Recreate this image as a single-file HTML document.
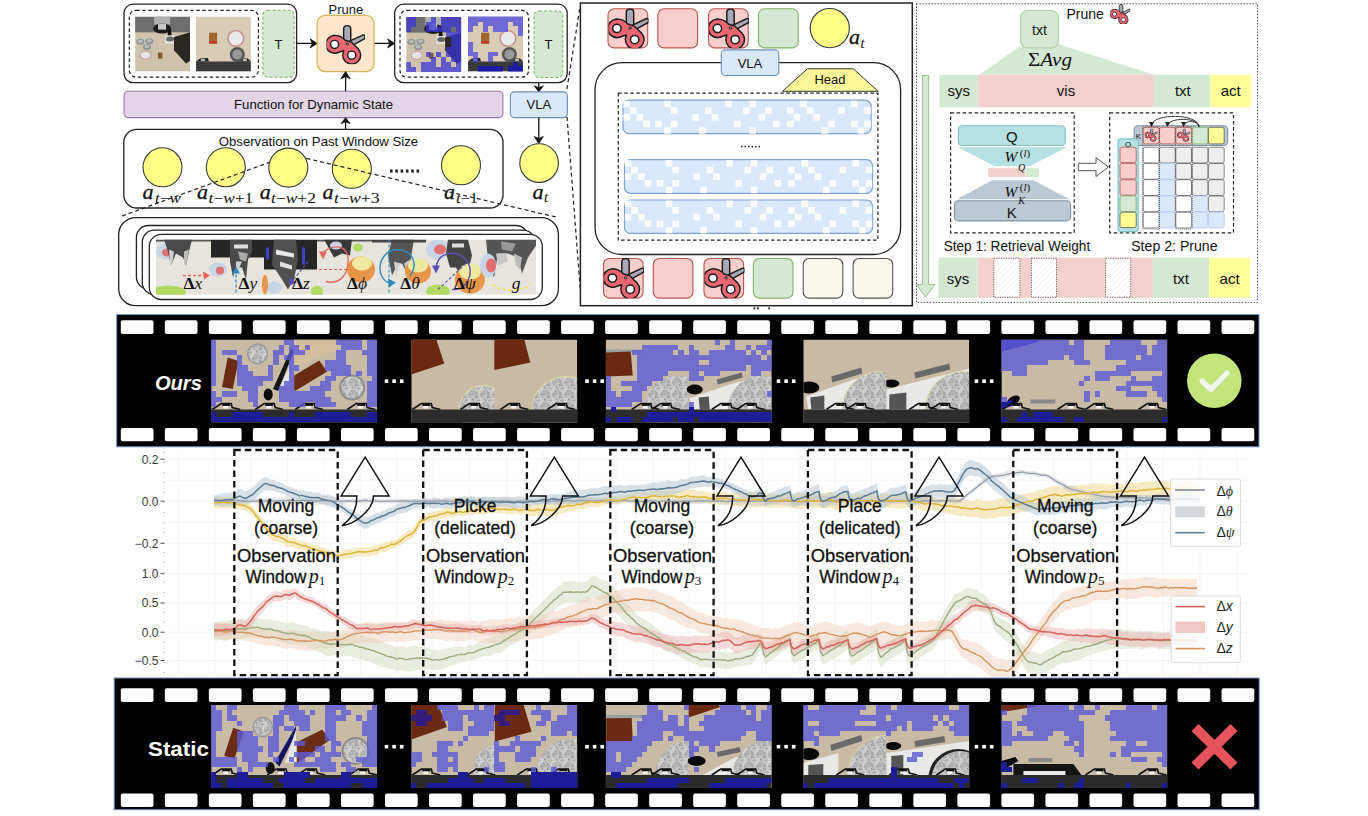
<!DOCTYPE html>
<html><head><meta charset="utf-8"><title>figure</title>
<style>html,body{margin:0;padding:0;background:#fff;} body{width:1368px;height:816px;overflow:hidden;} svg{display:block;}</style>
</head><body>
<svg width="1368" height="816" viewBox="0 0 1368 816">
<defs>
<symbol id="sc" viewBox="0 0 40 40">
  <path d="M17.8,19 L17.8,4 Q17.8,0.6 21.5,0.6 Q25.2,0.6 25.2,4 L25.2,19 Z" fill="#a9a8b4" stroke="#1d1d1d" stroke-width="1.5" stroke-linejoin="round"/>
  <path d="M24,16.8 L37.6,10.4 Q40.2,9.6 40,12.4 L39.6,14.2 L25.8,21.8 Z" fill="#a9a8b4" stroke="#1d1d1d" stroke-width="1.5" stroke-linejoin="round"/>
  <g fill="#1d1d1d" stroke="#1d1d1d" stroke-width="3">
   <circle cx="8.4" cy="20.1" r="8.4"/><circle cx="26.2" cy="31.3" r="8.6"/>
   <path d="M8.4,11.7 C13,11.7 16,13 19,16.5 L25.5,18.5 L32,25 L26.2,31.3 L18.6,31.3 L18.6,26 C14,26.5 11,28.5 8.4,28.5 Z"/>
  </g>
  <g fill="#ea6670">
   <circle cx="8.4" cy="20.1" r="8.4"/><circle cx="26.2" cy="31.3" r="8.6"/>
   <path d="M8.4,11.7 C13,11.7 16,13 19,16.5 L25.5,18.5 L32,25 L26.2,31.3 L18.6,31.3 L18.6,26 C14,26.5 11,28.5 8.4,28.5 Z"/>
  </g>
  <circle cx="8.4" cy="20.1" r="4.2" fill="#fff" stroke="#1d1d1d" stroke-width="1.5"/>
  <circle cx="26.2" cy="31.3" r="4.2" fill="#fff" stroke="#1d1d1d" stroke-width="1.5"/>
  <circle cx="21.6" cy="19.8" r="1.2" fill="#8aa" stroke="#1d1d1d" stroke-width="0.9"/>
</symbol>
<pattern id="tex" width="12" height="12" patternUnits="userSpaceOnUse"><rect width="12" height="12" fill="#c2c2c2"/><rect x="7.5" y="8.9" width="1.2" height="1.2" fill="#8c8c8c"/><rect x="0.3" y="5.6" width="1.2" height="1.2" fill="#e0e0e0"/><rect x="7.8" y="10.8" width="1.2" height="1.2" fill="#9a9a9a"/><rect x="4.5" y="10.4" width="1.2" height="1.2" fill="#d8d8d8"/><rect x="6.5" y="6.9" width="1.2" height="1.2" fill="#9a9a9a"/><rect x="8.8" y="4.9" width="1.2" height="1.2" fill="#e0e0e0"/><rect x="11.0" y="9.2" width="1.2" height="1.2" fill="#e0e0e0"/><rect x="9.1" y="0.9" width="1.2" height="1.2" fill="#8c8c8c"/><rect x="7.4" y="1.5" width="1.2" height="1.2" fill="#9a9a9a"/><rect x="11.7" y="0.1" width="1.2" height="1.2" fill="#e0e0e0"/><rect x="11.5" y="2.0" width="1.2" height="1.2" fill="#e0e0e0"/><rect x="3.5" y="11.5" width="1.2" height="1.2" fill="#8c8c8c"/><rect x="10.5" y="7.5" width="1.2" height="1.2" fill="#e0e0e0"/><rect x="11.3" y="8.3" width="1.2" height="1.2" fill="#d8d8d8"/><rect x="3.6" y="4.3" width="1.2" height="1.2" fill="#e0e0e0"/><rect x="11.2" y="3.2" width="1.2" height="1.2" fill="#a8a8a8"/><rect x="3.6" y="7.2" width="1.2" height="1.2" fill="#9a9a9a"/><rect x="7.2" y="8.5" width="1.2" height="1.2" fill="#9a9a9a"/><rect x="3.7" y="9.8" width="1.2" height="1.2" fill="#d8d8d8"/><rect x="8.4" y="2.2" width="1.2" height="1.2" fill="#d8d8d8"/><rect x="8.5" y="0.7" width="1.2" height="1.2" fill="#9a9a9a"/><rect x="11.4" y="4.3" width="1.2" height="1.2" fill="#d8d8d8"/><rect x="0.2" y="9.5" width="1.2" height="1.2" fill="#a8a8a8"/><rect x="4.5" y="10.1" width="1.2" height="1.2" fill="#d8d8d8"/><rect x="0.6" y="2.2" width="1.2" height="1.2" fill="#e0e0e0"/><rect x="1.4" y="3.0" width="1.2" height="1.2" fill="#d8d8d8"/><rect x="4.1" y="4.3" width="1.2" height="1.2" fill="#8c8c8c"/><rect x="3.0" y="5.6" width="1.2" height="1.2" fill="#8c8c8c"/><rect x="9.0" y="9.6" width="1.2" height="1.2" fill="#a8a8a8"/><rect x="0.4" y="11.3" width="1.2" height="1.2" fill="#9a9a9a"/><rect x="2.5" y="6.2" width="1.2" height="1.2" fill="#a8a8a8"/><rect x="11.0" y="4.1" width="1.2" height="1.2" fill="#8c8c8c"/><rect x="1.1" y="8.2" width="1.2" height="1.2" fill="#a8a8a8"/><rect x="2.1" y="0.9" width="1.2" height="1.2" fill="#e0e0e0"/><rect x="8.7" y="3.7" width="1.2" height="1.2" fill="#d8d8d8"/><rect x="1.9" y="0.6" width="1.2" height="1.2" fill="#8c8c8c"/><rect x="6.4" y="4.9" width="1.2" height="1.2" fill="#e0e0e0"/><rect x="8.9" y="4.1" width="1.2" height="1.2" fill="#a8a8a8"/><rect x="5.5" y="5.1" width="1.2" height="1.2" fill="#9a9a9a"/><rect x="11.7" y="7.7" width="1.2" height="1.2" fill="#d8d8d8"/><rect x="4.0" y="2.5" width="1.2" height="1.2" fill="#8c8c8c"/><rect x="11.4" y="7.6" width="1.2" height="1.2" fill="#d8d8d8"/><rect x="1.3" y="5.2" width="1.2" height="1.2" fill="#e0e0e0"/><rect x="0.7" y="5.0" width="1.2" height="1.2" fill="#e0e0e0"/><rect x="5.4" y="12.0" width="1.2" height="1.2" fill="#e0e0e0"/><rect x="11.7" y="5.4" width="1.2" height="1.2" fill="#d8d8d8"/><rect x="8.3" y="3.8" width="1.2" height="1.2" fill="#a8a8a8"/><rect x="3.5" y="4.8" width="1.2" height="1.2" fill="#e0e0e0"/><rect x="1.4" y="9.9" width="1.2" height="1.2" fill="#8c8c8c"/><rect x="11.5" y="7.5" width="1.2" height="1.2" fill="#d8d8d8"/><rect x="10.4" y="2.2" width="1.2" height="1.2" fill="#d8d8d8"/><rect x="3.3" y="9.4" width="1.2" height="1.2" fill="#8c8c8c"/><rect x="4.3" y="9.4" width="1.2" height="1.2" fill="#a8a8a8"/><rect x="8.3" y="8.0" width="1.2" height="1.2" fill="#a8a8a8"/><rect x="4.4" y="8.5" width="1.2" height="1.2" fill="#a8a8a8"/><rect x="10.0" y="3.2" width="1.2" height="1.2" fill="#a8a8a8"/><rect x="11.5" y="4.1" width="1.2" height="1.2" fill="#e0e0e0"/><rect x="7.0" y="0.1" width="1.2" height="1.2" fill="#8c8c8c"/><rect x="9.3" y="3.9" width="1.2" height="1.2" fill="#a8a8a8"/><rect x="5.6" y="9.8" width="1.2" height="1.2" fill="#a8a8a8"/></pattern>
<pattern id="hatch" width="4" height="4" patternUnits="userSpaceOnUse" patternTransform="rotate(45)"><rect width="4" height="4" fill="#fff"/><line x1="0" y1="0" x2="0" y2="4" stroke="#f1f1f1" stroke-width="1.5"/></pattern>
</defs>
<rect x="0" y="0" width="1368" height="816" fill="#fff"/>
<rect x="124.00" y="4.20" width="172.60" height="78.40" rx="9" fill="#fff" stroke="#222" stroke-width="1.3" />
<rect x="129.30" y="10.30" width="129.10" height="66.90" rx="7" fill="none" stroke="#222" stroke-width="1.2" stroke-dasharray="3.5,2.5"/>
<rect x="262.80" y="10.30" width="31.30" height="66.90" rx="5" fill="#d5e8d4" stroke="#82b366" stroke-width="1.1" stroke-dasharray="3,2"/>
<text x="278.50" y="48.50" font-family='"Liberation Sans", sans-serif' font-size="13" fill="#111" text-anchor="middle" font-weight="normal" font-style="normal" >T</text>
<rect x="394.70" y="4.20" width="172.50" height="78.40" rx="9" fill="#fff" stroke="#222" stroke-width="1.3" />
<rect x="400.00" y="10.30" width="128.70" height="66.90" rx="7" fill="none" stroke="#222" stroke-width="1.2" stroke-dasharray="3.5,2.5"/>
<rect x="534.10" y="11.00" width="28.70" height="66.50" rx="5" fill="#d5e8d4" stroke="#82b366" stroke-width="1.1" stroke-dasharray="3,2"/>
<text x="548.50" y="48.50" font-family='"Liberation Sans", sans-serif' font-size="13" fill="#111" text-anchor="middle" font-weight="normal" font-style="normal" >T</text>
<clipPath id="c1"><rect x="135.10" y="16.60" width="55.00" height="55.00"/></clipPath><g clip-path="url(#c1)">
<rect x="135.10" y="16.60" width="55.00" height="55.00" rx="0" fill="#cec2ad" stroke="none" stroke-width="1" />
<rect x="135.10" y="16.60" width="55.00" height="15.70" rx="0" fill="#6e6e6e" stroke="none" stroke-width="1" />
<rect x="154.10" y="16.60" width="16.00" height="8.00" rx="0" fill="#b0b0b0" stroke="none" stroke-width="1" />
<ellipse cx="162.10" cy="28.60" rx="9" ry="5" fill="#1c1c1c" />
<rect x="158.10" y="23.60" width="8.00" height="6.00" rx="0" fill="#c8c8c8" stroke="none" stroke-width="1" />
<path d="M168.10,29.60 L171.10,29.60 L171.60,35.60 L167.60,35.60 Z" fill="#111" />
<path d="M165.10,35.60 L175.10,35.60 L175.10,43.60 L165.10,43.60 Z" fill="#e0e0e0" />
<ellipse cx="170.10" cy="39.10" rx="4" ry="2.5" fill="#666" />
<path d="M174.00,37.00 L190.10,32.30 L190.10,60.80 L186.00,63.60 L174.00,50.30 Z" fill="#2a2723" />
<ellipse cx="140.30" cy="41.80" rx="4" ry="3" fill="#8d9392" />
<ellipse cx="140.30" cy="41.30" rx="2.5" ry="1.8" fill="#b8bcbc" />
<ellipse cx="149.40" cy="41.30" rx="4" ry="3" fill="#8d9392" />
<ellipse cx="149.40" cy="40.80" rx="2.5" ry="1.8" fill="#b8bcbc" />
<ellipse cx="147.00" cy="47.00" rx="4" ry="3" fill="#8d9392" />
<ellipse cx="147.00" cy="46.50" rx="2.5" ry="1.8" fill="#b8bcbc" />
<ellipse cx="145.60" cy="55.10" rx="5.5" ry="4" fill="#e4e4e4" stroke="#c98f8f" stroke-width="1"/>
<rect x="157.90" y="52.60" width="4.50" height="6.00" rx="0" fill="#8a5a28" stroke="none" stroke-width="1" />
</g>
<clipPath id="c2"><rect x="195.90" y="16.50" width="55.00" height="55.00"/></clipPath><g clip-path="url(#c2)">
<rect x="195.90" y="16.50" width="55.00" height="55.00" rx="0" fill="#d8ccb7" stroke="none" stroke-width="1" />
<rect x="195.90" y="61.50" width="55.00" height="10.00" rx="0" fill="#3a3a3a" stroke="none" stroke-width="1" />
<path d="M195.90,61.50 L199.90,58.50 L207.90,58.00 L208.90,61.50 Z" fill="#222" />
<path d="M237.90,61.50 L240.90,58.50 L247.90,58.50 L250.90,61.50 Z" fill="#222" />
<rect x="200.90" y="59.00" width="4.00" height="2.00" rx="0" fill="#bbb" stroke="none" stroke-width="1" />
<rect x="242.90" y="59.00" width="4.00" height="2.00" rx="0" fill="#bbb" stroke="none" stroke-width="1" />
<rect x="209.00" y="32.70" width="8.10" height="10.90" rx="0" fill="#9c6a2a" stroke="none" stroke-width="1" />
<rect x="209.00" y="41.00" width="8.10" height="2.60" rx="0" fill="#c0402a" stroke="none" stroke-width="1" />
<ellipse cx="235.80" cy="38.40" rx="7.8" ry="7.8" fill="#eaeaea" stroke="#c98f8f" stroke-width="1.5"/>
<ellipse cx="237.30" cy="54.50" rx="7.5" ry="7.5" fill="#555" />
<ellipse cx="237.30" cy="54.50" rx="5" ry="5" fill="#9a9a9a" />
</g>
<clipPath id="c3"><rect x="406.20" y="16.90" width="55.00" height="55.00"/></clipPath><g clip-path="url(#c3)">
<rect x="406.20" y="16.90" width="55.00" height="55.00" rx="0" fill="#cec2ad" stroke="none" stroke-width="1" />
<rect x="406.20" y="16.90" width="55.00" height="15.70" rx="0" fill="#6e6e6e" stroke="none" stroke-width="1" />
<rect x="425.20" y="16.90" width="16.00" height="8.00" rx="0" fill="#b0b0b0" stroke="none" stroke-width="1" />
<ellipse cx="433.20" cy="28.90" rx="9" ry="5" fill="#1c1c1c" />
<rect x="429.20" y="23.90" width="8.00" height="6.00" rx="0" fill="#c8c8c8" stroke="none" stroke-width="1" />
<path d="M439.20,29.90 L442.20,29.90 L442.70,35.90 L438.70,35.90 Z" fill="#111" />
<path d="M436.20,35.90 L446.20,35.90 L446.20,43.90 L436.20,43.90 Z" fill="#e0e0e0" />
<ellipse cx="441.20" cy="39.40" rx="4" ry="2.5" fill="#666" />
<path d="M445.10,37.30 L461.20,32.60 L461.20,61.10 L457.10,63.90 L445.10,50.60 Z" fill="#2a2723" />
<ellipse cx="411.40" cy="42.10" rx="4" ry="3" fill="#8d9392" />
<ellipse cx="411.40" cy="41.60" rx="2.5" ry="1.8" fill="#b8bcbc" />
<ellipse cx="420.50" cy="41.60" rx="4" ry="3" fill="#8d9392" />
<ellipse cx="420.50" cy="41.10" rx="2.5" ry="1.8" fill="#b8bcbc" />
<ellipse cx="418.10" cy="47.30" rx="4" ry="3" fill="#8d9392" />
<ellipse cx="418.10" cy="46.80" rx="2.5" ry="1.8" fill="#b8bcbc" />
<ellipse cx="416.70" cy="55.40" rx="5.5" ry="4" fill="#e4e4e4" stroke="#c98f8f" stroke-width="1"/>
<rect x="429.00" y="52.90" width="4.50" height="6.00" rx="0" fill="#8a5a28" stroke="none" stroke-width="1" />
<path d="M406,17H416V22H406ZM431,17H436V22H431ZM441,17H462.2V22H441ZM406,22H416V27H406ZM426,22H436V27H426ZM441,22H462.2V27H441ZM406,27H411V32H406ZM426,27H451V32H426ZM456,27H462.2V32H456ZM446,32H462.2V37H446ZM451,37H462.2V42H451ZM451,42H462.2V47H451ZM446,47H462.2V52H446ZM426,52H431V57H426ZM436,52H441V57H436ZM446,52H462.2V57H446ZM431,57H436V62H431ZM441,57H446V62H441ZM451,57H462.2V62H451ZM406,62H411V67H406ZM421,62H436V67H421ZM441,62H451V67H441ZM456,62H462.2V67H456ZM406,67H416V72.9H406ZM421,67H462.2V72.9H421Z" fill="#3c36d6" fill-opacity="0.75" shape-rendering="crispEdges"/>
</g>
<clipPath id="c4"><rect x="468.00" y="16.50" width="55.00" height="55.00"/></clipPath><g clip-path="url(#c4)">
<rect x="468.00" y="16.50" width="55.00" height="55.00" rx="0" fill="#d8ccb7" stroke="none" stroke-width="1" />
<rect x="468.00" y="61.50" width="55.00" height="10.00" rx="0" fill="#3a3a3a" stroke="none" stroke-width="1" />
<path d="M468.00,61.50 L472.00,58.50 L480.00,58.00 L481.00,61.50 Z" fill="#222" />
<path d="M510.00,61.50 L513.00,58.50 L520.00,58.50 L523.00,61.50 Z" fill="#222" />
<rect x="473.00" y="59.00" width="4.00" height="2.00" rx="0" fill="#bbb" stroke="none" stroke-width="1" />
<rect x="515.00" y="59.00" width="4.00" height="2.00" rx="0" fill="#bbb" stroke="none" stroke-width="1" />
<rect x="481.10" y="32.70" width="8.10" height="10.90" rx="0" fill="#9c6a2a" stroke="none" stroke-width="1" />
<rect x="481.10" y="41.00" width="8.10" height="2.60" rx="0" fill="#c0402a" stroke="none" stroke-width="1" />
<ellipse cx="507.90" cy="38.40" rx="7.8" ry="7.8" fill="#eaeaea" stroke="#c98f8f" stroke-width="1.5"/>
<ellipse cx="509.40" cy="54.50" rx="7.5" ry="7.5" fill="#555" />
<ellipse cx="509.40" cy="54.50" rx="5" ry="5" fill="#9a9a9a" />
<path d="M468,16H524V22H468ZM468,22H478V26H468ZM483,22H508V26H483ZM513,22H524V26H513ZM468,26H473V32H468ZM483,26H488V32H483ZM493,26H508V32H493ZM518,26H524V32H518ZM518,32H524V36H518ZM468,42H473V46H468ZM468,46H473V52H468ZM468,52H478V56H468ZM488,52H498V56H488ZM473,56H478V62H473ZM488,56H493V62H488Z" fill="#4f48dc" fill-opacity="0.75" shape-rendering="crispEdges"/>
<path d="M513,62H518V66H513ZM478,66H503V72.5H478ZM508,66H524V72.5H508Z" fill="#1a18b0" fill-opacity="0.9" shape-rendering="crispEdges"/>
</g>
<line x1="296.60" y1="43.40" x2="312.20" y2="43.40" stroke="#111" stroke-width="1.3" />
<path d="M317.20,43.40 L310.20,47.90 L312.30,43.40 L310.20,38.90 Z" fill="#111" stroke="#111" stroke-width="0.8"/>
<line x1="374.10" y1="43.40" x2="389.70" y2="43.40" stroke="#111" stroke-width="1.3" />
<path d="M394.70,43.40 L387.70,47.90 L389.80,43.40 L387.70,38.90 Z" fill="#111" stroke="#111" stroke-width="0.8"/>
<rect x="317.20" y="15.40" width="56.90" height="56.20" rx="8" fill="#ffe6cc" stroke="#d6b656" stroke-width="1.3" />
<text x="345.90" y="14.00" font-family='"Liberation Sans", sans-serif' font-size="13" fill="#111" text-anchor="middle" font-weight="normal" font-style="normal" textLength="34.6" lengthAdjust="spacingAndGlyphs" >Prune</text>
<use href="#sc" x="326.50" y="24.30" width="38.50" height="40.00"/>
<rect x="124.10" y="91.20" width="378.80" height="26.40" rx="4" fill="#e1d5e7" stroke="#9673a6" stroke-width="1.1" />
<text x="313.50" y="108.80" font-family='"Liberation Sans", sans-serif' font-size="13" fill="#111" text-anchor="middle" font-weight="normal" font-style="normal" textLength="159" lengthAdjust="spacingAndGlyphs" >Function for Dynamic State</text>
<line x1="345.60" y1="91.20" x2="345.60" y2="76.60" stroke="#111" stroke-width="1.3" />
<path d="M345.60,71.60 L350.10,78.60 L345.60,76.50 L341.10,78.60 Z" fill="#111" stroke="#111" stroke-width="0.8"/>
<line x1="345.60" y1="129.30" x2="345.60" y2="121.60" stroke="#111" stroke-width="1.3" />
<path d="M345.60,117.60 L350.10,123.60 L345.60,121.80 L341.10,123.60 Z" fill="#111" stroke="#111" stroke-width="0.8"/>
<line x1="538.80" y1="82.60" x2="538.80" y2="87.90" stroke="#111" stroke-width="1.3" />
<path d="M538.80,91.90 L534.30,85.90 L538.80,87.70 L543.30,85.90 Z" fill="#111" stroke="#111" stroke-width="0.8"/>
<rect x="510.30" y="91.90" width="57.10" height="25.70" rx="4" fill="#dae8fc" stroke="#6c8ebf" stroke-width="1.1" />
<text x="538.80" y="109.00" font-family='"Liberation Sans", sans-serif' font-size="13" fill="#111" text-anchor="middle" font-weight="normal" font-style="normal" >VLA</text>
<line x1="538.80" y1="117.60" x2="538.80" y2="138.50" stroke="#111" stroke-width="1.3" />
<path d="M538.80,143.50 L534.30,136.50 L538.80,138.60 L543.30,136.50 Z" fill="#111" stroke="#111" stroke-width="0.8"/>
<circle cx="539.1" cy="163.1" r="19.3" fill="#ffff88" stroke="#36393d" stroke-width="1.1"/>
<text x="532.50" y="198.80" font-family='"Liberation Serif", serif' font-size="22" fill="#111" text-anchor="start" font-weight="normal" font-style="italic" stroke="#111" stroke-width="0.3">a</text>
<text x="544.00" y="202.00" font-family='"Liberation Serif", serif' font-size="14.5" fill="#111" text-anchor="start" font-weight="normal" font-style="italic" >t</text>
<rect x="123.80" y="129.40" width="379.20" height="78.60" rx="13" fill="#fff" stroke="#222" stroke-width="1.3" />
<text x="218.70" y="146.40" font-family='"Liberation Sans", sans-serif' font-size="13" fill="#111" text-anchor="start" font-weight="normal" font-style="normal" textLength="199.5" lengthAdjust="spacingAndGlyphs" >Observation on Past Window Size</text>
<circle cx="162.5" cy="167.3" r="19.5" fill="#ffff88" stroke="#36393d" stroke-width="1.1"/>
<circle cx="225.8" cy="167.2" r="19.5" fill="#ffff88" stroke="#36393d" stroke-width="1.1"/>
<circle cx="288.3" cy="167.6" r="19.5" fill="#ffff88" stroke="#36393d" stroke-width="1.1"/>
<circle cx="351.8" cy="168.8" r="19.5" fill="#ffff88" stroke="#36393d" stroke-width="1.1"/>
<circle cx="461" cy="165.3" r="19.5" fill="#ffff88" stroke="#36393d" stroke-width="1.1"/>
<rect x="390.00" y="169.50" width="2.60" height="3.10" rx="0" fill="#222" stroke="none" stroke-width="1" />
<rect x="395.30" y="169.50" width="2.60" height="3.10" rx="0" fill="#222" stroke="none" stroke-width="1" />
<rect x="400.60" y="169.50" width="2.60" height="3.10" rx="0" fill="#222" stroke="none" stroke-width="1" />
<rect x="405.90" y="169.50" width="2.60" height="3.10" rx="0" fill="#222" stroke="none" stroke-width="1" />
<rect x="411.20" y="169.50" width="2.60" height="3.10" rx="0" fill="#222" stroke="none" stroke-width="1" />
<rect x="416.50" y="169.50" width="2.60" height="3.10" rx="0" fill="#222" stroke="none" stroke-width="1" />
<text x="142.50" y="199.40" font-family='"Liberation Serif", serif' font-size="22" fill="#111" text-anchor="start" font-weight="normal" font-style="italic" stroke="#111" stroke-width="0.3">a</text>
<text x="155.00" y="202.50" font-family='"Liberation Serif", serif' font-size="14.5" fill="#111" text-anchor="start" font-weight="normal" font-style="normal" textLength="26" lengthAdjust="spacingAndGlyphs" ><tspan font-style="italic">t</tspan>−<tspan font-style="italic">w</tspan></text>
<text x="197.00" y="199.40" font-family='"Liberation Serif", serif' font-size="22" fill="#111" text-anchor="start" font-weight="normal" font-style="italic" stroke="#111" stroke-width="0.3">a</text>
<text x="208.50" y="202.50" font-family='"Liberation Serif", serif' font-size="14.5" fill="#111" text-anchor="start" font-weight="normal" font-style="normal" textLength="44.8" lengthAdjust="spacingAndGlyphs" ><tspan font-style="italic">t</tspan>−<tspan font-style="italic">w</tspan>+1</text>
<text x="259.70" y="199.40" font-family='"Liberation Serif", serif' font-size="22" fill="#111" text-anchor="start" font-weight="normal" font-style="italic" stroke="#111" stroke-width="0.3">a</text>
<text x="271.00" y="202.50" font-family='"Liberation Serif", serif' font-size="14.5" fill="#111" text-anchor="start" font-weight="normal" font-style="normal" textLength="45" lengthAdjust="spacingAndGlyphs" ><tspan font-style="italic">t</tspan>−<tspan font-style="italic">w</tspan>+2</text>
<text x="322.60" y="199.40" font-family='"Liberation Serif", serif' font-size="22" fill="#111" text-anchor="start" font-weight="normal" font-style="italic" stroke="#111" stroke-width="0.3">a</text>
<text x="334.00" y="202.50" font-family='"Liberation Serif", serif' font-size="14.5" fill="#111" text-anchor="start" font-weight="normal" font-style="normal" textLength="45.6" lengthAdjust="spacingAndGlyphs" ><tspan font-style="italic">t</tspan>−<tspan font-style="italic">w</tspan>+3</text>
<text x="444.00" y="199.40" font-family='"Liberation Serif", serif' font-size="22" fill="#111" text-anchor="start" font-weight="normal" font-style="italic" stroke="#111" stroke-width="0.3">a</text>
<text x="456.00" y="202.50" font-family='"Liberation Serif", serif' font-size="14.5" fill="#111" text-anchor="start" font-weight="normal" font-style="normal" textLength="22" lengthAdjust="spacingAndGlyphs" ><tspan font-style="italic">t</tspan>−1</text>
<g stroke="#222" stroke-width="1.2" stroke-dasharray="4,3" fill="none">
<path d="M122,216 L269.4,162.4"/>
<path d="M306.4,158.4 L558,217.5"/>
<path d="M579.7,9 L566.8,90"/>
<path d="M567,117 L580.5,292"/>
</g>
<rect x="118.70" y="217.60" width="439.70" height="88.10" rx="17" fill="#fff" stroke="#222" stroke-width="1.3" />
<rect x="136.40" y="225.50" width="391.60" height="63.50" rx="12" fill="#fff" stroke="#222" stroke-width="1.3" />
<rect x="142.30" y="230.20" width="392.70" height="64.30" rx="12" fill="#fff" stroke="#222" stroke-width="1.3" />
<rect x="149.30" y="234.40" width="393.00" height="65.10" rx="12" fill="#fff" stroke="#222" stroke-width="1.3" />
<clipPath id="c5"><rect x="156.00" y="239.50" width="380.10" height="55.30"/></clipPath><g clip-path="url(#c5)">
<rect x="156.00" y="239.50" width="380.10" height="55.30" rx="0" fill="#e7e4dd" stroke="none" stroke-width="1" />
<rect x="156.00" y="239.50" width="55.00" height="2.00" rx="0" fill="#555" stroke="none" stroke-width="1" />
<ellipse cx="166.00" cy="251.50" rx="10" ry="8" fill="#c8d5e4" />
<ellipse cx="167.00" cy="252.50" rx="5" ry="4" fill="#e07070" />
<path d="M164.00,239.50 L192.00,239.50 L189.00,251.50 L186.00,265.50 L183.00,257.50 L176.00,253.50 L171.00,265.50 L168.00,251.50 Z" fill="#4a4a4a" />
<path d="M169.00,249.50 L174.00,251.50 L172.00,265.50 L170.00,263.50 Z" fill="#cfcfcf" />
<path d="M184.00,251.50 L189.00,249.50 L186.00,265.50 L184.00,263.50 Z" fill="#bdbdbd" />
<ellipse cx="168.00" cy="292.50" rx="18" ry="7" fill="#b3db63" />
<rect x="211.00" y="239.50" width="53.00" height="18.00" rx="0" fill="#262626" stroke="none" stroke-width="1" />
<ellipse cx="218.00" cy="269.50" rx="9" ry="7" fill="#c8d5e4" />
<ellipse cx="220.00" cy="270.50" rx="4" ry="4" fill="#e07070" />
<path d="M230.00,239.50 L252.00,239.50 L252.00,251.50 L248.00,259.50 L246.00,279.50 L242.00,267.50 L236.00,267.50 L233.00,277.50 L230.00,261.50 Z" fill="#4a4a4a" />
<path d="M238.00,251.50 L248.00,253.50 L246.00,261.50 L240.00,259.50 Z" fill="#aaa" />
<path d="M234.00,244.50 L248.00,244.50 L248.00,248.50 L234.00,248.50 Z" fill="#ddd" />
<path d="M236.00,261.50 L242.00,261.50 L236.00,275.50 Z" fill="#cfcfcf" />
<rect x="264.00" y="239.50" width="53.00" height="30.00" rx="0" fill="#262626" stroke="none" stroke-width="1" />
<path d="M274.00,239.50 L296.00,239.50 L298.00,259.50 L294.00,279.50 L288.00,289.50 L282.00,279.50 L272.00,264.50 Z" fill="#505050" />
<path d="M276.00,249.50 L294.00,253.50 L294.00,257.50 L276.00,254.50 Z" fill="#e8e8e8" />
<path d="M280.00,261.50 L292.00,265.50 L292.00,269.50 L280.00,266.50 Z" fill="#e0e0e0" />
<ellipse cx="274.00" cy="287.50" rx="8" ry="6" fill="#c8d5e4" />
<ellipse cx="265.00" cy="284.50" rx="3" ry="10" fill="#e8954a" />
<rect x="302.00" y="247.50" width="3.00" height="17.00" rx="0" fill="#4040c8" stroke="none" stroke-width="1" />
<rect x="266.00" y="247.50" width="3.00" height="12.00" rx="0" fill="#4040c8" stroke="none" stroke-width="1" />
<ellipse cx="317.00" cy="291.50" rx="6" ry="6" fill="#b3db63" />
<rect x="317.00" y="239.50" width="55.00" height="2.00" rx="0" fill="#555" stroke="none" stroke-width="1" />
<path d="M324.00,239.50 L352.00,239.50 L350.00,255.50 L342.00,253.50 L334.00,257.50 Z" fill="#3a3a3a" />
<ellipse cx="361.00" cy="269.50" rx="14" ry="13" fill="#e8954a" />
<ellipse cx="362.00" cy="263.50" rx="10" ry="7" fill="#efe9a0" />
<ellipse cx="336.00" cy="245.50" rx="6" ry="4" fill="#c8d5e4" />
<ellipse cx="358.00" cy="247.50" rx="5" ry="4" fill="#b3db63" />
<path d="M392.00,239.50 L414.00,239.50 L412.00,251.50 L408.00,275.50 L402.00,263.50 L398.00,263.50 L392.00,275.50 L388.00,255.50 Z" fill="#555" />
<path d="M394.00,261.50 L400.00,263.50 L396.00,277.50 Z" fill="#d0d0d0" />
<path d="M404.00,263.50 L410.00,259.50 L408.00,277.50 Z" fill="#c8c8c8" />
<ellipse cx="418.00" cy="271.50" rx="13" ry="12" fill="#e8954a" />
<ellipse cx="418.00" cy="265.50" rx="10" ry="7" fill="#efe9a0" />
<rect x="372.00" y="239.50" width="54.00" height="3.00" rx="0" fill="#444" stroke="none" stroke-width="1" />
<ellipse cx="438.00" cy="249.50" rx="12" ry="10" fill="#c8d5e4" />
<ellipse cx="440.00" cy="249.50" rx="6" ry="5" fill="#e07070" />
<path d="M448.00,239.50 L468.00,239.50 L472.00,255.50 L468.00,271.50 L462.00,277.50 L456.00,267.50 L450.00,267.50 L446.00,253.50 Z" fill="#444" />
<path d="M452.00,243.50 L464.00,243.50 L464.00,247.50 L452.00,247.50 Z" fill="#ddd" />
<ellipse cx="470.00" cy="279.50" rx="15" ry="14" fill="#e8954a" />
<ellipse cx="470.00" cy="271.50" rx="11" ry="8" fill="#efe9a0" />
<ellipse cx="438.00" cy="291.50" rx="12" ry="7" fill="#b3db63" />
<path d="M486.00,239.50 L536.00,239.50 L536.00,245.50 L528.00,257.50 L522.00,273.50 L518.00,257.50 L508.00,253.50 L498.00,253.50 L494.00,277.50 L488.00,259.50 Z" fill="#555" />
<path d="M501.00,241.50 L516.00,243.50 L512.00,251.50 L502.00,249.50 Z" fill="#999" />
<path d="M496.00,253.50 L506.00,253.50 L508.00,261.50 L498.00,265.50 Z" fill="#c8c8c8" />
<path d="M514.00,253.50 L522.00,257.50 L520.00,269.50 L516.00,265.50 Z" fill="#bcbcbc" />
<ellipse cx="488.00" cy="265.50" rx="8" ry="12" fill="#c8d5e4" />
<ellipse cx="491.00" cy="265.50" rx="5" ry="7" fill="#e07070" />
</g>
<path d="M183,275.5 L205,275.5" fill="none" stroke="#e0685e" stroke-width="1.3" stroke-dasharray="3,2"/>
<path d="M210,275.5 L203,271.5 L204,279.5 Z" fill="#e0685e"/>
<path d="M236,292.5 L236,272.5" fill="none" stroke="#2f8cc0" stroke-width="1.3" stroke-dasharray="3,2"/>
<path d="M236,266.5 L232,273.5 L240,273.5 Z" fill="#2f8cc0"/>
<path d="M308,261.5 L292,281.5" fill="none" stroke="#5a4fb0" stroke-width="1.2" stroke-dasharray="3,2"/>
<path d="M289,285.5 L290,277.5 L297,282.5 Z" fill="#5a4fb0"/>
<path d="M319,269.5 L350,269.5" fill="none" stroke="#e0685e" stroke-width="1.1" stroke-dasharray="3,2"/>
<path d="M324,251.5 C332,245.5 346,243.5 348,257.5 C349,271.5 342,285.5 326,281.5" fill="none" stroke="#e0685e" stroke-width="1.3" />
<path d="M323,259.5 L319,251.5 L327,251.5 Z" fill="#e0685e"/>
<path d="M389,239.5 L389,294.5" fill="none" stroke="#2f8cc0" stroke-width="1.1" stroke-dasharray="3,2"/>
<path d="M410,275.5 C418,265.5 414,249.5 396,249.5 C378,251.5 374,277.5 390,283.5" fill="none" stroke="#2f8cc0" stroke-width="1.4" />
<path d="M396,282.5 L388,278.5 L389,287.5 Z" fill="#2f8cc0"/>
<path d="M438,289.5 L466,263.5" fill="none" stroke="#5a4fb0" stroke-width="1.1" stroke-dasharray="3,2"/>
<path d="M436,267.5 C438,251.5 456,249.5 466,259.5 C476,273.5 466,291.5 452,289.5" fill="none" stroke="#5a4fb0" stroke-width="1.4" />
<path d="M436,273.5 L432,265.5 L440,265.5 Z" fill="#5a4fb0"/>
<path d="M493,284.5 C498,291.5 526,292.5 530,283.5" fill="none" stroke="#f2e24a" stroke-width="1.6" stroke-dasharray="3,2.5"/>
<text x="193.00" y="289.00" font-family='"Liberation Serif", serif' font-size="17.5" fill="#111" text-anchor="middle" font-weight="normal" font-style="normal" ><tspan font-weight="bold">Δ</tspan><tspan font-style="italic">x</tspan></text>
<text x="248.00" y="289.00" font-family='"Liberation Serif", serif' font-size="17.5" fill="#111" text-anchor="middle" font-weight="normal" font-style="normal" ><tspan font-weight="bold">Δ</tspan><tspan font-style="italic">y</tspan></text>
<text x="301.00" y="289.00" font-family='"Liberation Serif", serif' font-size="17.5" fill="#111" text-anchor="middle" font-weight="normal" font-style="normal" ><tspan font-weight="bold">Δ</tspan><tspan font-style="italic">z</tspan></text>
<text x="357.00" y="289.00" font-family='"Liberation Serif", serif' font-size="17.5" fill="#111" text-anchor="middle" font-weight="normal" font-style="normal" ><tspan font-weight="bold">Δ</tspan><tspan font-style="italic">ϕ</tspan></text>
<text x="410.00" y="289.00" font-family='"Liberation Serif", serif' font-size="17.5" fill="#111" text-anchor="middle" font-weight="normal" font-style="normal" ><tspan font-weight="bold">Δ</tspan><tspan font-style="italic">θ</tspan></text>
<text x="465.00" y="289.00" font-family='"Liberation Serif", serif' font-size="17.5" fill="#111" text-anchor="middle" font-weight="normal" font-style="normal" ><tspan font-weight="bold">Δ</tspan><tspan font-style="italic">ψ</tspan></text>
<text x="516.00" y="289.00" font-family='"Liberation Serif", serif' font-size="17.5" fill="#111" text-anchor="middle" font-weight="normal" font-style="normal" ><tspan font-style="italic">g</tspan></text>
<rect x="580.40" y="3.00" width="331.90" height="302.70" rx="0" fill="#fff" stroke="#222" stroke-width="1.5" />
<rect x="608.00" y="8.80" width="39.70" height="39.10" rx="6" fill="#f8cecc" stroke="#b85450" stroke-width="1.1" />
<use href="#sc" x="608.50" y="8.30" width="40.00" height="40.00"/>
<rect x="657.90" y="8.80" width="39.70" height="39.10" rx="6" fill="#f8cecc" stroke="#b85450" stroke-width="1.1" />
<rect x="708.50" y="8.80" width="39.70" height="39.10" rx="6" fill="#f8cecc" stroke="#b85450" stroke-width="1.1" />
<use href="#sc" x="709.00" y="8.30" width="40.00" height="40.00"/>
<rect x="758.50" y="8.80" width="39.70" height="39.10" rx="6" fill="#d5e8d4" stroke="#82b366" stroke-width="1.1" />
<circle cx="829.8" cy="28.1" r="19.6" fill="#ffff88" stroke="#36393d" stroke-width="1.1"/>
<text x="849.00" y="44.30" font-family='"Liberation Serif", serif' font-size="22" fill="#111" text-anchor="start" font-weight="normal" font-style="italic" stroke="#111" stroke-width="0.3">a</text>
<text x="860.50" y="47.50" font-family='"Liberation Serif", serif' font-size="14.5" fill="#111" text-anchor="start" font-weight="normal" font-style="italic" >t</text>
<rect x="595.00" y="62.70" width="305.60" height="191.80" rx="27" fill="#fff" stroke="#222" stroke-width="1.3" />
<rect x="721.30" y="49.90" width="57.50" height="25.60" rx="4" fill="#dae8fc" stroke="#6c8ebf" stroke-width="1.1" />
<text x="750.00" y="67.50" font-family='"Liberation Sans", sans-serif' font-size="13" fill="#111" text-anchor="middle" font-weight="normal" font-style="normal" >VLA</text>
<path d="M782.5,91.3 L807.4,68.8 L853.3,68.8 L878.2,91.3 Z" fill="#fff599" stroke="#333" stroke-width="1"/>
<text x="830.00" y="84.30" font-family='"Liberation Sans", sans-serif' font-size="13" fill="#111" text-anchor="middle" font-weight="normal" font-style="normal" >Head</text>
<rect x="618.30" y="93.20" width="259.60" height="147.00" rx="0" fill="none" stroke="#222" stroke-width="1.2" stroke-dasharray="3.5,2.5"/>
<rect x="623.10" y="100.20" width="248.00" height="33.50" rx="6" fill="#dae8fc" stroke="#7e9fd3" stroke-width="1.2" />
<clipPath id="c6"><rect x="623.10" y="100.20" width="248.00" height="33.50"/></clipPath><g clip-path="url(#c6)">
<rect x="623.30" y="100.70" width="6.65" height="6.65" rx="0" fill="#fbfdff" stroke="none" stroke-width="1" />
<rect x="630.00" y="107.35" width="6.65" height="6.65" rx="0" fill="#fbfdff" stroke="none" stroke-width="1" />
<rect x="623.30" y="114.00" width="6.65" height="6.65" rx="0" fill="#fbfdff" stroke="none" stroke-width="1" />
<rect x="636.60" y="114.00" width="6.65" height="6.65" rx="0" fill="#fbfdff" stroke="none" stroke-width="1" />
<rect x="643.30" y="120.65" width="6.65" height="6.65" rx="0" fill="#fbfdff" stroke="none" stroke-width="1" />
<rect x="655.20" y="120.65" width="6.65" height="6.65" rx="0" fill="#fbfdff" stroke="none" stroke-width="1" />
<rect x="664.20" y="100.70" width="6.65" height="6.65" rx="0" fill="#fbfdff" stroke="none" stroke-width="1" />
<rect x="670.90" y="107.35" width="6.65" height="6.65" rx="0" fill="#fbfdff" stroke="none" stroke-width="1" />
<rect x="670.90" y="120.65" width="6.65" height="6.65" rx="0" fill="#fbfdff" stroke="none" stroke-width="1" />
<rect x="664.20" y="127.30" width="6.65" height="6.65" rx="0" fill="#fbfdff" stroke="none" stroke-width="1" />
<rect x="692.20" y="114.00" width="6.65" height="6.65" rx="0" fill="#fbfdff" stroke="none" stroke-width="1" />
<rect x="698.90" y="127.30" width="6.65" height="6.65" rx="0" fill="#fbfdff" stroke="none" stroke-width="1" />
<rect x="705.10" y="107.35" width="6.65" height="6.65" rx="0" fill="#fbfdff" stroke="none" stroke-width="1" />
<rect x="711.70" y="114.00" width="6.65" height="6.65" rx="0" fill="#fbfdff" stroke="none" stroke-width="1" />
<rect x="725.00" y="100.70" width="6.65" height="6.65" rx="0" fill="#fbfdff" stroke="none" stroke-width="1" />
<rect x="734.10" y="120.65" width="6.65" height="6.65" rx="0" fill="#fbfdff" stroke="none" stroke-width="1" />
<rect x="743.10" y="107.35" width="6.65" height="6.65" rx="0" fill="#fbfdff" stroke="none" stroke-width="1" />
<rect x="749.30" y="100.70" width="6.65" height="6.65" rx="0" fill="#fbfdff" stroke="none" stroke-width="1" />
<rect x="765.00" y="107.35" width="6.65" height="6.65" rx="0" fill="#fbfdff" stroke="none" stroke-width="1" />
<rect x="758.30" y="114.00" width="6.65" height="6.65" rx="0" fill="#fbfdff" stroke="none" stroke-width="1" />
<rect x="773.00" y="120.65" width="6.65" height="6.65" rx="0" fill="#fbfdff" stroke="none" stroke-width="1" />
<rect x="749.30" y="127.30" width="6.65" height="6.65" rx="0" fill="#fbfdff" stroke="none" stroke-width="1" />
<rect x="786.80" y="107.35" width="6.65" height="6.65" rx="0" fill="#fbfdff" stroke="none" stroke-width="1" />
<rect x="793.50" y="114.00" width="6.65" height="6.65" rx="0" fill="#fbfdff" stroke="none" stroke-width="1" />
<rect x="786.80" y="120.65" width="6.65" height="6.65" rx="0" fill="#fbfdff" stroke="none" stroke-width="1" />
<rect x="800.10" y="100.70" width="6.65" height="6.65" rx="0" fill="#fbfdff" stroke="none" stroke-width="1" />
<rect x="806.80" y="107.35" width="6.65" height="6.65" rx="0" fill="#fbfdff" stroke="none" stroke-width="1" />
<rect x="813.40" y="114.00" width="6.65" height="6.65" rx="0" fill="#fbfdff" stroke="none" stroke-width="1" />
<rect x="828.20" y="120.65" width="6.65" height="6.65" rx="0" fill="#fbfdff" stroke="none" stroke-width="1" />
<rect x="821.50" y="127.30" width="6.65" height="6.65" rx="0" fill="#fbfdff" stroke="none" stroke-width="1" />
<rect x="838.20" y="107.35" width="6.65" height="6.65" rx="0" fill="#fbfdff" stroke="none" stroke-width="1" />
<rect x="851.00" y="100.70" width="6.65" height="6.65" rx="0" fill="#fbfdff" stroke="none" stroke-width="1" />
<rect x="851.00" y="120.65" width="6.65" height="6.65" rx="0" fill="#fbfdff" stroke="none" stroke-width="1" />
<rect x="857.60" y="127.30" width="6.65" height="6.65" rx="0" fill="#fbfdff" stroke="none" stroke-width="1" />
<rect x="864.30" y="107.35" width="6.65" height="6.65" rx="0" fill="#fbfdff" stroke="none" stroke-width="1" />
<rect x="864.30" y="120.65" width="6.65" height="6.65" rx="0" fill="#fbfdff" stroke="none" stroke-width="1" />
</g>
<rect x="624.50" y="159.60" width="248.00" height="33.70" rx="6" fill="#dae8fc" stroke="#7e9fd3" stroke-width="1.2" />
<clipPath id="c7"><rect x="624.50" y="159.60" width="248.00" height="33.70"/></clipPath><g clip-path="url(#c7)">
<rect x="624.70" y="160.10" width="6.65" height="6.65" rx="0" fill="#fbfdff" stroke="none" stroke-width="1" />
<rect x="631.40" y="166.75" width="6.65" height="6.65" rx="0" fill="#fbfdff" stroke="none" stroke-width="1" />
<rect x="624.70" y="173.40" width="6.65" height="6.65" rx="0" fill="#fbfdff" stroke="none" stroke-width="1" />
<rect x="638.00" y="173.40" width="6.65" height="6.65" rx="0" fill="#fbfdff" stroke="none" stroke-width="1" />
<rect x="644.70" y="180.05" width="6.65" height="6.65" rx="0" fill="#fbfdff" stroke="none" stroke-width="1" />
<rect x="656.60" y="180.05" width="6.65" height="6.65" rx="0" fill="#fbfdff" stroke="none" stroke-width="1" />
<rect x="665.60" y="160.10" width="6.65" height="6.65" rx="0" fill="#fbfdff" stroke="none" stroke-width="1" />
<rect x="672.30" y="166.75" width="6.65" height="6.65" rx="0" fill="#fbfdff" stroke="none" stroke-width="1" />
<rect x="672.30" y="180.05" width="6.65" height="6.65" rx="0" fill="#fbfdff" stroke="none" stroke-width="1" />
<rect x="665.60" y="186.70" width="6.65" height="6.65" rx="0" fill="#fbfdff" stroke="none" stroke-width="1" />
<rect x="693.60" y="173.40" width="6.65" height="6.65" rx="0" fill="#fbfdff" stroke="none" stroke-width="1" />
<rect x="700.30" y="186.70" width="6.65" height="6.65" rx="0" fill="#fbfdff" stroke="none" stroke-width="1" />
<rect x="706.50" y="166.75" width="6.65" height="6.65" rx="0" fill="#fbfdff" stroke="none" stroke-width="1" />
<rect x="713.10" y="173.40" width="6.65" height="6.65" rx="0" fill="#fbfdff" stroke="none" stroke-width="1" />
<rect x="726.40" y="160.10" width="6.65" height="6.65" rx="0" fill="#fbfdff" stroke="none" stroke-width="1" />
<rect x="735.50" y="180.05" width="6.65" height="6.65" rx="0" fill="#fbfdff" stroke="none" stroke-width="1" />
<rect x="744.50" y="166.75" width="6.65" height="6.65" rx="0" fill="#fbfdff" stroke="none" stroke-width="1" />
<rect x="750.70" y="160.10" width="6.65" height="6.65" rx="0" fill="#fbfdff" stroke="none" stroke-width="1" />
<rect x="766.40" y="166.75" width="6.65" height="6.65" rx="0" fill="#fbfdff" stroke="none" stroke-width="1" />
<rect x="759.70" y="173.40" width="6.65" height="6.65" rx="0" fill="#fbfdff" stroke="none" stroke-width="1" />
<rect x="774.40" y="180.05" width="6.65" height="6.65" rx="0" fill="#fbfdff" stroke="none" stroke-width="1" />
<rect x="750.70" y="186.70" width="6.65" height="6.65" rx="0" fill="#fbfdff" stroke="none" stroke-width="1" />
<rect x="788.20" y="166.75" width="6.65" height="6.65" rx="0" fill="#fbfdff" stroke="none" stroke-width="1" />
<rect x="794.90" y="173.40" width="6.65" height="6.65" rx="0" fill="#fbfdff" stroke="none" stroke-width="1" />
<rect x="788.20" y="180.05" width="6.65" height="6.65" rx="0" fill="#fbfdff" stroke="none" stroke-width="1" />
<rect x="801.50" y="160.10" width="6.65" height="6.65" rx="0" fill="#fbfdff" stroke="none" stroke-width="1" />
<rect x="808.20" y="166.75" width="6.65" height="6.65" rx="0" fill="#fbfdff" stroke="none" stroke-width="1" />
<rect x="814.80" y="173.40" width="6.65" height="6.65" rx="0" fill="#fbfdff" stroke="none" stroke-width="1" />
<rect x="829.60" y="180.05" width="6.65" height="6.65" rx="0" fill="#fbfdff" stroke="none" stroke-width="1" />
<rect x="822.90" y="186.70" width="6.65" height="6.65" rx="0" fill="#fbfdff" stroke="none" stroke-width="1" />
<rect x="839.60" y="166.75" width="6.65" height="6.65" rx="0" fill="#fbfdff" stroke="none" stroke-width="1" />
<rect x="852.40" y="160.10" width="6.65" height="6.65" rx="0" fill="#fbfdff" stroke="none" stroke-width="1" />
<rect x="852.40" y="180.05" width="6.65" height="6.65" rx="0" fill="#fbfdff" stroke="none" stroke-width="1" />
<rect x="859.00" y="186.70" width="6.65" height="6.65" rx="0" fill="#fbfdff" stroke="none" stroke-width="1" />
<rect x="865.70" y="166.75" width="6.65" height="6.65" rx="0" fill="#fbfdff" stroke="none" stroke-width="1" />
<rect x="865.70" y="180.05" width="6.65" height="6.65" rx="0" fill="#fbfdff" stroke="none" stroke-width="1" />
</g>
<rect x="624.50" y="200.00" width="248.00" height="33.40" rx="6" fill="#dae8fc" stroke="#7e9fd3" stroke-width="1.2" />
<clipPath id="c8"><rect x="624.50" y="200.00" width="248.00" height="33.40"/></clipPath><g clip-path="url(#c8)">
<rect x="624.70" y="200.50" width="6.65" height="6.65" rx="0" fill="#fbfdff" stroke="none" stroke-width="1" />
<rect x="631.40" y="207.15" width="6.65" height="6.65" rx="0" fill="#fbfdff" stroke="none" stroke-width="1" />
<rect x="624.70" y="213.80" width="6.65" height="6.65" rx="0" fill="#fbfdff" stroke="none" stroke-width="1" />
<rect x="638.00" y="213.80" width="6.65" height="6.65" rx="0" fill="#fbfdff" stroke="none" stroke-width="1" />
<rect x="644.70" y="220.45" width="6.65" height="6.65" rx="0" fill="#fbfdff" stroke="none" stroke-width="1" />
<rect x="656.60" y="220.45" width="6.65" height="6.65" rx="0" fill="#fbfdff" stroke="none" stroke-width="1" />
<rect x="665.60" y="200.50" width="6.65" height="6.65" rx="0" fill="#fbfdff" stroke="none" stroke-width="1" />
<rect x="672.30" y="207.15" width="6.65" height="6.65" rx="0" fill="#fbfdff" stroke="none" stroke-width="1" />
<rect x="672.30" y="220.45" width="6.65" height="6.65" rx="0" fill="#fbfdff" stroke="none" stroke-width="1" />
<rect x="665.60" y="227.10" width="6.65" height="6.65" rx="0" fill="#fbfdff" stroke="none" stroke-width="1" />
<rect x="693.60" y="213.80" width="6.65" height="6.65" rx="0" fill="#fbfdff" stroke="none" stroke-width="1" />
<rect x="700.30" y="227.10" width="6.65" height="6.65" rx="0" fill="#fbfdff" stroke="none" stroke-width="1" />
<rect x="706.50" y="207.15" width="6.65" height="6.65" rx="0" fill="#fbfdff" stroke="none" stroke-width="1" />
<rect x="713.10" y="213.80" width="6.65" height="6.65" rx="0" fill="#fbfdff" stroke="none" stroke-width="1" />
<rect x="726.40" y="200.50" width="6.65" height="6.65" rx="0" fill="#fbfdff" stroke="none" stroke-width="1" />
<rect x="735.50" y="220.45" width="6.65" height="6.65" rx="0" fill="#fbfdff" stroke="none" stroke-width="1" />
<rect x="744.50" y="207.15" width="6.65" height="6.65" rx="0" fill="#fbfdff" stroke="none" stroke-width="1" />
<rect x="750.70" y="200.50" width="6.65" height="6.65" rx="0" fill="#fbfdff" stroke="none" stroke-width="1" />
<rect x="766.40" y="207.15" width="6.65" height="6.65" rx="0" fill="#fbfdff" stroke="none" stroke-width="1" />
<rect x="759.70" y="213.80" width="6.65" height="6.65" rx="0" fill="#fbfdff" stroke="none" stroke-width="1" />
<rect x="774.40" y="220.45" width="6.65" height="6.65" rx="0" fill="#fbfdff" stroke="none" stroke-width="1" />
<rect x="750.70" y="227.10" width="6.65" height="6.65" rx="0" fill="#fbfdff" stroke="none" stroke-width="1" />
<rect x="788.20" y="207.15" width="6.65" height="6.65" rx="0" fill="#fbfdff" stroke="none" stroke-width="1" />
<rect x="794.90" y="213.80" width="6.65" height="6.65" rx="0" fill="#fbfdff" stroke="none" stroke-width="1" />
<rect x="788.20" y="220.45" width="6.65" height="6.65" rx="0" fill="#fbfdff" stroke="none" stroke-width="1" />
<rect x="801.50" y="200.50" width="6.65" height="6.65" rx="0" fill="#fbfdff" stroke="none" stroke-width="1" />
<rect x="808.20" y="207.15" width="6.65" height="6.65" rx="0" fill="#fbfdff" stroke="none" stroke-width="1" />
<rect x="814.80" y="213.80" width="6.65" height="6.65" rx="0" fill="#fbfdff" stroke="none" stroke-width="1" />
<rect x="829.60" y="220.45" width="6.65" height="6.65" rx="0" fill="#fbfdff" stroke="none" stroke-width="1" />
<rect x="822.90" y="227.10" width="6.65" height="6.65" rx="0" fill="#fbfdff" stroke="none" stroke-width="1" />
<rect x="839.60" y="207.15" width="6.65" height="6.65" rx="0" fill="#fbfdff" stroke="none" stroke-width="1" />
<rect x="852.40" y="200.50" width="6.65" height="6.65" rx="0" fill="#fbfdff" stroke="none" stroke-width="1" />
<rect x="852.40" y="220.45" width="6.65" height="6.65" rx="0" fill="#fbfdff" stroke="none" stroke-width="1" />
<rect x="859.00" y="227.10" width="6.65" height="6.65" rx="0" fill="#fbfdff" stroke="none" stroke-width="1" />
<rect x="865.70" y="207.15" width="6.65" height="6.65" rx="0" fill="#fbfdff" stroke="none" stroke-width="1" />
<rect x="865.70" y="220.45" width="6.65" height="6.65" rx="0" fill="#fbfdff" stroke="none" stroke-width="1" />
</g>
<rect x="741.00" y="145.80" width="1.50" height="1.60" rx="0" fill="#333" stroke="none" stroke-width="1" />
<rect x="744.50" y="145.80" width="1.50" height="1.60" rx="0" fill="#333" stroke="none" stroke-width="1" />
<rect x="748.00" y="145.80" width="1.50" height="1.60" rx="0" fill="#333" stroke="none" stroke-width="1" />
<rect x="751.50" y="145.80" width="1.50" height="1.60" rx="0" fill="#333" stroke="none" stroke-width="1" />
<rect x="755.00" y="145.80" width="1.50" height="1.60" rx="0" fill="#333" stroke="none" stroke-width="1" />
<rect x="758.50" y="145.80" width="1.50" height="1.60" rx="0" fill="#333" stroke="none" stroke-width="1" />
<rect x="603.50" y="258.50" width="39.60" height="39.60" rx="6" fill="#f8cecc" stroke="#b85450" stroke-width="1.1" />
<use href="#sc" x="604.00" y="258.00" width="40.00" height="40.00"/>
<rect x="653.30" y="258.50" width="39.60" height="39.60" rx="6" fill="#f8cecc" stroke="#b85450" stroke-width="1.1" />
<rect x="704.00" y="258.50" width="39.60" height="39.60" rx="6" fill="#f8cecc" stroke="#b85450" stroke-width="1.1" />
<use href="#sc" x="704.50" y="258.00" width="40.00" height="40.00"/>
<rect x="753.40" y="258.50" width="39.60" height="39.60" rx="6" fill="#d5e8d4" stroke="#82b366" stroke-width="1.1" />
<rect x="803.20" y="258.50" width="39.60" height="39.60" rx="6" fill="#f9f7ed" stroke="#555" stroke-width="1.1" />
<rect x="853.10" y="258.50" width="39.60" height="39.60" rx="6" fill="#f9f7ed" stroke="#555" stroke-width="1.1" />
<rect x="753.50" y="307.30" width="1.80" height="2.00" rx="0" fill="#222" stroke="none" stroke-width="1" />
<rect x="757.00" y="307.30" width="1.80" height="2.00" rx="0" fill="#222" stroke="none" stroke-width="1" />
<rect x="768.30" y="307.30" width="1.60" height="2.00" rx="0" fill="#222" stroke="none" stroke-width="1" />
<rect x="916.50" y="3.80" width="341.00" height="298.60" rx="0" fill="none" stroke="#444" stroke-width="0.9" stroke-dasharray="1.5,1.5"/>
<text x="1066.40" y="19.30" font-family='"Liberation Sans", sans-serif' font-size="14" fill="#111" text-anchor="start" font-weight="normal" font-style="normal" >Prune</text>
<use href="#sc" x="1110.30" y="4.00" width="20.00" height="20.00"/>
<path d="M1022,45 L978.8,74.8 L1153.9,74.8 L1058,44 Z" fill="#d5e8d4"/>
<rect x="1020.60" y="10.50" width="37.70" height="37.40" rx="7" fill="#d5e8d4" stroke="#b3d0a9" stroke-width="1.1" />
<text x="1039.50" y="34.80" font-family='"Liberation Sans", sans-serif' font-size="14" fill="#111" text-anchor="middle" font-weight="normal" font-style="normal" >txt</text>
<text x="1028.00" y="66.00" font-family='"Liberation Serif", serif' font-size="19" fill="#111" text-anchor="start" font-weight="normal" font-style="normal" textLength="44" lengthAdjust="spacingAndGlyphs" >Σ<tspan font-style="italic">Avg</tspan></text>
<rect x="939.40" y="74.80" width="38.70" height="32.40" rx="0" fill="#d5e8d4" stroke="none" stroke-width="1" />
<rect x="978.10" y="74.80" width="175.80" height="32.40" rx="0" fill="#f2d0ce" stroke="none" stroke-width="1" />
<rect x="1153.90" y="74.80" width="56.20" height="32.40" rx="0" fill="#d5e8d4" stroke="none" stroke-width="1" />
<rect x="1210.10" y="74.80" width="41.10" height="32.40" rx="0" fill="#ffff99" stroke="none" stroke-width="1" />
<text x="958.70" y="96.00" font-family='"Liberation Sans", sans-serif' font-size="15" fill="#111" text-anchor="middle" font-weight="normal" font-style="normal" >sys</text>
<text x="1066.00" y="96.00" font-family='"Liberation Sans", sans-serif' font-size="15" fill="#111" text-anchor="middle" font-weight="normal" font-style="normal" >vis</text>
<text x="1182.80" y="96.00" font-family='"Liberation Sans", sans-serif' font-size="15" fill="#111" text-anchor="middle" font-weight="normal" font-style="normal" >txt</text>
<text x="1230.80" y="96.00" font-family='"Liberation Sans", sans-serif' font-size="15" fill="#111" text-anchor="middle" font-weight="normal" font-style="normal" >act</text>
<path d="M922.4,75.5 L928.6,75.5 L928.6,284.5 L935,284.5 L925.5,297 L916.3,284.5 L922.4,284.5 Z" fill="#d5e8d4" stroke="#9fbf92" stroke-width="1"/>
<rect x="950.60" y="112.90" width="123.60" height="119.90" rx="0" fill="none" stroke="#222" stroke-width="1.2" stroke-dasharray="3.5,2.5"/>
<rect x="958.40" y="125.70" width="106.90" height="19.80" rx="4" fill="#b6e1e4" stroke="#85bfc4" stroke-width="1.1" />
<text x="1011.80" y="142.00" font-family='"Liberation Sans", sans-serif' font-size="15" fill="#111" text-anchor="middle" font-weight="normal" font-style="normal" >Q</text>
<path d="M958,147.2 L1067,147.2 L1030,165.9 L994.4,165.9 Z" fill="#b6e1e4"/>
<rect x="988.20" y="168.20" width="37.40" height="8.80" rx="0" fill="#f2d0ce" stroke="none" stroke-width="1" />
<rect x="1025.60" y="168.20" width="13.50" height="8.80" rx="0" fill="#d5e8d4" stroke="none" stroke-width="1" />
<path d="M992,180.3 L1033.3,180.3 L1069.7,199.3 L957.2,199.3 Z" fill="#bcc8d3"/>
<rect x="954.40" y="200.70" width="116.20" height="20.20" rx="4" fill="#bcc8d3" stroke="#7f93a6" stroke-width="1.1" />
<text x="1011.80" y="217.50" font-family='"Liberation Sans", sans-serif' font-size="15" fill="#111" text-anchor="middle" font-weight="normal" font-style="normal" >K</text>
<text x="1011.00" y="162.30" font-family='"Liberation Serif", serif' font-size="15.5" fill="#111" text-anchor="middle" font-weight="normal" font-style="italic" >W</text>
<text x="1025.00" y="156.50" font-family='"Liberation Serif", serif' font-size="11" fill="#111" text-anchor="middle" font-weight="normal" font-style="normal" >(<tspan font-style="italic">l</tspan>)</text>
<text x="1021.50" y="170.50" font-family='"Liberation Serif", serif' font-size="10" fill="#111" text-anchor="middle" font-weight="normal" font-style="italic" >Q</text>
<text x="1011.00" y="197.00" font-family='"Liberation Serif", serif' font-size="15.5" fill="#111" text-anchor="middle" font-weight="normal" font-style="italic" >W</text>
<text x="1025.00" y="191.00" font-family='"Liberation Serif", serif' font-size="11" fill="#111" text-anchor="middle" font-weight="normal" font-style="normal" >(<tspan font-style="italic">l</tspan>)</text>
<text x="1021.50" y="204.00" font-family='"Liberation Serif", serif' font-size="10" fill="#111" text-anchor="middle" font-weight="normal" font-style="italic" >K</text>
<path d="M1078.3,163.3 L1096,163.3 L1096,157.6 L1108.4,167 L1096,176.5 L1096,170.7 L1078.3,170.7 Z" fill="#fff" stroke="#555" stroke-width="1"/>
<rect x="1109.70" y="112.90" width="123.80" height="119.90" rx="0" fill="none" stroke="#222" stroke-width="1.2" stroke-dasharray="3.5,2.5"/>
<rect x="1134.20" y="125.70" width="93.40" height="19.80" rx="4" fill="#bcc8d3" stroke="#7f93a6" stroke-width="1.1" />
<text x="1138.50" y="139.00" font-family='"Liberation Sans", sans-serif' font-size="8" fill="#111" text-anchor="middle" font-weight="normal" font-style="normal" >K</text>
<rect x="1118.00" y="138.90" width="20.20" height="92.70" rx="3" fill="#b6e1e4" stroke="#7fc2c8" stroke-width="1.1" />
<text x="1128.10" y="146.50" font-family='"Liberation Sans", sans-serif' font-size="8" fill="#111" text-anchor="middle" font-weight="normal" font-style="normal" >Q</text>
<rect x="1120.00" y="147.20" width="16.20" height="15.50" rx="2" fill="#f8cecc" stroke="#b85450" stroke-width="0.8" />
<rect x="1120.00" y="163.45" width="16.20" height="15.50" rx="2" fill="#f8cecc" stroke="#b85450" stroke-width="0.8" />
<rect x="1120.00" y="179.70" width="16.20" height="15.50" rx="2" fill="#f8cecc" stroke="#b85450" stroke-width="0.8" />
<rect x="1120.00" y="195.95" width="16.20" height="15.50" rx="2" fill="#d5e8d4" stroke="#82b366" stroke-width="0.8" />
<rect x="1120.00" y="212.20" width="16.20" height="15.50" rx="2" fill="#ffff99" stroke="#555" stroke-width="0.8" />
<rect x="1143.20" y="147.20" width="15.80" height="15.80" rx="2" fill="#ffffff" stroke="#555" stroke-width="0.7" />
<rect x="1159.50" y="147.20" width="15.80" height="15.80" rx="2" fill="#eeeeee" stroke="#555" stroke-width="0.7" />
<rect x="1175.80" y="147.20" width="15.80" height="15.80" rx="2" fill="#eeeeee" stroke="#555" stroke-width="0.7" />
<rect x="1192.10" y="147.20" width="15.80" height="15.80" rx="2" fill="#eeeeee" stroke="#555" stroke-width="0.7" />
<rect x="1208.40" y="147.20" width="15.80" height="15.80" rx="2" fill="#eeeeee" stroke="#555" stroke-width="0.7" />
<rect x="1143.20" y="163.45" width="15.80" height="15.80" rx="2" fill="#ffffff" stroke="#555" stroke-width="0.7" />
<rect x="1159.50" y="163.45" width="15.80" height="15.80" rx="2" fill="#dae8fc" stroke="#a9c4eb" stroke-width="0.7" />
<rect x="1175.80" y="163.45" width="15.80" height="15.80" rx="2" fill="#eeeeee" stroke="#555" stroke-width="0.7" />
<rect x="1192.10" y="163.45" width="15.80" height="15.80" rx="2" fill="#eeeeee" stroke="#555" stroke-width="0.7" />
<rect x="1208.40" y="163.45" width="15.80" height="15.80" rx="2" fill="#eeeeee" stroke="#555" stroke-width="0.7" />
<rect x="1143.20" y="179.70" width="15.80" height="15.80" rx="2" fill="#ffffff" stroke="#555" stroke-width="0.7" />
<rect x="1159.50" y="179.70" width="15.80" height="15.80" rx="2" fill="#dae8fc" stroke="#a9c4eb" stroke-width="0.7" />
<rect x="1175.80" y="179.70" width="15.80" height="15.80" rx="2" fill="#ffffff" stroke="#555" stroke-width="0.7" />
<rect x="1192.10" y="179.70" width="15.80" height="15.80" rx="2" fill="#eeeeee" stroke="#555" stroke-width="0.7" />
<rect x="1208.40" y="179.70" width="15.80" height="15.80" rx="2" fill="#eeeeee" stroke="#555" stroke-width="0.7" />
<rect x="1143.20" y="195.95" width="15.80" height="15.80" rx="2" fill="#ffffff" stroke="#555" stroke-width="0.7" />
<rect x="1159.50" y="195.95" width="15.80" height="15.80" rx="2" fill="#dae8fc" stroke="#a9c4eb" stroke-width="0.7" />
<rect x="1175.80" y="195.95" width="15.80" height="15.80" rx="2" fill="#ffffff" stroke="#555" stroke-width="0.7" />
<rect x="1192.10" y="195.95" width="15.80" height="15.80" rx="2" fill="#dae8fc" stroke="#a9c4eb" stroke-width="0.7" />
<rect x="1208.40" y="195.95" width="15.80" height="15.80" rx="2" fill="#eeeeee" stroke="#555" stroke-width="0.7" />
<rect x="1143.20" y="212.20" width="15.80" height="15.80" rx="2" fill="#ffffff" stroke="#555" stroke-width="0.7" />
<rect x="1159.50" y="212.20" width="15.80" height="15.80" rx="2" fill="#dae8fc" stroke="#a9c4eb" stroke-width="0.7" />
<rect x="1175.80" y="212.20" width="15.80" height="15.80" rx="2" fill="#ffffff" stroke="#555" stroke-width="0.7" />
<rect x="1192.10" y="212.20" width="15.80" height="15.80" rx="2" fill="#dae8fc" stroke="#a9c4eb" stroke-width="0.7" />
<rect x="1208.40" y="212.20" width="15.80" height="15.80" rx="2" fill="#dae8fc" stroke="#a9c4eb" stroke-width="0.7" />
<rect x="1143.20" y="127.30" width="15.80" height="16.60" rx="2" fill="#f8cecc" stroke="#b85450" stroke-width="0.8" />
<use href="#sc" x="1144.70" y="128.50" width="13.00" height="13.00"/>
<rect x="1159.50" y="127.30" width="15.80" height="16.60" rx="2" fill="#f8cecc" stroke="#b85450" stroke-width="0.8" />
<rect x="1175.80" y="127.30" width="15.80" height="16.60" rx="2" fill="#f8cecc" stroke="#b85450" stroke-width="0.8" />
<use href="#sc" x="1177.30" y="128.50" width="13.00" height="13.00"/>
<rect x="1192.10" y="127.30" width="15.80" height="16.60" rx="2" fill="#d5e8d4" stroke="#82b366" stroke-width="0.8" />
<rect x="1208.40" y="127.30" width="15.80" height="16.60" rx="2" fill="#ffff99" stroke="#555" stroke-width="0.8" />
<rect x="1142.70" y="126.80" width="16.80" height="102.20" rx="0" fill="none" stroke="#333" stroke-width="0.7" stroke-dasharray="1,1"/>
<rect x="1175.30" y="126.80" width="16.80" height="102.20" rx="0" fill="none" stroke="#333" stroke-width="0.7" stroke-dasharray="1,1"/>
<g fill="none" stroke="#222" stroke-width="0.9">
<path d="M1199,127 C1199,113 1151,113 1151.5,126"/>
<path d="M1199,127 C1199,117 1168,117 1167.5,126"/>
<path d="M1199,127 C1199,120 1184,120 1183.5,126"/>
</g>
<path d="M1149.0,122 L1154.0,122 L1151.5,127 Z" fill="#222"/>
<path d="M1165.0,122 L1170.0,122 L1167.5,127 Z" fill="#222"/>
<path d="M1181.0,122 L1186.0,122 L1183.5,127 Z" fill="#222"/>
<text x="943.70" y="251.00" font-family='"Liberation Sans", sans-serif' font-size="14" fill="#111" text-anchor="start" font-weight="normal" font-style="normal" textLength="146.5" lengthAdjust="spacingAndGlyphs" >Step 1: Retrieval Weight</text>
<text x="1131.20" y="251.00" font-family='"Liberation Sans", sans-serif' font-size="14" fill="#111" text-anchor="start" font-weight="normal" font-style="normal" textLength="86.4" lengthAdjust="spacingAndGlyphs" >Step 2: Prune</text>
<rect x="938.50" y="257.60" width="39.20" height="40.20" rx="0" fill="#d5e8d4" stroke="none" stroke-width="1" />
<rect x="977.70" y="257.60" width="175.20" height="40.20" rx="0" fill="#f2d0ce" stroke="none" stroke-width="1" />
<rect x="1152.90" y="257.60" width="56.30" height="40.20" rx="0" fill="#d5e8d4" stroke="none" stroke-width="1" />
<rect x="1209.20" y="257.60" width="40.90" height="40.20" rx="0" fill="#ffff99" stroke="none" stroke-width="1" />
<rect x="993.80" y="258.20" width="26.10" height="39.00" rx="0" fill="url(#hatch)" stroke="#444" stroke-width="0.8" stroke-dasharray="1.2,1.2"/>
<rect x="1031.40" y="258.20" width="25.10" height="39.00" rx="0" fill="url(#hatch)" stroke="#444" stroke-width="0.8" stroke-dasharray="1.2,1.2"/>
<rect x="1105.60" y="258.20" width="25.10" height="39.00" rx="0" fill="url(#hatch)" stroke="#444" stroke-width="0.8" stroke-dasharray="1.2,1.2"/>
<text x="958.00" y="283.50" font-family='"Liberation Sans", sans-serif' font-size="15" fill="#111" text-anchor="middle" font-weight="normal" font-style="normal" >sys</text>
<text x="1181.00" y="283.50" font-family='"Liberation Sans", sans-serif' font-size="15" fill="#111" text-anchor="middle" font-weight="normal" font-style="normal" >txt</text>
<text x="1229.60" y="283.50" font-family='"Liberation Sans", sans-serif' font-size="15" fill="#111" text-anchor="middle" font-weight="normal" font-style="normal" >act</text>
<rect x="116.70" y="314.60" width="1142.30" height="132.20" rx="0" fill="#000" stroke="#6f8fcf" stroke-width="1" />
<rect x="120.80" y="320.20" width="32.70" height="13.80" rx="2" fill="#fff" stroke="none" stroke-width="1" />
<rect x="120.80" y="428.10" width="32.70" height="13.20" rx="2" fill="#fff" stroke="none" stroke-width="1" />
<rect x="164.83" y="320.20" width="32.70" height="13.80" rx="2" fill="#fff" stroke="none" stroke-width="1" />
<rect x="164.83" y="428.10" width="32.70" height="13.20" rx="2" fill="#fff" stroke="none" stroke-width="1" />
<rect x="208.86" y="320.20" width="32.70" height="13.80" rx="2" fill="#fff" stroke="none" stroke-width="1" />
<rect x="208.86" y="428.10" width="32.70" height="13.20" rx="2" fill="#fff" stroke="none" stroke-width="1" />
<rect x="252.89" y="320.20" width="32.70" height="13.80" rx="2" fill="#fff" stroke="none" stroke-width="1" />
<rect x="252.89" y="428.10" width="32.70" height="13.20" rx="2" fill="#fff" stroke="none" stroke-width="1" />
<rect x="296.92" y="320.20" width="32.70" height="13.80" rx="2" fill="#fff" stroke="none" stroke-width="1" />
<rect x="296.92" y="428.10" width="32.70" height="13.20" rx="2" fill="#fff" stroke="none" stroke-width="1" />
<rect x="340.95" y="320.20" width="32.70" height="13.80" rx="2" fill="#fff" stroke="none" stroke-width="1" />
<rect x="340.95" y="428.10" width="32.70" height="13.20" rx="2" fill="#fff" stroke="none" stroke-width="1" />
<rect x="384.98" y="320.20" width="32.70" height="13.80" rx="2" fill="#fff" stroke="none" stroke-width="1" />
<rect x="384.98" y="428.10" width="32.70" height="13.20" rx="2" fill="#fff" stroke="none" stroke-width="1" />
<rect x="429.01" y="320.20" width="32.70" height="13.80" rx="2" fill="#fff" stroke="none" stroke-width="1" />
<rect x="429.01" y="428.10" width="32.70" height="13.20" rx="2" fill="#fff" stroke="none" stroke-width="1" />
<rect x="473.04" y="320.20" width="32.70" height="13.80" rx="2" fill="#fff" stroke="none" stroke-width="1" />
<rect x="473.04" y="428.10" width="32.70" height="13.20" rx="2" fill="#fff" stroke="none" stroke-width="1" />
<rect x="517.07" y="320.20" width="32.70" height="13.80" rx="2" fill="#fff" stroke="none" stroke-width="1" />
<rect x="517.07" y="428.10" width="32.70" height="13.20" rx="2" fill="#fff" stroke="none" stroke-width="1" />
<rect x="561.10" y="320.20" width="32.70" height="13.80" rx="2" fill="#fff" stroke="none" stroke-width="1" />
<rect x="561.10" y="428.10" width="32.70" height="13.20" rx="2" fill="#fff" stroke="none" stroke-width="1" />
<rect x="605.13" y="320.20" width="32.70" height="13.80" rx="2" fill="#fff" stroke="none" stroke-width="1" />
<rect x="605.13" y="428.10" width="32.70" height="13.20" rx="2" fill="#fff" stroke="none" stroke-width="1" />
<rect x="649.16" y="320.20" width="32.70" height="13.80" rx="2" fill="#fff" stroke="none" stroke-width="1" />
<rect x="649.16" y="428.10" width="32.70" height="13.20" rx="2" fill="#fff" stroke="none" stroke-width="1" />
<rect x="693.19" y="320.20" width="32.70" height="13.80" rx="2" fill="#fff" stroke="none" stroke-width="1" />
<rect x="693.19" y="428.10" width="32.70" height="13.20" rx="2" fill="#fff" stroke="none" stroke-width="1" />
<rect x="737.22" y="320.20" width="32.70" height="13.80" rx="2" fill="#fff" stroke="none" stroke-width="1" />
<rect x="737.22" y="428.10" width="32.70" height="13.20" rx="2" fill="#fff" stroke="none" stroke-width="1" />
<rect x="781.25" y="320.20" width="32.70" height="13.80" rx="2" fill="#fff" stroke="none" stroke-width="1" />
<rect x="781.25" y="428.10" width="32.70" height="13.20" rx="2" fill="#fff" stroke="none" stroke-width="1" />
<rect x="825.28" y="320.20" width="32.70" height="13.80" rx="2" fill="#fff" stroke="none" stroke-width="1" />
<rect x="825.28" y="428.10" width="32.70" height="13.20" rx="2" fill="#fff" stroke="none" stroke-width="1" />
<rect x="869.31" y="320.20" width="32.70" height="13.80" rx="2" fill="#fff" stroke="none" stroke-width="1" />
<rect x="869.31" y="428.10" width="32.70" height="13.20" rx="2" fill="#fff" stroke="none" stroke-width="1" />
<rect x="913.34" y="320.20" width="32.70" height="13.80" rx="2" fill="#fff" stroke="none" stroke-width="1" />
<rect x="913.34" y="428.10" width="32.70" height="13.20" rx="2" fill="#fff" stroke="none" stroke-width="1" />
<rect x="957.37" y="320.20" width="32.70" height="13.80" rx="2" fill="#fff" stroke="none" stroke-width="1" />
<rect x="957.37" y="428.10" width="32.70" height="13.20" rx="2" fill="#fff" stroke="none" stroke-width="1" />
<rect x="1001.40" y="320.20" width="32.70" height="13.80" rx="2" fill="#fff" stroke="none" stroke-width="1" />
<rect x="1001.40" y="428.10" width="32.70" height="13.20" rx="2" fill="#fff" stroke="none" stroke-width="1" />
<rect x="1045.43" y="320.20" width="32.70" height="13.80" rx="2" fill="#fff" stroke="none" stroke-width="1" />
<rect x="1045.43" y="428.10" width="32.70" height="13.20" rx="2" fill="#fff" stroke="none" stroke-width="1" />
<rect x="1089.46" y="320.20" width="32.70" height="13.80" rx="2" fill="#fff" stroke="none" stroke-width="1" />
<rect x="1089.46" y="428.10" width="32.70" height="13.20" rx="2" fill="#fff" stroke="none" stroke-width="1" />
<rect x="1133.49" y="320.20" width="32.70" height="13.80" rx="2" fill="#fff" stroke="none" stroke-width="1" />
<rect x="1133.49" y="428.10" width="32.70" height="13.20" rx="2" fill="#fff" stroke="none" stroke-width="1" />
<rect x="1177.52" y="320.20" width="32.70" height="13.80" rx="2" fill="#fff" stroke="none" stroke-width="1" />
<rect x="1177.52" y="428.10" width="32.70" height="13.20" rx="2" fill="#fff" stroke="none" stroke-width="1" />
<rect x="1221.55" y="320.20" width="32.70" height="13.80" rx="2" fill="#fff" stroke="none" stroke-width="1" />
<rect x="1221.55" y="428.10" width="32.70" height="13.20" rx="2" fill="#fff" stroke="none" stroke-width="1" />
<clipPath id="c9"><rect x="211.20" y="339.50" width="166.00" height="83.00"/></clipPath><g clip-path="url(#c9)">
<rect x="211.2" y="339.5" width="166" height="83.0" fill="#c7bba5"/>
<path d="M227.70,357.50 L238.50,361.10 L232.80,388.90 L222.00,386.90 Z" fill="#6b2c14" />
<circle cx="257.50" cy="353.90" r="9.80" fill="url(#tex)" stroke="#9a9a9a" stroke-width="1.5"/>
<path d="M273.00,388.90 L291.50,347.70 L293.60,351.90 L278.10,391.00 Z" fill="#151515" />
<path d="M280.20,385.80 L289.50,366.30 L289.50,385.80 Z" fill="#e6e6e6" />
<ellipse cx="268.20" cy="394.50" rx="4.5" ry="6" fill="#0d0d0d"/>
<path d="M294.20,375.50 L319.20,360.50 L327.20,371.50 L294.20,391.50 Z" fill="#6b2c14" />
<path d="M294.20,339.50 L337.20,339.50 L337.20,349.50 L294.20,367.30 Z" fill="#d3bf9e" />
<circle cx="352.20" cy="387.50" r="12.00" fill="url(#tex)" stroke="#8d8d8d" stroke-width="2"/>
<path d="M212.20,409.50 Q218.20,405.50 221.20,403.50 L231.20,403.50 L232.20,407.50 Q236.20,408.50 240.20,409.50" fill="none" stroke="#111" stroke-width="1.6"/>
<rect x="222.20" y="403.50" width="8" height="2.4" fill="#111"/>
<rect x="223.20" y="406.00" width="5" height="2.5" fill="#f4f4f4"/>
<path d="M255.20,409.50 Q261.20,405.50 264.20,403.50 L274.20,403.50 L275.20,407.50 Q279.20,408.50 283.20,409.50" fill="none" stroke="#111" stroke-width="1.6"/>
<rect x="265.20" y="403.50" width="8" height="2.4" fill="#111"/>
<rect x="266.20" y="406.00" width="5" height="2.5" fill="#f4f4f4"/>
<path d="M295.20,409.50 Q301.20,405.50 304.20,403.50 L314.20,403.50 L315.20,407.50 Q319.20,408.50 323.20,409.50" fill="none" stroke="#111" stroke-width="1.6"/>
<rect x="305.20" y="403.50" width="8" height="2.4" fill="#111"/>
<rect x="306.20" y="406.00" width="5" height="2.5" fill="#f4f4f4"/>
<path d="M347.20,409.50 Q353.20,405.50 356.20,403.50 L366.20,403.50 L367.20,407.50 Q371.20,408.50 375.20,409.50" fill="none" stroke="#111" stroke-width="1.6"/>
<rect x="357.20" y="403.50" width="8" height="2.4" fill="#111"/>
<rect x="358.20" y="406.00" width="5" height="2.5" fill="#f4f4f4"/>
<rect x="211.2" y="409.5" width="166" height="13" fill="#2c2c2c"/>
<path d="M211,340H216V345H211ZM284,340H294V345H284ZM336,340H362V345H336ZM367,340H377V345H367ZM211,345H216V350H211ZM279,345H284V350H279ZM289,345H299V350H289ZM305,345H310V350H305ZM341,345H362V350H341ZM367,345H377V350H367ZM211,350H216V355H211ZM222,350H237V355H222ZM273,350H284V355H273ZM289,350H305V355H289ZM336,350H346V355H336ZM362,350H377V355H362ZM211,355H216V360H211ZM237,355H242V360H237ZM273,355H279V360H273ZM284,355H294V360H284ZM336,355H346V360H336ZM367,355H377V360H367ZM211,360H216V365H211ZM237,360H242V365H237ZM273,360H279V365H273ZM289,360H294V365H289ZM325,360H346V365H325ZM367,360H377V365H367ZM211,365H216V371H211ZM237,365H248V371H237ZM268,365H273V371H268ZM289,365H299V371H289ZM325,365H351V371H325ZM367,365H377V371H367ZM211,371H216V376H211ZM237,371H253V376H237ZM268,371H273V376H268ZM289,371H294V376H289ZM331,371H351V376H331ZM356,371H362V376H356ZM367,371H377V376H367ZM211,376H216V381H211ZM237,376H273V381H237ZM289,376H294V381H289ZM325,376H336V381H325ZM372,376H377V381H372ZM211,381H216V386H211ZM237,381H263V386H237ZM284,381H294V386H284ZM320,381H331V386H320ZM367,381H377V386H367ZM242,386H258V391H242ZM279,386H294V391H279ZM310,386H331V391H310ZM367,386H377V391H367ZM211,391H216V397H211ZM222,391H237V397H222ZM248,391H258V397H248ZM279,391H325V397H279ZM367,391H377V397H367ZM211,397H222V402H211ZM248,397H258V402H248ZM279,397H331V402H279ZM367,397H377V402H367ZM211,402H216V407H211ZM253,402H258V407H253ZM289,402H305V407H289ZM315,402H336V407H315ZM367,402H377V407H367Z" fill="#5e5ad6" fill-opacity="0.8" shape-rendering="crispEdges"/>
<path d="M211,412H216V417H211ZM232,412H263V417H232ZM289,412H294V417H289ZM315,412H351V417H315ZM367,412H377V417H367ZM211,417H377V422H211Z" fill="#1e1d97" fill-opacity="1.0" shape-rendering="crispEdges"/>
</g>
<clipPath id="c10"><rect x="411.30" y="339.50" width="166.00" height="83.00"/></clipPath><g clip-path="url(#c10)">
<rect x="411.3" y="339.5" width="166" height="83.0" fill="#c7bba5"/>
<path d="M411.30,339.50 L436.30,339.50 L444.30,363.50 L411.30,374.50 Z" fill="#6b2912" />
<path d="M494.30,339.50 L524.30,339.50 L530.30,362.50 L494.30,370.00 Z" fill="#6b2912" />
<clipPath id="c11"><rect x="411.30" y="339.50" width="83" height="83"/></clipPath><g clip-path="url(#c11)">
<circle cx="483.30" cy="409.50" r="24.00" fill="url(#tex)" stroke="#e6e39a" stroke-width="0.8"/>
</g>
<clipPath id="c12"><rect x="494.30" y="339.50" width="83" height="83"/></clipPath><g clip-path="url(#c12)">
<circle cx="566.30" cy="411.50" r="35.00" fill="url(#tex)" stroke="#e6e39a" stroke-width="0.8"/>
</g>
<path d="M412.30,409.50 Q418.30,405.50 421.30,403.50 L431.30,403.50 L432.30,407.50 Q436.30,408.50 440.30,409.50" fill="none" stroke="#111" stroke-width="1.6"/>
<rect x="422.30" y="403.50" width="8" height="2.4" fill="#111"/>
<rect x="423.30" y="406.00" width="5" height="2.5" fill="#f4f4f4"/>
<path d="M460.30,409.50 Q466.30,405.50 469.30,403.50 L479.30,403.50 L480.30,407.50 Q484.30,408.50 488.30,409.50" fill="none" stroke="#111" stroke-width="1.6"/>
<rect x="470.30" y="403.50" width="8" height="2.4" fill="#111"/>
<rect x="471.30" y="406.00" width="5" height="2.5" fill="#f4f4f4"/>
<path d="M500.30,409.50 Q506.30,405.50 509.30,403.50 L519.30,403.50 L520.30,407.50 Q524.30,408.50 528.30,409.50" fill="none" stroke="#111" stroke-width="1.6"/>
<rect x="510.30" y="403.50" width="8" height="2.4" fill="#111"/>
<rect x="511.30" y="406.00" width="5" height="2.5" fill="#f4f4f4"/>
<path d="M547.30,409.50 Q553.30,405.50 556.30,403.50 L566.30,403.50 L567.30,407.50 Q571.30,408.50 575.30,409.50" fill="none" stroke="#111" stroke-width="1.6"/>
<rect x="557.30" y="403.50" width="8" height="2.4" fill="#111"/>
<rect x="558.30" y="406.00" width="5" height="2.5" fill="#f4f4f4"/>
<rect x="411.3" y="409.5" width="166" height="13" fill="#2c2c2c"/>
</g>
<clipPath id="c13"><rect x="605.70" y="339.50" width="166.00" height="83.00"/></clipPath><g clip-path="url(#c13)">
<rect x="605.7" y="339.5" width="166" height="83.0" fill="#c7bba5"/>
<rect x="605.70" y="349.50" width="37" height="3" fill="#9aa0a0"/>
<path d="M605.70,352.50 L630.70,351.50 L632.70,375.50 L605.70,376.50 Z" fill="#6b2912" />
<clipPath id="c14"><rect x="605.70" y="339.50" width="83" height="83"/></clipPath><g clip-path="url(#c14)">
<circle cx="677.70" cy="409.50" r="34.00" fill="url(#tex)" />
</g>
<path d="M688.70,398.50 L738.70,381.50 L745.70,381.50 L745.70,409.50 L693.70,409.50 Z" fill="#e8e8e6" />
<path d="M698.70,397.50 L708.70,396.50 L709.70,409.50 L699.70,409.50 Z" fill="#555" />
<path d="M716.70,379.50 L741.70,372.50 L742.70,377.50 L717.70,384.50 Z" fill="#6a6a6a" />
<ellipse cx="694.70" cy="389.50" rx="8" ry="5" fill="#080808"/>
<clipPath id="c15"><rect x="688.70" y="339.50" width="83" height="83"/></clipPath><g clip-path="url(#c15)">
<circle cx="761.70" cy="409.50" r="34.00" fill="url(#tex)" />
</g>
<path d="M631.70,409.50 Q637.70,405.50 640.70,403.50 L650.70,403.50 L651.70,407.50 Q655.70,408.50 659.70,409.50" fill="none" stroke="#111" stroke-width="1.6"/>
<rect x="641.70" y="403.50" width="8" height="2.4" fill="#111"/>
<rect x="642.70" y="406.00" width="5" height="2.5" fill="#f4f4f4"/>
<path d="M651.70,409.50 Q657.70,405.50 660.70,403.50 L670.70,403.50 L671.70,407.50 Q675.70,408.50 679.70,409.50" fill="none" stroke="#111" stroke-width="1.6"/>
<rect x="661.70" y="403.50" width="8" height="2.4" fill="#111"/>
<rect x="662.70" y="406.00" width="5" height="2.5" fill="#f4f4f4"/>
<path d="M711.70,409.50 Q717.70,405.50 720.70,403.50 L730.70,403.50 L731.70,407.50 Q735.70,408.50 739.70,409.50" fill="none" stroke="#111" stroke-width="1.6"/>
<rect x="721.70" y="403.50" width="8" height="2.4" fill="#111"/>
<rect x="722.70" y="406.00" width="5" height="2.5" fill="#f4f4f4"/>
<path d="M736.70,409.50 Q742.70,405.50 745.70,403.50 L755.70,403.50 L756.70,407.50 Q760.70,408.50 764.70,409.50" fill="none" stroke="#111" stroke-width="1.6"/>
<rect x="746.70" y="403.50" width="8" height="2.4" fill="#111"/>
<rect x="747.70" y="406.00" width="5" height="2.5" fill="#f4f4f4"/>
<rect x="605.7" y="409.5" width="166" height="13" fill="#2c2c2c"/>
<path d="M715,340H720V345H715ZM730,340H735V345H730ZM767,340H772V345H767ZM642,345H678V350H642ZM689,345H694V350H689ZM725,345H735V350H725ZM746,345H751V350H746ZM756,345H772V350H756ZM632,350H673V355H632ZM678,350H684V355H678ZM689,350H699V355H689ZM709,350H746V355H709ZM751,350H756V355H751ZM761,350H767V355H761ZM637,355H761V360H637ZM767,355H772V360H767ZM637,360H699V365H637ZM709,360H772V365H709ZM637,365H746V371H637ZM751,365H772V371H751ZM637,371H668V376H637ZM689,371H699V376H689ZM704,371H720V376H704ZM751,371H761V376H751ZM606,376H611V381H606ZM637,376H663V381H637ZM689,376H704V381H689ZM606,381H611V386H606ZM621,381H652V386H621ZM606,386H611V391H606ZM632,386H647V391H632ZM606,391H616V397H606ZM621,391H642V397H621ZM767,391H772V397H767ZM606,397H642V402H606ZM606,402H632V407H606ZM689,402H694V407H689Z" fill="#5e5ad6" fill-opacity="0.8" shape-rendering="crispEdges"/>
<path d="M611,407H616V412H611ZM689,407H694V412H689ZM647,412H772V417H647ZM606,417H611V422H606ZM616,417H632V422H616ZM642,417H673V422H642ZM678,417H694V422H678ZM699,417H772V422H699Z" fill="#1e1d97" fill-opacity="1.0" shape-rendering="crispEdges"/>
</g>
<clipPath id="c16"><rect x="803.30" y="339.50" width="166.00" height="83.00"/></clipPath><g clip-path="url(#c16)">
<rect x="803.3" y="339.5" width="166" height="83.0" fill="#c7bba5"/>
<clipPath id="c17"><rect x="803.30" y="339.50" width="83" height="83"/></clipPath><g clip-path="url(#c17)">
<path d="M806.30,396.50 L853.30,379.50 L865.30,377.50 L865.30,409.50 L808.30,409.50 Z" fill="#e8e8e6" />
<path d="M810.30,397.50 L824.30,395.50 L824.30,409.50 L811.30,409.50 Z" fill="#555" />
<path d="M831.30,376.50 L861.30,367.50 L862.30,373.50 L832.30,382.50 Z" fill="#6a6a6a" />
<ellipse cx="809.30" cy="387.50" rx="10" ry="6" fill="#080808"/>
<circle cx="880.30" cy="409.50" r="38.00" fill="url(#tex)" stroke="#dedc9a" stroke-width="0.8"/>
</g>
<clipPath id="c18"><rect x="886.30" y="339.50" width="83" height="83"/></clipPath><g clip-path="url(#c18)">
<path d="M886.30,389.50 L969.30,368.50 L969.30,409.50 L886.30,409.50 Z" fill="#e8e8e6" />
<path d="M889.30,394.50 L906.30,392.50 L906.30,409.50 L889.30,409.50 Z" fill="#555" />
<path d="M914.30,372.50 L949.30,363.50 L950.30,369.50 L915.30,378.50 Z" fill="#6a6a6a" />
<ellipse cx="891.30" cy="383.50" rx="8" ry="4" fill="#080808"/>
<circle cx="963.30" cy="409.50" r="38.00" fill="url(#tex)" stroke="#dedc9a" stroke-width="0.8"/>
</g>
<path d="M826.30,409.50 Q832.30,405.50 835.30,403.50 L845.30,403.50 L846.30,407.50 Q850.30,408.50 854.30,409.50" fill="none" stroke="#111" stroke-width="1.6"/>
<rect x="836.30" y="403.50" width="8" height="2.4" fill="#111"/>
<rect x="837.30" y="406.00" width="5" height="2.5" fill="#f4f4f4"/>
<path d="M846.30,409.50 Q852.30,405.50 855.30,403.50 L865.30,403.50 L866.30,407.50 Q870.30,408.50 874.30,409.50" fill="none" stroke="#111" stroke-width="1.6"/>
<rect x="856.30" y="403.50" width="8" height="2.4" fill="#111"/>
<rect x="857.30" y="406.00" width="5" height="2.5" fill="#f4f4f4"/>
<path d="M909.30,409.50 Q915.30,405.50 918.30,403.50 L928.30,403.50 L929.30,407.50 Q933.30,408.50 937.30,409.50" fill="none" stroke="#111" stroke-width="1.6"/>
<rect x="919.30" y="403.50" width="8" height="2.4" fill="#111"/>
<rect x="920.30" y="406.00" width="5" height="2.5" fill="#f4f4f4"/>
<path d="M930.30,409.50 Q936.30,405.50 939.30,403.50 L949.30,403.50 L950.30,407.50 Q954.30,408.50 958.30,409.50" fill="none" stroke="#111" stroke-width="1.6"/>
<rect x="940.30" y="403.50" width="8" height="2.4" fill="#111"/>
<rect x="941.30" y="406.00" width="5" height="2.5" fill="#f4f4f4"/>
<rect x="803.3" y="409.5" width="166" height="13" fill="#2c2c2c"/>
</g>
<clipPath id="c19"><rect x="1001.40" y="339.50" width="166.00" height="83.00"/></clipPath><g clip-path="url(#c19)">
<rect x="1001.4" y="339.5" width="166" height="83.0" fill="#c7bba5"/>
<path d="M1001.40,339.50 L1039.40,339.50 L1039.40,341.50 L1001.40,351.50 Z" fill="#2a1f9a" />
<ellipse cx="1013.40" cy="400.50" rx="7" ry="4" fill="#0a0a0a" transform="rotate(-30 1013.40 400.50)"/>
<path d="M1001.40,405.50 L1011.40,399.50 L1013.40,405.50 L1001.40,409.50 Z" fill="#1f1fa8" />
<rect x="1030.40" y="399.50" width="25" height="4" fill="#8a8a8a"/>
<path d="M1002.40,409.50 Q1008.40,405.50 1011.40,403.50 L1021.40,403.50 L1022.40,407.50 Q1026.40,408.50 1030.40,409.50" fill="none" stroke="#111" stroke-width="1.6"/>
<rect x="1012.40" y="403.50" width="8" height="2.4" fill="#111"/>
<rect x="1013.40" y="406.00" width="5" height="2.5" fill="#f4f4f4"/>
<path d="M1057.40,409.50 Q1063.40,405.50 1066.40,403.50 L1076.40,403.50 L1077.40,407.50 Q1081.40,408.50 1085.40,409.50" fill="none" stroke="#111" stroke-width="1.6"/>
<rect x="1067.40" y="403.50" width="8" height="2.4" fill="#111"/>
<rect x="1068.40" y="406.00" width="5" height="2.5" fill="#f4f4f4"/>
<path d="M1085.40,409.50 Q1091.40,405.50 1094.40,403.50 L1104.40,403.50 L1105.40,407.50 Q1109.40,408.50 1113.40,409.50" fill="none" stroke="#111" stroke-width="1.6"/>
<rect x="1095.40" y="403.50" width="8" height="2.4" fill="#111"/>
<rect x="1096.40" y="406.00" width="5" height="2.5" fill="#f4f4f4"/>
<path d="M1138.40,409.50 Q1144.40,405.50 1147.40,403.50 L1157.40,403.50 L1158.40,407.50 Q1162.40,408.50 1166.40,409.50" fill="none" stroke="#111" stroke-width="1.6"/>
<rect x="1148.40" y="403.50" width="8" height="2.4" fill="#111"/>
<rect x="1149.40" y="406.00" width="5" height="2.5" fill="#f4f4f4"/>
<rect x="1001.4" y="409.5" width="166" height="13" fill="#2c2c2c"/>
<path d="M1001,340H1069V345H1001ZM1074,340H1084V345H1074ZM1110,340H1141V345H1110ZM1157,340H1167V345H1157ZM1001,345H1084V350H1001ZM1105,345H1147V350H1105ZM1152,345H1167V350H1152ZM1001,350H1084V355H1001ZM1105,350H1147V355H1105ZM1152,350H1167V355H1152ZM1001,355H1064V360H1001ZM1069,355H1084V360H1069ZM1105,355H1136V360H1105ZM1141,355H1167V360H1141ZM1001,360H1048V365H1001ZM1074,360H1090V365H1074ZM1126,360H1167V365H1126ZM1001,365H1027V371H1001ZM1116,365H1167V371H1116ZM1012,371H1027V376H1012ZM1095,371H1131V376H1095ZM1162,371H1167V376H1162ZM1084,376H1090V381H1084ZM1095,376H1110V381H1095ZM1131,376H1136V381H1131ZM1152,376H1167V381H1152ZM1079,381H1084V386H1079ZM1126,381H1167V386H1126ZM1116,386H1131V391H1116ZM1152,386H1167V391H1152ZM1084,391H1090V397H1084ZM1095,391H1100V397H1095ZM1126,391H1147V397H1126ZM1157,391H1167V397H1157ZM1001,397H1007V402H1001ZM1084,397H1090V402H1084ZM1162,397H1167V402H1162Z" fill="#5e5ad6" fill-opacity="0.8" shape-rendering="crispEdges"/>
<path d="M1001,402H1007V407H1001ZM1022,412H1027V417H1022ZM1033,412H1053V417H1033ZM1001,417H1007V422H1001ZM1017,417H1064V422H1017ZM1074,417H1084V422H1074ZM1162,417H1167V422H1162Z" fill="#1e1d97" fill-opacity="1.0" shape-rendering="crispEdges"/>
</g>
<rect x="384.70" y="379.40" width="3.60" height="3.60" rx="0" fill="#fff" stroke="none" stroke-width="1" />
<rect x="392.30" y="379.40" width="3.60" height="3.60" rx="0" fill="#fff" stroke="none" stroke-width="1" />
<rect x="399.90" y="379.40" width="3.60" height="3.60" rx="0" fill="#fff" stroke="none" stroke-width="1" />
<rect x="585.20" y="379.40" width="3.60" height="3.60" rx="0" fill="#fff" stroke="none" stroke-width="1" />
<rect x="592.80" y="379.40" width="3.60" height="3.60" rx="0" fill="#fff" stroke="none" stroke-width="1" />
<rect x="600.40" y="379.40" width="3.60" height="3.60" rx="0" fill="#fff" stroke="none" stroke-width="1" />
<rect x="776.70" y="379.40" width="3.60" height="3.60" rx="0" fill="#fff" stroke="none" stroke-width="1" />
<rect x="784.30" y="379.40" width="3.60" height="3.60" rx="0" fill="#fff" stroke="none" stroke-width="1" />
<rect x="791.90" y="379.40" width="3.60" height="3.60" rx="0" fill="#fff" stroke="none" stroke-width="1" />
<rect x="974.70" y="379.40" width="3.60" height="3.60" rx="0" fill="#fff" stroke="none" stroke-width="1" />
<rect x="982.30" y="379.40" width="3.60" height="3.60" rx="0" fill="#fff" stroke="none" stroke-width="1" />
<rect x="989.90" y="379.40" width="3.60" height="3.60" rx="0" fill="#fff" stroke="none" stroke-width="1" />
<text x="154.90" y="390.20" font-family='"Liberation Sans", sans-serif' font-size="21" fill="#fff" text-anchor="start" font-weight="bold" font-style="italic" textLength="47" lengthAdjust="spacingAndGlyphs" >Ours</text>
<rect x="114.20" y="678.00" width="1145.00" height="131.70" rx="0" fill="#000" stroke="#6f8fcf" stroke-width="1" />
<rect x="120.80" y="688.30" width="32.70" height="13.70" rx="2" fill="#fff" stroke="none" stroke-width="1" />
<rect x="120.80" y="793.40" width="32.70" height="13.70" rx="2" fill="#fff" stroke="none" stroke-width="1" />
<rect x="164.83" y="688.30" width="32.70" height="13.70" rx="2" fill="#fff" stroke="none" stroke-width="1" />
<rect x="164.83" y="793.40" width="32.70" height="13.70" rx="2" fill="#fff" stroke="none" stroke-width="1" />
<rect x="208.86" y="688.30" width="32.70" height="13.70" rx="2" fill="#fff" stroke="none" stroke-width="1" />
<rect x="208.86" y="793.40" width="32.70" height="13.70" rx="2" fill="#fff" stroke="none" stroke-width="1" />
<rect x="252.89" y="688.30" width="32.70" height="13.70" rx="2" fill="#fff" stroke="none" stroke-width="1" />
<rect x="252.89" y="793.40" width="32.70" height="13.70" rx="2" fill="#fff" stroke="none" stroke-width="1" />
<rect x="296.92" y="688.30" width="32.70" height="13.70" rx="2" fill="#fff" stroke="none" stroke-width="1" />
<rect x="296.92" y="793.40" width="32.70" height="13.70" rx="2" fill="#fff" stroke="none" stroke-width="1" />
<rect x="340.95" y="688.30" width="32.70" height="13.70" rx="2" fill="#fff" stroke="none" stroke-width="1" />
<rect x="340.95" y="793.40" width="32.70" height="13.70" rx="2" fill="#fff" stroke="none" stroke-width="1" />
<rect x="384.98" y="688.30" width="32.70" height="13.70" rx="2" fill="#fff" stroke="none" stroke-width="1" />
<rect x="384.98" y="793.40" width="32.70" height="13.70" rx="2" fill="#fff" stroke="none" stroke-width="1" />
<rect x="429.01" y="688.30" width="32.70" height="13.70" rx="2" fill="#fff" stroke="none" stroke-width="1" />
<rect x="429.01" y="793.40" width="32.70" height="13.70" rx="2" fill="#fff" stroke="none" stroke-width="1" />
<rect x="473.04" y="688.30" width="32.70" height="13.70" rx="2" fill="#fff" stroke="none" stroke-width="1" />
<rect x="473.04" y="793.40" width="32.70" height="13.70" rx="2" fill="#fff" stroke="none" stroke-width="1" />
<rect x="517.07" y="688.30" width="32.70" height="13.70" rx="2" fill="#fff" stroke="none" stroke-width="1" />
<rect x="517.07" y="793.40" width="32.70" height="13.70" rx="2" fill="#fff" stroke="none" stroke-width="1" />
<rect x="561.10" y="688.30" width="32.70" height="13.70" rx="2" fill="#fff" stroke="none" stroke-width="1" />
<rect x="561.10" y="793.40" width="32.70" height="13.70" rx="2" fill="#fff" stroke="none" stroke-width="1" />
<rect x="605.13" y="688.30" width="32.70" height="13.70" rx="2" fill="#fff" stroke="none" stroke-width="1" />
<rect x="605.13" y="793.40" width="32.70" height="13.70" rx="2" fill="#fff" stroke="none" stroke-width="1" />
<rect x="649.16" y="688.30" width="32.70" height="13.70" rx="2" fill="#fff" stroke="none" stroke-width="1" />
<rect x="649.16" y="793.40" width="32.70" height="13.70" rx="2" fill="#fff" stroke="none" stroke-width="1" />
<rect x="693.19" y="688.30" width="32.70" height="13.70" rx="2" fill="#fff" stroke="none" stroke-width="1" />
<rect x="693.19" y="793.40" width="32.70" height="13.70" rx="2" fill="#fff" stroke="none" stroke-width="1" />
<rect x="737.22" y="688.30" width="32.70" height="13.70" rx="2" fill="#fff" stroke="none" stroke-width="1" />
<rect x="737.22" y="793.40" width="32.70" height="13.70" rx="2" fill="#fff" stroke="none" stroke-width="1" />
<rect x="781.25" y="688.30" width="32.70" height="13.70" rx="2" fill="#fff" stroke="none" stroke-width="1" />
<rect x="781.25" y="793.40" width="32.70" height="13.70" rx="2" fill="#fff" stroke="none" stroke-width="1" />
<rect x="825.28" y="688.30" width="32.70" height="13.70" rx="2" fill="#fff" stroke="none" stroke-width="1" />
<rect x="825.28" y="793.40" width="32.70" height="13.70" rx="2" fill="#fff" stroke="none" stroke-width="1" />
<rect x="869.31" y="688.30" width="32.70" height="13.70" rx="2" fill="#fff" stroke="none" stroke-width="1" />
<rect x="869.31" y="793.40" width="32.70" height="13.70" rx="2" fill="#fff" stroke="none" stroke-width="1" />
<rect x="913.34" y="688.30" width="32.70" height="13.70" rx="2" fill="#fff" stroke="none" stroke-width="1" />
<rect x="913.34" y="793.40" width="32.70" height="13.70" rx="2" fill="#fff" stroke="none" stroke-width="1" />
<rect x="957.37" y="688.30" width="32.70" height="13.70" rx="2" fill="#fff" stroke="none" stroke-width="1" />
<rect x="957.37" y="793.40" width="32.70" height="13.70" rx="2" fill="#fff" stroke="none" stroke-width="1" />
<rect x="1001.40" y="688.30" width="32.70" height="13.70" rx="2" fill="#fff" stroke="none" stroke-width="1" />
<rect x="1001.40" y="793.40" width="32.70" height="13.70" rx="2" fill="#fff" stroke="none" stroke-width="1" />
<rect x="1045.43" y="688.30" width="32.70" height="13.70" rx="2" fill="#fff" stroke="none" stroke-width="1" />
<rect x="1045.43" y="793.40" width="32.70" height="13.70" rx="2" fill="#fff" stroke="none" stroke-width="1" />
<rect x="1089.46" y="688.30" width="32.70" height="13.70" rx="2" fill="#fff" stroke="none" stroke-width="1" />
<rect x="1089.46" y="793.40" width="32.70" height="13.70" rx="2" fill="#fff" stroke="none" stroke-width="1" />
<rect x="1133.49" y="688.30" width="32.70" height="13.70" rx="2" fill="#fff" stroke="none" stroke-width="1" />
<rect x="1133.49" y="793.40" width="32.70" height="13.70" rx="2" fill="#fff" stroke="none" stroke-width="1" />
<rect x="1177.52" y="688.30" width="32.70" height="13.70" rx="2" fill="#fff" stroke="none" stroke-width="1" />
<rect x="1177.52" y="793.40" width="32.70" height="13.70" rx="2" fill="#fff" stroke="none" stroke-width="1" />
<rect x="1221.55" y="688.30" width="32.70" height="13.70" rx="2" fill="#fff" stroke="none" stroke-width="1" />
<rect x="1221.55" y="793.40" width="32.70" height="13.70" rx="2" fill="#fff" stroke="none" stroke-width="1" />
<clipPath id="c20"><rect x="211.20" y="705.00" width="166.00" height="83.00"/></clipPath><g clip-path="url(#c20)">
<rect x="211.2" y="705" width="166" height="83" fill="#c7bba5"/>
<path d="M233.20,727.70 L243.70,731.40 L234.50,758.40 L224.10,756.00 Z" fill="#6b2c14" />
<circle cx="262.80" cy="727.00" r="9.50" fill="url(#tex)" stroke="#9a9a9a" stroke-width="1.5"/>
<path d="M275.10,762.00 L296.00,725.90 L296.00,733.20 L279.40,766.40 Z" fill="#151560" />
<path d="M284.90,762.70 L296.00,729.60 L296.00,762.70 Z" fill="#e6e6e6" />
<ellipse cx="270.20" cy="768.00" rx="4.5" ry="6" fill="#0d0d0d"/>
<path d="M297.20,741.90 L322.40,729.60 L329.70,740.00 L297.20,763.40 Z" fill="#6b2c14" />
<circle cx="355.50" cy="751.00" r="13.00" fill="url(#tex)" stroke="#8d8d8d" stroke-width="2"/>
<path d="M212.20,775.00 Q218.20,771.00 221.20,769.00 L231.20,769.00 L232.20,773.00 Q236.20,774.00 240.20,775.00" fill="none" stroke="#111" stroke-width="1.6"/>
<rect x="222.20" y="769.00" width="8" height="2.4" fill="#111"/>
<rect x="223.20" y="771.50" width="5" height="2.5" fill="#f4f4f4"/>
<path d="M267.20,775.00 Q273.20,771.00 276.20,769.00 L286.20,769.00 L287.20,773.00 Q291.20,774.00 295.20,775.00" fill="none" stroke="#111" stroke-width="1.6"/>
<rect x="277.20" y="769.00" width="8" height="2.4" fill="#111"/>
<rect x="278.20" y="771.50" width="5" height="2.5" fill="#f4f4f4"/>
<path d="M297.20,775.00 Q303.20,771.00 306.20,769.00 L316.20,769.00 L317.20,773.00 Q321.20,774.00 325.20,775.00" fill="none" stroke="#111" stroke-width="1.6"/>
<rect x="307.20" y="769.00" width="8" height="2.4" fill="#111"/>
<rect x="308.20" y="771.50" width="5" height="2.5" fill="#f4f4f4"/>
<path d="M349.20,775.00 Q355.20,771.00 358.20,769.00 L368.20,769.00 L369.20,773.00 Q373.20,774.00 377.20,775.00" fill="none" stroke="#111" stroke-width="1.6"/>
<rect x="359.20" y="769.00" width="8" height="2.4" fill="#111"/>
<rect x="360.20" y="771.50" width="5" height="2.5" fill="#f4f4f4"/>
<rect x="211.2" y="775" width="166" height="13" fill="#2c2c2c"/>
<path d="M211,705H216V710H211ZM227,705H237V710H227ZM284,705H299V710H284ZM325,705H346V710H325ZM372,705H377V710H372ZM211,710H222V715H211ZM227,710H232V715H227ZM279,710H305V715H279ZM310,710H315V715H310ZM325,710H336V715H325ZM341,710H351V715H341ZM367,710H377V715H367ZM211,715H222V721H211ZM227,715H237V721H227ZM273,715H284V721H273ZM289,715H310V721H289ZM325,715H346V721H325ZM356,715H362V721H356ZM367,715H377V721H367ZM211,721H222V726H211ZM237,721H242V726H237ZM273,721H284V726H273ZM294,721H310V726H294ZM325,721H336V726H325ZM362,721H377V726H362ZM211,726H222V731H211ZM273,726H279V731H273ZM284,726H294V731H284ZM299,726H310V731H299ZM325,726H336V731H325ZM362,726H377V731H362ZM211,731H216V736H211ZM237,731H253V736H237ZM273,731H279V736H273ZM325,731H336V736H325ZM362,731H377V736H362ZM211,736H216V741H211ZM237,736H258V741H237ZM268,736H279V741H268ZM325,736H336V741H325ZM367,736H377V741H367ZM211,741H216V746H211ZM237,741H258V746H237ZM268,741H279V746H268ZM294,741H305V746H294ZM331,741H341V746H331ZM367,741H377V746H367ZM211,746H216V752H211ZM237,746H263V752H237ZM268,746H279V752H268ZM315,746H325V752H315ZM331,746H336V752H331ZM367,746H377V752H367ZM211,752H216V757H211ZM242,752H258V757H242ZM268,752H273V757H268ZM294,752H315V757H294ZM320,752H341V757H320ZM367,752H377V757H367ZM211,757H237V762H211ZM242,757H258V762H242ZM273,757H279V762H273ZM289,757H294V762H289ZM299,757H305V762H299ZM315,757H331V762H315ZM356,757H377V762H356ZM211,762H237V767H211ZM248,762H268V767H248ZM294,762H336V767H294ZM341,762H351V767H341ZM362,762H377V767H362ZM237,767H242V772H237ZM248,767H253V772H248ZM320,767H336V772H320ZM346,767H356V772H346Z" fill="#5e5ad6" fill-opacity="0.8" shape-rendering="crispEdges"/>
<path d="M211,772H216V778H211ZM237,772H248V778H237ZM284,772H310V778H284ZM341,772H351V778H341ZM211,778H216V783H211ZM227,778H263V783H227ZM279,778H305V783H279ZM315,778H377V783H315ZM211,783H222V788H211ZM227,783H273V788H227ZM284,783H351V788H284ZM362,783H377V788H362Z" fill="#1e1d97" fill-opacity="1.0" shape-rendering="crispEdges"/>
</g>
<clipPath id="c21"><rect x="411.30" y="705.00" width="166.00" height="83.00"/></clipPath><g clip-path="url(#c21)">
<rect x="411.3" y="705" width="166" height="83" fill="#c7bba5"/>
<path d="M411.30,705.00 L438.30,705.00 L446.90,727.00 L411.30,739.60 Z" fill="#6b2912" />
<path d="M494.80,705.00 L523.60,705.00 L531.60,731.70 L494.80,741.50 Z" fill="#6b2912" />
<clipPath id="c22"><rect x="411.30" y="705.00" width="83" height="83"/></clipPath><g clip-path="url(#c22)">
<circle cx="497.30" cy="769.00" r="24.00" fill="url(#tex)" />
</g>
<clipPath id="c23"><rect x="494.30" y="705.00" width="83" height="83"/></clipPath><g clip-path="url(#c23)">
<circle cx="571.00" cy="773.80" r="35.00" fill="url(#tex)" />
</g>
<path d="M412.30,775.00 Q418.30,771.00 421.30,769.00 L431.30,769.00 L432.30,773.00 Q436.30,774.00 440.30,775.00" fill="none" stroke="#111" stroke-width="1.6"/>
<rect x="422.30" y="769.00" width="8" height="2.4" fill="#111"/>
<rect x="423.30" y="771.50" width="5" height="2.5" fill="#f4f4f4"/>
<path d="M467.30,775.00 Q473.30,771.00 476.30,769.00 L486.30,769.00 L487.30,773.00 Q491.30,774.00 495.30,775.00" fill="none" stroke="#111" stroke-width="1.6"/>
<rect x="477.30" y="769.00" width="8" height="2.4" fill="#111"/>
<rect x="478.30" y="771.50" width="5" height="2.5" fill="#f4f4f4"/>
<path d="M517.30,775.00 Q523.30,771.00 526.30,769.00 L536.30,769.00 L537.30,773.00 Q541.30,774.00 545.30,775.00" fill="none" stroke="#111" stroke-width="1.6"/>
<rect x="527.30" y="769.00" width="8" height="2.4" fill="#111"/>
<rect x="528.30" y="771.50" width="5" height="2.5" fill="#f4f4f4"/>
<path d="M549.30,775.00 Q555.30,771.00 558.30,769.00 L568.30,769.00 L569.30,773.00 Q573.30,774.00 577.30,775.00" fill="none" stroke="#111" stroke-width="1.6"/>
<rect x="559.30" y="769.00" width="8" height="2.4" fill="#111"/>
<rect x="560.30" y="771.50" width="5" height="2.5" fill="#f4f4f4"/>
<rect x="411.3" y="775" width="166" height="13" fill="#2c2c2c"/>
<path d="M437,705H458V710H437ZM474,705H479V710H474ZM484,705H494V710H484ZM536,705H541V710H536ZM567,705H577V710H567ZM442,710H494V715H442ZM531,710H551V715H531ZM567,710H577V715H567ZM442,715H463V721H442ZM468,715H494V721H468ZM541,715H551V721H541ZM557,715H577V721H557ZM448,721H463V726H448ZM474,721H494V726H474ZM536,721H546V726H536ZM551,721H577V726H551ZM448,726H463V731H448ZM468,726H494V731H468ZM551,726H577V731H551ZM468,731H489V736H468ZM551,731H567V736H551ZM572,731H577V736H572ZM463,736H468V741H463ZM515,736H520V741H515ZM541,736H546V741H541ZM437,741H453V746H437ZM458,741H463V746H458ZM494,741H499V746H494ZM510,741H541V746H510ZM437,746H448V752H437ZM494,746H515V752H494ZM520,746H536V752H520ZM411,752H422V757H411ZM432,752H458V757H432ZM494,752H499V757H494ZM515,752H536V757H515ZM411,757H422V762H411ZM437,757H448V762H437ZM453,757H458V762H453ZM494,757H499V762H494ZM515,757H531V762H515ZM411,762H416V767H411ZM437,762H458V767H437ZM494,762H505V767H494ZM437,767H448V772H437ZM453,767H458V772H453ZM484,767H489V772H484ZM494,767H505V772H494ZM531,767H536V772H531ZM551,767H557V772H551Z" fill="#5e5ad6" fill-opacity="0.8" shape-rendering="crispEdges"/>
<path d="M416,710H427V715H416ZM499,710H520V715H499ZM411,715H432V721H411ZM494,715H505V721H494ZM416,721H427V726H416ZM499,721H510V726H499Z" fill="#2a1a90" fill-opacity="0.85" shape-rendering="crispEdges"/>
<path d="M458,772H468V778H458ZM531,772H577V778H531ZM448,778H474V783H448ZM484,778H505V783H484ZM531,778H577V783H531ZM411,783H416V788H411ZM427,783H525V788H427ZM531,783H577V788H531Z" fill="#1e1d97" fill-opacity="1.0" shape-rendering="crispEdges"/>
</g>
<clipPath id="c24"><rect x="605.70" y="705.00" width="166.00" height="83.00"/></clipPath><g clip-path="url(#c24)">
<rect x="605.7" y="705" width="166" height="83" fill="#c7bba5"/>
<rect x="605.70" y="715.00" width="37" height="3" fill="#9aa0a0"/>
<path d="M606.20,718.20 L631.70,718.00 L632.70,741.00 L606.20,741.00 Z" fill="#6b2912" />
<clipPath id="c25"><rect x="605.70" y="705.00" width="83" height="83"/></clipPath><g clip-path="url(#c25)">
<circle cx="689.20" cy="775.00" r="34.00" fill="url(#tex)" />
</g>
<path d="M688.70,705.00 L718.70,705.00 L720.30,707.00 L688.70,717.50 Z" fill="#6b2912" />
<path d="M702.70,775.00 L735.70,757.00 L745.70,755.00 L745.70,775.00 Z" fill="#e8e8e6" />
<ellipse cx="696.70" cy="761.00" rx="9" ry="5" fill="#080808"/>
<path d="M716.70,752.00 L739.70,747.00 L740.70,752.00 L717.70,757.00 Z" fill="#6a6a6a" />
<clipPath id="c26"><rect x="688.70" y="705.00" width="83" height="83"/></clipPath><g clip-path="url(#c26)">
<circle cx="766.70" cy="775.00" r="34.00" fill="url(#tex)" />
</g>
<path d="M631.70,775.00 Q637.70,771.00 640.70,769.00 L650.70,769.00 L651.70,773.00 Q655.70,774.00 659.70,775.00" fill="none" stroke="#111" stroke-width="1.6"/>
<rect x="641.70" y="769.00" width="8" height="2.4" fill="#111"/>
<rect x="642.70" y="771.50" width="5" height="2.5" fill="#f4f4f4"/>
<path d="M651.70,775.00 Q657.70,771.00 660.70,769.00 L670.70,769.00 L671.70,773.00 Q675.70,774.00 679.70,775.00" fill="none" stroke="#111" stroke-width="1.6"/>
<rect x="661.70" y="769.00" width="8" height="2.4" fill="#111"/>
<rect x="662.70" y="771.50" width="5" height="2.5" fill="#f4f4f4"/>
<path d="M711.70,775.00 Q717.70,771.00 720.70,769.00 L730.70,769.00 L731.70,773.00 Q735.70,774.00 739.70,775.00" fill="none" stroke="#111" stroke-width="1.6"/>
<rect x="721.70" y="769.00" width="8" height="2.4" fill="#111"/>
<rect x="722.70" y="771.50" width="5" height="2.5" fill="#f4f4f4"/>
<path d="M736.70,775.00 Q742.70,771.00 745.70,769.00 L755.70,769.00 L756.70,773.00 Q760.70,774.00 764.70,775.00" fill="none" stroke="#111" stroke-width="1.6"/>
<rect x="746.70" y="769.00" width="8" height="2.4" fill="#111"/>
<rect x="747.70" y="771.50" width="5" height="2.5" fill="#f4f4f4"/>
<rect x="605.7" y="775" width="166" height="13" fill="#2c2c2c"/>
<path d="M647,705H658V710H647ZM684,705H689V710H684ZM720,705H741V710H720ZM746,705H756V710H746ZM767,705H772V710H767ZM647,710H663V715H647ZM715,710H746V715H715ZM751,710H756V715H751ZM761,710H772V715H761ZM642,715H663V721H642ZM668,715H678V721H668ZM684,715H689V721H684ZM704,715H756V721H704ZM761,715H772V721H761ZM637,721H678V726H637ZM684,721H689V726H684ZM699,721H772V726H699ZM637,726H689V731H637ZM704,726H772V731H704ZM637,731H663V736H637ZM673,731H746V736H673ZM756,731H772V736H756ZM632,736H663V741H632ZM668,736H673V741H668ZM684,736H741V741H684ZM756,736H772V741H756ZM606,741H652V746H606ZM689,741H694V746H689ZM699,741H720V746H699ZM606,746H647V752H606ZM689,746H699V752H689ZM709,746H715V752H709ZM606,752H616V757H606ZM621,752H642V757H621ZM689,752H694V757H689ZM606,757H616V762H606ZM621,757H637V762H621ZM606,762H632V767H606ZM606,767H626V772H606ZM694,767H699V772H694Z" fill="#5e5ad6" fill-opacity="0.8" shape-rendering="crispEdges"/>
<path d="M611,772H621V778H611ZM647,778H689V783H647ZM725,778H772V783H725ZM616,783H678V788H616ZM709,783H767V788H709Z" fill="#1e1d97" fill-opacity="1.0" shape-rendering="crispEdges"/>
</g>
<clipPath id="c27"><rect x="803.30" y="705.00" width="166.00" height="83.00"/></clipPath><g clip-path="url(#c27)">
<rect x="803.3" y="705" width="166" height="83" fill="#c7bba5"/>
<clipPath id="c28"><rect x="803.30" y="705.00" width="83" height="83"/></clipPath><g clip-path="url(#c28)">
<path d="M803.30,763.00 L838.30,753.00 L838.30,775.00 L803.30,775.00 Z" fill="#e8e8e6" />
<path d="M808.30,765.00 L823.30,764.00 L823.30,775.00 L808.30,775.00 Z" fill="#555" />
<path d="M830.30,745.00 L861.30,735.00 L862.30,741.00 L831.30,751.00 Z" fill="#6a6a6a" />
<ellipse cx="809.30" cy="754.00" rx="10" ry="6" fill="#080808"/>
<circle cx="888.30" cy="775.00" r="40.00" fill="url(#tex)" stroke="#dedc9a" stroke-width="0.8"/>
</g>
<clipPath id="c29"><rect x="886.30" y="705.00" width="83" height="83"/></clipPath><g clip-path="url(#c29)">
<path d="M886.30,753.00 L969.30,741.00 L969.30,775.00 L886.30,775.00 Z" fill="#e8e8e6" />
<path d="M891.30,756.00 L903.30,755.00 L903.30,775.00 L891.30,775.00 Z" fill="#555" />
<path d="M914.30,741.00 L944.30,736.00 L945.30,742.00 L915.30,747.00 Z" fill="#6a6a6a" />
<ellipse cx="893.30" cy="746.00" rx="8" ry="4" fill="#080808"/>
<circle cx="958.30" cy="779.00" r="30.00" fill="#222" />
<circle cx="960.30" cy="780.00" r="29.00" fill="url(#tex)" />
</g>
<path d="M836.30,775.00 Q842.30,771.00 845.30,769.00 L855.30,769.00 L856.30,773.00 Q860.30,774.00 864.30,775.00" fill="none" stroke="#111" stroke-width="1.6"/>
<rect x="846.30" y="769.00" width="8" height="2.4" fill="#111"/>
<rect x="847.30" y="771.50" width="5" height="2.5" fill="#f4f4f4"/>
<path d="M889.30,775.00 Q895.30,771.00 898.30,769.00 L908.30,769.00 L909.30,773.00 Q913.30,774.00 917.30,775.00" fill="none" stroke="#111" stroke-width="1.6"/>
<rect x="899.30" y="769.00" width="8" height="2.4" fill="#111"/>
<rect x="900.30" y="771.50" width="5" height="2.5" fill="#f4f4f4"/>
<path d="M936.30,775.00 Q942.30,771.00 945.30,769.00 L955.30,769.00 L956.30,773.00 Q960.30,774.00 964.30,775.00" fill="none" stroke="#111" stroke-width="1.6"/>
<rect x="946.30" y="769.00" width="8" height="2.4" fill="#111"/>
<rect x="947.30" y="771.50" width="5" height="2.5" fill="#f4f4f4"/>
<rect x="803.3" y="775" width="166" height="13" fill="#2c2c2c"/>
<path d="M803,705H808V710H803ZM819,705H866V710H819ZM876,705H891V710H876ZM897,705H949V710H897ZM959,705H969V710H959ZM803,710H860V715H803ZM876,710H969V715H876ZM803,715H886V721H803ZM891,715H933V721H891ZM938,715H943V721H938ZM949,715H969V721H949ZM803,721H808V726H803ZM819,721H855V726H819ZM876,721H907V726H876ZM912,721H938V726H912ZM943,721H949V726H943ZM954,721H969V726H954ZM803,726H897V731H803ZM902,726H907V731H902ZM912,726H933V731H912ZM949,726H969V731H949ZM803,731H814V736H803ZM819,731H840V736H819ZM886,731H891V736H886ZM954,731H969V736H954ZM803,736H819V741H803ZM814,741H819V746H814ZM912,752H923V757H912ZM907,757H917V762H907Z" fill="#5e5ad6" fill-opacity="0.8" shape-rendering="crispEdges"/>
<path d="M891,767H897V772H891ZM891,772H897V778H891ZM829,778H938V783H829ZM954,778H969V783H954ZM803,783H808V788H803ZM814,783H954V788H814ZM959,783H964V788H959Z" fill="#1e1d97" fill-opacity="1.0" shape-rendering="crispEdges"/>
</g>
<clipPath id="c30"><rect x="1001.40" y="705.00" width="166.00" height="83.00"/></clipPath><g clip-path="url(#c30)">
<rect x="1001.4" y="705" width="166" height="83" fill="#c7bba5"/>
<path d="M1001.40,705.00 L1028.40,705.00 L1039.40,706.00 L1001.40,712.00 Z" fill="#6b2912" />
<path d="M1001.40,761.00 L1015.40,757.00 L1018.40,761.00 L1001.40,771.00 Z" fill="#0a0a0a" />
<path d="M1013.40,764.00 L1073.40,764.00 L1081.40,775.00 L1013.40,775.00 Z" fill="#151515" />
<rect x="1023.40" y="771.00" width="42" height="4" fill="#eaeaea"/>
<rect x="1028.40" y="758.00" width="24" height="4" fill="#8a8a8a"/>
<path d="M1085.40,775.00 Q1091.40,771.00 1094.40,769.00 L1104.40,769.00 L1105.40,773.00 Q1109.40,774.00 1113.40,775.00" fill="none" stroke="#111" stroke-width="1.6"/>
<rect x="1095.40" y="769.00" width="8" height="2.4" fill="#111"/>
<rect x="1096.40" y="771.50" width="5" height="2.5" fill="#f4f4f4"/>
<path d="M1138.40,775.00 Q1144.40,771.00 1147.40,769.00 L1157.40,769.00 L1158.40,773.00 Q1162.40,774.00 1166.40,775.00" fill="none" stroke="#111" stroke-width="1.6"/>
<rect x="1148.40" y="769.00" width="8" height="2.4" fill="#111"/>
<rect x="1149.40" y="771.50" width="5" height="2.5" fill="#f4f4f4"/>
<rect x="1001.4" y="775" width="166" height="13" fill="#2c2c2c"/>
<path d="M1027,705H1069V710H1027ZM1074,705H1084V710H1074ZM1095,705H1100V710H1095ZM1126,705H1152V710H1126ZM1157,705H1167V710H1157ZM1001,710H1007V715H1001ZM1027,710H1095V715H1027ZM1110,710H1167V715H1110ZM1022,715H1079V721H1022ZM1105,715H1167V721H1105ZM1001,721H1012V726H1001ZM1017,721H1084V726H1017ZM1110,721H1167V726H1110ZM1001,726H1012V731H1001ZM1027,726H1084V731H1027ZM1110,726H1167V731H1110ZM1001,731H1012V736H1001ZM1017,731H1022V736H1017ZM1033,731H1053V736H1033ZM1064,731H1084V736H1064ZM1116,731H1167V736H1116ZM1001,736H1048V741H1001ZM1069,736H1084V741H1069ZM1110,736H1167V741H1110ZM1001,741H1012V746H1001ZM1064,741H1074V746H1064ZM1079,741H1084V746H1079ZM1126,741H1136V746H1126ZM1147,741H1167V746H1147ZM1074,746H1084V752H1074ZM1121,746H1167V752H1121ZM1079,752H1084V757H1079ZM1110,752H1116V757H1110ZM1121,752H1131V757H1121ZM1162,752H1167V757H1162ZM1131,757H1147V762H1131ZM1157,757H1167V762H1157ZM1162,762H1167V767H1162Z" fill="#5e5ad6" fill-opacity="0.8" shape-rendering="crispEdges"/>
<path d="M1001,762H1007V767H1001ZM1001,767H1012V772H1001ZM1022,778H1038V783H1022ZM1079,778H1084V783H1079ZM1001,783H1007V788H1001ZM1058,783H1064V788H1058ZM1074,783H1084V788H1074ZM1126,783H1131V788H1126ZM1162,783H1167V788H1162Z" fill="#1e1d97" fill-opacity="1.0" shape-rendering="crispEdges"/>
</g>
<rect x="384.70" y="744.90" width="3.60" height="3.60" rx="0" fill="#fff" stroke="none" stroke-width="1" />
<rect x="392.30" y="744.90" width="3.60" height="3.60" rx="0" fill="#fff" stroke="none" stroke-width="1" />
<rect x="399.90" y="744.90" width="3.60" height="3.60" rx="0" fill="#fff" stroke="none" stroke-width="1" />
<rect x="585.20" y="744.90" width="3.60" height="3.60" rx="0" fill="#fff" stroke="none" stroke-width="1" />
<rect x="592.80" y="744.90" width="3.60" height="3.60" rx="0" fill="#fff" stroke="none" stroke-width="1" />
<rect x="600.40" y="744.90" width="3.60" height="3.60" rx="0" fill="#fff" stroke="none" stroke-width="1" />
<rect x="776.70" y="744.90" width="3.60" height="3.60" rx="0" fill="#fff" stroke="none" stroke-width="1" />
<rect x="784.30" y="744.90" width="3.60" height="3.60" rx="0" fill="#fff" stroke="none" stroke-width="1" />
<rect x="791.90" y="744.90" width="3.60" height="3.60" rx="0" fill="#fff" stroke="none" stroke-width="1" />
<rect x="974.70" y="744.90" width="3.60" height="3.60" rx="0" fill="#fff" stroke="none" stroke-width="1" />
<rect x="982.30" y="744.90" width="3.60" height="3.60" rx="0" fill="#fff" stroke="none" stroke-width="1" />
<rect x="989.90" y="744.90" width="3.60" height="3.60" rx="0" fill="#fff" stroke="none" stroke-width="1" />
<text x="148.00" y="755.50" font-family='"Liberation Sans", sans-serif' font-size="21" fill="#fff" text-anchor="start" font-weight="bold" font-style="normal" textLength="60.8" lengthAdjust="spacingAndGlyphs" >Static</text>
<circle cx="1214.3" cy="380.8" r="27.3" fill="#c2e47a"/>
<path d="M1214.3,353.5 A27.3,27.3 0 0 1 1214.3,408.1 A27.3,27.3 0 0 0 1214.3,353.5 Z" fill="#b3dc5c"/>
<path d="M1202,381 L1211,389.5 L1227,373" fill="none" stroke="#f3f6f0" stroke-width="5.2" stroke-linecap="round" stroke-linejoin="round"/>
<path d="M1195,727.5 L1234,766 M1234,727.5 L1195,766" stroke="#e5545c" stroke-width="10" stroke-linecap="butt"/>
<g stroke="#f3f3f3" stroke-width="0.8">
<line x1="178" y1="452" x2="178" y2="675"/>
<line x1="214.5" y1="452" x2="214.5" y2="675"/>
<line x1="251" y1="452" x2="251" y2="675"/>
<line x1="287.5" y1="452" x2="287.5" y2="675"/>
<line x1="324" y1="452" x2="324" y2="675"/>
<line x1="360.5" y1="452" x2="360.5" y2="675"/>
<line x1="397" y1="452" x2="397" y2="675"/>
<line x1="433.5" y1="452" x2="433.5" y2="675"/>
<line x1="470" y1="452" x2="470" y2="675"/>
<line x1="506.5" y1="452" x2="506.5" y2="675"/>
<line x1="543" y1="452" x2="543" y2="675"/>
<line x1="579.5" y1="452" x2="579.5" y2="675"/>
<line x1="616" y1="452" x2="616" y2="675"/>
<line x1="652.5" y1="452" x2="652.5" y2="675"/>
<line x1="689" y1="452" x2="689" y2="675"/>
<line x1="725.5" y1="452" x2="725.5" y2="675"/>
<line x1="762" y1="452" x2="762" y2="675"/>
<line x1="798.5" y1="452" x2="798.5" y2="675"/>
<line x1="835" y1="452" x2="835" y2="675"/>
<line x1="871.5" y1="452" x2="871.5" y2="675"/>
<line x1="908" y1="452" x2="908" y2="675"/>
<line x1="944.5" y1="452" x2="944.5" y2="675"/>
<line x1="981" y1="452" x2="981" y2="675"/>
<line x1="1017.5" y1="452" x2="1017.5" y2="675"/>
<line x1="1054" y1="452" x2="1054" y2="675"/>
<line x1="1090.5" y1="452" x2="1090.5" y2="675"/>
<line x1="1127" y1="452" x2="1127" y2="675"/>
<line x1="1163.5" y1="452" x2="1163.5" y2="675"/>
<line x1="1200" y1="452" x2="1200" y2="675"/>
<line x1="1236.5" y1="452" x2="1236.5" y2="675"/>
<line x1="166" y1="459.2" x2="1248" y2="459.2"/>
<line x1="166" y1="480.2" x2="1248" y2="480.2"/>
<line x1="166" y1="501.2" x2="1248" y2="501.2"/>
<line x1="166" y1="522.2" x2="1248" y2="522.2"/>
<line x1="166" y1="543.3" x2="1248" y2="543.3"/>
<line x1="166" y1="573.7" x2="1248" y2="573.7"/>
<line x1="166" y1="603" x2="1248" y2="603"/>
<line x1="166" y1="632.2" x2="1248" y2="632.2"/>
<line x1="166" y1="660.5" x2="1248" y2="660.5"/>
</g>
<text x="158.50" y="463.50" font-family='"Liberation Sans", sans-serif' font-size="12" fill="#3a3a3a" text-anchor="end" font-weight="normal" font-style="normal" >0.2</text>
<line x1="160.50" y1="459.20" x2="164.50" y2="459.20" stroke="#555" stroke-width="1" />
<text x="158.50" y="505.50" font-family='"Liberation Sans", sans-serif' font-size="12" fill="#3a3a3a" text-anchor="end" font-weight="normal" font-style="normal" >0.0</text>
<line x1="160.50" y1="501.20" x2="164.50" y2="501.20" stroke="#555" stroke-width="1" />
<text x="158.50" y="547.60" font-family='"Liberation Sans", sans-serif' font-size="12" fill="#3a3a3a" text-anchor="end" font-weight="normal" font-style="normal" >−0.2</text>
<line x1="160.50" y1="543.30" x2="164.50" y2="543.30" stroke="#555" stroke-width="1" />
<text x="158.50" y="578.00" font-family='"Liberation Sans", sans-serif' font-size="12" fill="#3a3a3a" text-anchor="end" font-weight="normal" font-style="normal" >1.0</text>
<line x1="160.50" y1="573.70" x2="164.50" y2="573.70" stroke="#555" stroke-width="1" />
<text x="158.50" y="607.30" font-family='"Liberation Sans", sans-serif' font-size="12" fill="#3a3a3a" text-anchor="end" font-weight="normal" font-style="normal" >0.5</text>
<line x1="160.50" y1="603.00" x2="164.50" y2="603.00" stroke="#555" stroke-width="1" />
<text x="158.50" y="636.50" font-family='"Liberation Sans", sans-serif' font-size="12" fill="#3a3a3a" text-anchor="end" font-weight="normal" font-style="normal" >0.0</text>
<line x1="160.50" y1="632.20" x2="164.50" y2="632.20" stroke="#555" stroke-width="1" />
<text x="158.50" y="664.80" font-family='"Liberation Sans", sans-serif' font-size="12" fill="#3a3a3a" text-anchor="end" font-weight="normal" font-style="normal" >−0.5</text>
<line x1="160.50" y1="660.50" x2="164.50" y2="660.50" stroke="#555" stroke-width="1" />
<rect x="163.60" y="452.00" width="1.00" height="1.00" rx="0" fill="#999" stroke="none" stroke-width="1" />
<rect x="163.60" y="462.00" width="1.00" height="1.00" rx="0" fill="#999" stroke="none" stroke-width="1" />
<rect x="163.60" y="472.00" width="1.00" height="1.00" rx="0" fill="#999" stroke="none" stroke-width="1" />
<rect x="163.60" y="482.00" width="1.00" height="1.00" rx="0" fill="#999" stroke="none" stroke-width="1" />
<rect x="163.60" y="492.00" width="1.00" height="1.00" rx="0" fill="#999" stroke="none" stroke-width="1" />
<rect x="163.60" y="502.00" width="1.00" height="1.00" rx="0" fill="#999" stroke="none" stroke-width="1" />
<rect x="163.60" y="512.00" width="1.00" height="1.00" rx="0" fill="#999" stroke="none" stroke-width="1" />
<rect x="163.60" y="522.00" width="1.00" height="1.00" rx="0" fill="#999" stroke="none" stroke-width="1" />
<rect x="163.60" y="532.00" width="1.00" height="1.00" rx="0" fill="#999" stroke="none" stroke-width="1" />
<rect x="163.60" y="542.00" width="1.00" height="1.00" rx="0" fill="#999" stroke="none" stroke-width="1" />
<rect x="163.60" y="552.00" width="1.00" height="1.00" rx="0" fill="#999" stroke="none" stroke-width="1" />
<rect x="163.60" y="562.00" width="1.00" height="1.00" rx="0" fill="#999" stroke="none" stroke-width="1" />
<rect x="163.60" y="572.00" width="1.00" height="1.00" rx="0" fill="#999" stroke="none" stroke-width="1" />
<rect x="163.60" y="582.00" width="1.00" height="1.00" rx="0" fill="#999" stroke="none" stroke-width="1" />
<rect x="163.60" y="592.00" width="1.00" height="1.00" rx="0" fill="#999" stroke="none" stroke-width="1" />
<rect x="163.60" y="602.00" width="1.00" height="1.00" rx="0" fill="#999" stroke="none" stroke-width="1" />
<rect x="163.60" y="612.00" width="1.00" height="1.00" rx="0" fill="#999" stroke="none" stroke-width="1" />
<rect x="163.60" y="622.00" width="1.00" height="1.00" rx="0" fill="#999" stroke="none" stroke-width="1" />
<rect x="163.60" y="632.00" width="1.00" height="1.00" rx="0" fill="#999" stroke="none" stroke-width="1" />
<rect x="163.60" y="642.00" width="1.00" height="1.00" rx="0" fill="#999" stroke="none" stroke-width="1" />
<rect x="163.60" y="652.00" width="1.00" height="1.00" rx="0" fill="#999" stroke="none" stroke-width="1" />
<rect x="163.60" y="662.00" width="1.00" height="1.00" rx="0" fill="#999" stroke="none" stroke-width="1" />
<rect x="163.60" y="672.00" width="1.00" height="1.00" rx="0" fill="#999" stroke="none" stroke-width="1" />
<clipPath id="chartclip"><rect x="166" y="448" width="1090" height="229"/></clipPath><g clip-path="url(#chartclip)">
<path d="M214.0,495.9 L216.0,496.4 L218.0,497.0 L220.0,497.1 L222.0,496.4 L224.0,497.1 L226.0,497.3 L228.0,497.5 L230.0,497.0 L232.0,496.8 L234.0,497.5 L236.0,498.0 L238.0,499.6 L240.0,500.5 L242.0,500.4 L244.0,500.6 L246.0,502.1 L248.0,502.8 L250.0,504.4 L252.1,506.6 L254.1,508.4 L256.1,511.4 L258.2,513.3 L260.2,515.7 L262.2,518.2 L264.3,520.9 L266.3,523.8 L268.3,525.6 L270.4,527.0 L272.4,529.5 L274.4,530.1 L276.4,530.8 L278.5,531.4 L280.5,532.5 L282.5,533.3 L284.5,534.1 L286.6,536.0 L288.6,536.8 L290.6,537.6 L292.6,537.1 L294.7,538.1 L296.7,539.5 L298.7,539.7 L300.8,540.5 L302.8,541.2 L304.9,541.7 L307.0,542.6 L309.1,543.1 L311.1,544.5 L313.2,544.5 L315.3,545.1 L317.4,545.7 L319.4,546.8 L321.5,546.9 L323.6,547.9 L325.6,548.3 L327.7,549.4 L329.8,550.1 L331.9,550.6 L333.9,550.7 L336.0,551.4 L338.1,551.1 L340.1,551.5 L342.2,550.5 L344.3,550.2 L346.4,549.9 L348.4,549.3 L350.5,549.1 L352.6,548.6 L354.7,547.9 L356.7,548.1 L358.8,547.7 L360.9,547.6 L363.0,547.4 L365.0,547.5 L367.1,547.3 L369.2,546.9 L371.3,546.9 L373.3,546.0 L375.4,545.5 L377.4,545.6 L379.4,544.7 L381.4,543.6 L383.4,543.0 L385.4,541.4 L387.4,541.6 L389.4,541.5 L391.4,539.8 L393.4,540.1 L395.4,539.9 L397.4,538.3 L399.6,537.1 L401.8,535.3 L404.0,533.3 L406.2,532.2 L408.4,530.6 L410.6,529.8 L412.8,528.2 L415.0,525.5 L417.1,521.9 L419.3,517.4 L421.5,515.9 L423.7,515.9 L425.9,514.9 L428.1,513.1 L430.2,512.7 L432.4,512.5 L434.6,511.7 L436.8,511.3 L439.0,510.3 L441.2,509.6 L443.3,509.5 L445.4,508.8 L447.5,507.7 L449.5,508.2 L451.6,509.2 L453.7,509.0 L455.8,508.1 L457.9,507.8 L460.0,507.7 L462.1,508.4 L464.1,507.9 L466.2,507.5 L468.3,507.7 L470.4,507.0 L472.5,507.0 L474.6,506.2 L476.7,505.5 L478.7,505.3 L480.8,505.7 L482.9,505.2 L485.0,504.7 L487.0,503.7 L489.1,503.9 L491.1,503.9 L493.1,504.3 L495.1,504.9 L497.2,505.0 L499.2,505.3 L501.2,505.2 L503.2,505.3 L505.3,505.1 L507.3,505.0 L509.3,505.3 L511.3,505.2 L513.4,504.9 L515.4,505.1 L517.4,506.0 L519.5,506.3 L521.5,505.4 L523.5,505.3 L525.5,504.4 L527.6,504.0 L529.6,503.7 L531.6,505.3 L533.6,504.8 L535.7,504.3 L537.7,503.0 L539.7,504.1 L541.7,504.4 L543.8,503.8 L545.8,503.6 L547.9,502.6 L550.0,504.0 L552.1,503.6 L554.1,502.8 L556.2,501.9 L558.3,500.5 L560.4,500.5 L562.5,499.9 L564.6,500.3 L566.7,499.3 L568.7,499.5 L570.8,500.4 L572.9,500.5 L575.0,499.7 L577.1,499.2 L579.2,499.4 L581.3,499.0 L583.3,497.8 L585.4,497.3 L587.5,497.1 L589.6,496.7 L591.7,496.8 L593.7,497.5 L595.8,497.4 L597.8,498.2 L599.9,497.8 L601.9,497.4 L604.0,496.7 L606.0,496.8 L608.1,496.2 L610.2,495.5 L612.2,496.1 L614.3,496.4 L616.3,496.5 L618.4,496.7 L620.4,496.0 L622.5,495.3 L624.6,495.3 L626.6,494.9 L628.7,494.3 L630.7,493.6 L632.8,492.8 L634.8,492.5 L636.9,492.0 L639.0,491.9 L641.0,492.4 L643.1,491.9 L645.1,492.2 L647.2,491.8 L649.2,491.2 L651.3,490.1 L653.3,490.8 L655.4,490.3 L657.5,491.0 L659.6,490.7 L661.7,491.4 L663.8,491.5 L665.9,489.9 L667.9,490.8 L670.0,490.5 L672.1,490.2 L674.2,490.4 L676.3,491.0 L678.4,491.0 L680.5,490.9 L682.6,489.9 L684.7,489.8 L686.8,489.4 L688.8,489.8 L690.9,489.9 L693.0,489.4 L695.1,490.1 L697.2,491.0 L699.3,491.6 L701.4,491.2 L703.5,491.2 L705.6,491.3 L707.7,492.3 L709.8,492.4 L711.8,492.2 L713.9,491.9 L716.0,492.4 L718.1,492.4 L720.2,492.2 L722.3,492.6 L724.4,491.9 L726.5,492.5 L728.6,494.0 L730.7,493.4 L732.7,493.0 L734.8,492.9 L736.9,492.6 L739.0,492.5 L741.1,492.7 L743.2,492.8 L745.2,492.5 L747.3,492.3 L749.3,492.1 L751.4,492.1 L753.4,491.8 L755.5,492.7 L757.5,492.0 L759.6,492.8 L761.6,493.1 L763.6,493.1 L765.7,493.4 L767.7,494.1 L769.8,494.4 L771.8,494.3 L773.9,493.9 L775.9,493.6 L778.0,494.3 L780.0,494.2 L782.0,493.6 L784.0,492.8 L786.0,492.7 L788.0,492.5 L790.1,493.7 L792.1,494.0 L794.1,493.6 L796.1,494.0 L798.1,493.2 L800.1,494.0 L802.1,493.9 L804.1,493.3 L806.1,492.6 L808.2,493.3 L810.2,494.0 L812.2,494.9 L814.2,493.8 L816.2,494.3 L818.2,493.6 L820.2,493.6 L822.2,492.9 L824.2,493.0 L826.3,491.8 L828.3,491.9 L830.3,492.1 L832.3,492.4 L834.3,493.6 L836.3,494.4 L838.3,494.1 L840.3,493.3 L842.3,493.2 L844.4,493.1 L846.4,494.0 L848.4,494.8 L850.4,494.0 L852.4,494.5 L854.4,494.1 L856.4,493.4 L858.4,493.5 L860.4,493.7 L862.4,493.8 L864.5,493.7 L866.5,493.8 L868.5,494.2 L870.5,493.8 L872.5,493.3 L874.5,494.6 L876.5,495.0 L878.5,495.2 L880.5,493.9 L882.6,493.6 L884.6,493.8 L886.6,493.1 L888.6,494.1 L890.6,493.5 L892.6,493.8 L894.6,493.9 L896.6,493.4 L898.6,494.3 L900.7,493.5 L902.7,494.0 L904.7,493.7 L906.7,493.2 L908.7,493.9 L910.7,493.6 L912.7,494.0 L914.7,495.2 L916.7,495.1 L918.7,494.6 L920.8,494.9 L922.8,495.9 L924.8,496.2 L926.8,496.4 L928.8,496.5 L930.8,497.6 L932.8,497.2 L934.8,497.4 L936.8,498.2 L938.8,498.2 L940.8,498.9 L942.8,498.1 L944.9,497.6 L946.9,498.3 L948.9,497.9 L950.9,497.9 L952.9,498.3 L954.9,498.6 L956.9,498.4 L958.9,498.3 L960.9,499.9 L962.9,499.9 L964.9,499.9 L966.9,499.9 L968.9,500.2 L970.9,501.0 L973.0,501.0 L975.0,499.8 L977.0,499.1 L979.0,499.5 L981.0,499.9 L983.0,500.7 L985.0,500.6 L987.0,500.5 L989.0,500.8 L991.1,500.6 L993.1,500.0 L995.2,499.9 L997.2,499.4 L999.3,498.7 L1001.3,498.1 L1003.4,498.5 L1005.4,498.7 L1007.5,498.5 L1009.5,498.5 L1011.6,498.2 L1013.7,497.3 L1015.8,497.1 L1017.9,496.0 L1020.0,495.3 L1022.1,494.4 L1024.1,494.0 L1026.2,493.5 L1028.3,493.0 L1030.4,492.6 L1032.5,492.7 L1034.6,491.5 L1036.7,490.7 L1038.8,490.2 L1040.9,489.2 L1043.0,489.3 L1045.0,488.3 L1047.1,487.4 L1049.2,486.8 L1051.3,486.9 L1053.4,486.3 L1055.4,485.5 L1057.4,486.2 L1059.4,486.2 L1061.4,487.8 L1063.4,486.9 L1065.5,485.9 L1067.5,485.6 L1069.5,486.0 L1071.5,485.8 L1073.5,485.4 L1075.5,485.7 L1077.5,485.5 L1079.5,485.1 L1081.5,484.7 L1083.5,484.0 L1085.6,484.4 L1087.6,484.5 L1089.6,484.3 L1091.6,483.9 L1093.6,482.9 L1095.6,483.8 L1097.6,484.3 L1099.6,483.3 L1101.6,483.6 L1103.6,483.8 L1105.6,484.0 L1107.7,484.4 L1109.7,484.4 L1111.7,484.4 L1113.7,484.6 L1115.7,484.2 L1117.7,483.9 L1119.7,484.0 L1121.7,483.9 L1123.7,484.3 L1125.8,484.3 L1127.8,484.2 L1129.8,482.6 L1131.8,482.5 L1133.8,482.2 L1135.8,483.3 L1137.8,483.4 L1139.8,482.2 L1141.8,482.1 L1143.9,482.0 L1145.9,482.1 L1147.9,481.6 L1149.9,481.5 L1151.9,481.4 L1153.9,481.7 L1155.9,481.1 L1158.0,480.3 L1160.0,480.7 L1162.0,481.1 L1164.0,481.5 L1166.0,481.4 L1168.0,481.9 L1170.0,481.9 L1172.0,481.9 L1174.0,481.8 L1176.0,482.7 L1178.0,482.3 L1180.0,482.3 L1182.0,481.3 L1184.0,481.9 L1186.0,482.0 L1188.0,481.9 L1190.0,481.9 L1192.0,483.0 L1194.0,482.6 L1196.0,482.5 L1198.0,483.7 L1200.0,483.1 L1200.0,495.9 L1198.0,496.0 L1196.0,495.4 L1194.0,495.4 L1192.0,495.3 L1190.0,494.3 L1188.0,494.1 L1186.0,494.0 L1184.0,494.0 L1182.0,494.4 L1180.0,494.7 L1178.0,495.0 L1176.0,495.9 L1174.0,495.6 L1172.0,495.4 L1170.0,495.7 L1168.0,495.1 L1166.0,495.2 L1164.0,496.1 L1162.0,497.0 L1160.0,496.6 L1158.0,496.1 L1155.9,496.8 L1153.9,496.9 L1151.9,497.3 L1149.9,497.4 L1147.9,497.5 L1145.9,498.4 L1143.9,497.8 L1141.8,498.4 L1139.8,498.2 L1137.8,499.3 L1135.8,499.5 L1133.8,498.9 L1131.8,498.9 L1129.8,498.3 L1127.8,499.6 L1125.8,498.6 L1123.7,498.3 L1121.7,498.5 L1119.7,498.5 L1117.7,498.9 L1115.7,498.8 L1113.7,499.6 L1111.7,499.9 L1109.7,499.9 L1107.7,499.6 L1105.6,499.7 L1103.6,499.4 L1101.6,500.5 L1099.6,500.5 L1097.6,500.8 L1095.6,501.3 L1093.6,501.1 L1091.6,501.8 L1089.6,502.5 L1087.6,502.7 L1085.6,502.4 L1083.5,501.8 L1081.5,502.1 L1079.5,502.3 L1077.5,502.0 L1075.5,503.1 L1073.5,503.6 L1071.5,503.5 L1069.5,504.2 L1067.5,503.8 L1065.5,504.1 L1063.4,504.5 L1061.4,504.9 L1059.4,504.3 L1057.4,504.4 L1055.4,503.2 L1053.4,503.3 L1051.3,503.8 L1049.2,503.8 L1047.1,505.6 L1045.0,505.7 L1043.0,506.2 L1040.9,506.8 L1038.8,507.9 L1036.7,507.7 L1034.6,508.8 L1032.5,509.8 L1030.4,509.9 L1028.3,510.2 L1026.2,510.8 L1024.1,512.0 L1022.1,511.8 L1020.0,512.5 L1017.9,513.1 L1015.8,514.4 L1013.7,515.1 L1011.6,515.9 L1009.5,516.2 L1007.5,516.7 L1005.4,516.9 L1003.4,516.7 L1001.3,516.3 L999.3,516.9 L997.2,517.4 L995.2,518.1 L993.1,518.1 L991.1,517.9 L989.0,518.3 L987.0,518.7 L985.0,518.8 L983.0,518.5 L981.0,518.1 L979.0,517.6 L977.0,517.1 L975.0,516.6 L973.0,517.3 L970.9,516.8 L968.9,517.2 L966.9,517.0 L964.9,515.8 L962.9,515.8 L960.9,516.5 L958.9,515.7 L956.9,515.0 L954.9,514.8 L952.9,514.7 L950.9,514.3 L948.9,513.8 L946.9,513.8 L944.9,512.7 L942.8,512.9 L940.8,512.0 L938.8,511.0 L936.8,510.4 L934.8,510.4 L932.8,509.9 L930.8,509.7 L928.8,510.6 L926.8,511.0 L924.8,511.6 L922.8,511.0 L920.8,509.9 L918.7,509.0 L916.7,509.8 L914.7,508.3 L912.7,507.9 L910.7,507.8 L908.7,508.0 L906.7,507.8 L904.7,508.2 L902.7,509.1 L900.7,508.5 L898.6,508.4 L896.6,508.4 L894.6,507.8 L892.6,508.1 L890.6,508.1 L888.6,508.0 L886.6,507.7 L884.6,508.1 L882.6,507.4 L880.5,507.0 L878.5,507.2 L876.5,507.4 L874.5,507.7 L872.5,507.4 L870.5,507.4 L868.5,507.5 L866.5,507.6 L864.5,507.9 L862.4,507.5 L860.4,507.3 L858.4,507.4 L856.4,507.6 L854.4,508.6 L852.4,508.1 L850.4,507.8 L848.4,508.0 L846.4,508.7 L844.4,507.6 L842.3,508.0 L840.3,508.0 L838.3,509.1 L836.3,510.3 L834.3,509.4 L832.3,508.5 L830.3,507.6 L828.3,508.0 L826.3,508.2 L824.2,508.3 L822.2,508.4 L820.2,508.0 L818.2,508.3 L816.2,508.1 L814.2,507.6 L812.2,507.9 L810.2,507.6 L808.2,506.9 L806.1,507.7 L804.1,508.0 L802.1,509.1 L800.1,508.7 L798.1,508.9 L796.1,509.0 L794.1,508.1 L792.1,508.0 L790.1,507.8 L788.0,507.2 L786.0,507.5 L784.0,507.6 L782.0,507.5 L780.0,507.8 L778.0,508.1 L775.9,507.8 L773.9,507.3 L771.8,507.4 L769.8,507.4 L767.7,507.7 L765.7,507.2 L763.6,506.7 L761.6,506.5 L759.6,506.7 L757.5,506.7 L755.5,507.7 L753.4,507.1 L751.4,507.0 L749.3,507.3 L747.3,507.4 L745.2,507.8 L743.2,507.2 L741.1,506.8 L739.0,507.3 L736.9,506.7 L734.8,506.2 L732.7,506.1 L730.7,505.7 L728.6,504.7 L726.5,504.1 L724.4,504.4 L722.3,504.4 L720.2,504.9 L718.1,504.8 L716.0,504.5 L713.9,504.8 L711.8,504.4 L709.8,504.5 L707.7,503.8 L705.6,502.6 L703.5,502.8 L701.4,503.1 L699.3,503.4 L697.2,503.1 L695.1,503.5 L693.0,503.6 L690.9,503.5 L688.8,502.3 L686.8,501.8 L684.7,502.9 L682.6,502.9 L680.5,503.6 L678.4,502.9 L676.3,502.1 L674.2,501.7 L672.1,501.7 L670.0,501.8 L667.9,501.9 L665.9,501.7 L663.8,502.2 L661.7,502.1 L659.6,502.1 L657.5,501.7 L655.4,501.1 L653.3,501.3 L651.3,501.3 L649.2,502.2 L647.2,503.3 L645.1,502.6 L643.1,503.1 L641.0,503.1 L639.0,502.6 L636.9,503.0 L634.8,502.2 L632.8,501.3 L630.7,501.4 L628.7,502.1 L626.6,502.7 L624.6,503.1 L622.5,503.4 L620.4,504.2 L618.4,504.5 L616.3,504.4 L614.3,504.5 L612.2,503.9 L610.2,503.3 L608.1,504.0 L606.0,504.8 L604.0,505.2 L601.9,505.9 L599.9,506.5 L597.8,507.3 L595.8,507.1 L593.7,507.0 L591.7,506.5 L589.6,507.0 L587.5,507.8 L585.4,508.5 L583.3,509.2 L581.3,509.7 L579.2,509.3 L577.1,509.1 L575.0,510.4 L572.9,511.8 L570.8,511.2 L568.7,511.1 L566.7,511.9 L564.6,513.2 L562.5,513.1 L560.4,514.1 L558.3,514.5 L556.2,515.9 L554.1,516.5 L552.1,516.8 L550.0,516.9 L547.9,515.7 L545.8,516.2 L543.8,515.5 L541.7,516.2 L539.7,516.2 L537.7,515.3 L535.7,515.9 L533.6,516.4 L531.6,516.3 L529.6,516.0 L527.6,515.2 L525.5,514.2 L523.5,514.2 L521.5,514.8 L519.5,514.5 L517.4,513.8 L515.4,512.9 L513.4,514.0 L511.3,513.9 L509.3,514.4 L507.3,514.1 L505.3,513.5 L503.2,513.2 L501.2,513.5 L499.2,513.4 L497.2,512.8 L495.1,513.0 L493.1,512.6 L491.1,512.9 L489.1,512.9 L487.0,513.2 L485.0,514.1 L482.9,514.3 L480.8,514.3 L478.7,514.3 L476.7,514.0 L474.6,514.4 L472.5,515.5 L470.4,514.8 L468.3,515.5 L466.2,515.3 L464.1,516.0 L462.1,516.2 L460.0,515.5 L457.9,515.6 L455.8,516.2 L453.7,517.2 L451.6,517.3 L449.5,516.7 L447.5,516.3 L445.4,517.7 L443.3,517.8 L441.2,517.9 L439.0,518.4 L436.8,520.2 L434.6,520.2 L432.4,520.3 L430.2,520.8 L428.1,522.2 L425.9,523.7 L423.7,525.0 L421.5,526.0 L419.3,527.5 L417.1,531.9 L415.0,535.5 L412.8,537.8 L410.6,538.7 L408.4,539.8 L406.2,540.7 L404.0,542.4 L401.8,544.2 L399.6,545.8 L397.4,547.0 L395.4,548.2 L393.4,548.7 L391.4,548.5 L389.4,549.8 L387.4,551.0 L385.4,552.3 L383.4,552.6 L381.4,551.8 L379.4,553.1 L377.4,554.7 L375.4,555.1 L373.3,555.3 L371.3,555.5 L369.2,556.1 L367.1,556.3 L365.0,556.4 L363.0,556.9 L360.9,556.0 L358.8,555.7 L356.7,555.9 L354.7,557.4 L352.6,557.9 L350.5,558.1 L348.4,558.6 L346.4,558.8 L344.3,559.0 L342.2,559.1 L340.1,559.7 L338.1,559.7 L336.0,559.3 L333.9,558.5 L331.9,558.4 L329.8,558.1 L327.7,557.5 L325.6,556.7 L323.6,556.2 L321.5,555.3 L319.4,555.1 L317.4,554.3 L315.3,554.0 L313.2,552.9 L311.1,552.6 L309.1,551.1 L307.0,550.9 L304.9,549.9 L302.8,550.1 L300.8,549.7 L298.7,549.0 L296.7,548.1 L294.7,547.5 L292.6,547.2 L290.6,547.1 L288.6,546.4 L286.6,546.8 L284.5,544.5 L282.5,543.3 L280.5,542.9 L278.5,542.0 L276.4,542.1 L274.4,541.2 L272.4,540.7 L270.4,538.2 L268.3,536.5 L266.3,533.7 L264.3,531.0 L262.2,528.3 L260.2,525.6 L258.2,522.9 L256.1,520.1 L254.1,517.9 L252.1,514.4 L250.0,512.6 L248.0,511.4 L246.0,511.3 L244.0,510.0 L242.0,509.9 L240.0,509.7 L238.0,509.5 L236.0,509.1 L234.0,508.5 L232.0,507.8 L230.0,508.4 L228.0,509.1 L226.0,508.4 L224.0,507.8 L222.0,508.1 L220.0,508.3 L218.0,509.0 L216.0,508.6 L214.0,508.3 Z" fill="#efd88a" fill-opacity="0.5"/>
<path d="M214.0,495.0 L216.0,495.4 L218.0,494.7 L220.0,494.6 L222.0,493.5 L224.0,493.2 L226.0,492.9 L228.0,493.4 L230.0,492.6 L232.0,492.6 L234.0,492.4 L236.8,489.9 L239.5,488.7 L241.7,489.1 L243.8,490.4 L246.0,491.3 L248.2,490.2 L250.4,488.8 L252.6,487.9 L254.8,485.3 L257.0,483.3 L259.2,481.4 L261.4,479.3 L263.6,477.5 L265.8,476.8 L267.9,478.0 L269.9,479.4 L272.0,479.8 L274.0,480.1 L276.1,481.1 L278.1,482.2 L280.2,482.6 L282.2,483.5 L284.3,484.8 L286.4,485.9 L288.4,486.7 L290.5,487.2 L292.5,487.7 L294.6,488.7 L296.6,488.9 L298.7,489.9 L300.8,489.8 L302.8,490.3 L304.9,491.0 L306.9,491.0 L309.0,492.0 L311.0,491.4 L313.1,492.3 L315.1,492.7 L317.2,492.4 L319.3,492.3 L321.3,494.2 L323.4,494.8 L325.4,494.7 L327.5,494.8 L329.5,495.1 L331.6,495.8 L333.7,496.9 L335.7,498.0 L337.8,500.1 L339.8,501.8 L341.9,503.2 L343.9,504.7 L346.0,506.5 L348.1,508.0 L350.1,508.8 L352.2,509.6 L354.2,511.0 L356.3,512.8 L358.3,514.0 L360.4,515.2 L362.4,516.5 L364.5,517.1 L366.7,517.3 L368.9,516.8 L371.1,515.3 L373.3,514.6 L375.4,513.2 L377.6,512.3 L379.8,512.4 L382.0,511.2 L384.2,510.4 L386.4,509.5 L388.4,508.1 L390.5,507.7 L392.5,507.2 L394.6,505.7 L396.6,504.3 L398.7,503.9 L400.7,502.8 L402.7,501.7 L404.8,502.2 L406.8,501.0 L408.9,500.5 L410.9,499.5 L413.0,499.4 L415.0,499.0 L417.0,498.8 L419.0,499.2 L421.0,499.2 L423.0,499.3 L425.0,498.8 L427.0,499.4 L429.0,499.4 L431.0,499.1 L433.0,498.4 L435.0,498.2 L437.0,498.8 L439.0,498.6 L441.0,499.8 L443.1,499.3 L445.1,498.5 L447.2,498.3 L449.2,498.7 L451.3,499.0 L453.3,498.7 L455.4,498.1 L457.4,497.7 L459.5,497.6 L461.5,497.4 L463.6,497.0 L465.6,496.6 L467.7,496.9 L469.7,496.5 L471.8,496.7 L473.8,496.9 L475.9,498.2 L477.9,497.9 L480.0,497.2 L482.1,497.3 L484.2,496.7 L486.3,496.7 L488.4,497.3 L490.5,497.1 L492.5,496.9 L494.6,497.0 L496.7,497.2 L498.8,497.8 L500.9,497.7 L503.0,496.9 L505.1,496.6 L507.2,496.5 L509.3,496.8 L511.4,497.0 L513.4,496.9 L515.5,496.7 L517.6,496.1 L519.7,496.2 L521.8,496.8 L523.9,497.3 L526.0,496.9 L528.1,496.9 L530.2,496.9 L532.2,496.9 L534.3,497.6 L536.4,497.5 L538.5,497.2 L540.6,495.9 L542.7,494.9 L544.8,495.3 L546.8,495.5 L548.9,495.3 L551.0,494.1 L553.1,494.2 L555.2,494.1 L557.3,494.3 L559.4,494.5 L561.4,494.4 L563.5,494.2 L565.6,493.4 L567.7,492.3 L569.8,491.5 L571.9,490.6 L574.0,490.6 L576.1,490.4 L578.2,490.3 L580.2,490.6 L582.3,490.6 L584.4,490.3 L586.5,489.5 L588.6,488.7 L590.7,488.5 L592.8,488.6 L594.9,488.0 L597.0,488.5 L599.1,487.6 L601.1,487.4 L603.2,486.5 L605.3,485.9 L607.4,486.2 L609.5,485.8 L611.6,486.0 L613.8,485.5 L616.0,485.6 L618.2,485.1 L620.4,485.1 L622.5,485.4 L624.7,486.0 L626.9,485.2 L629.1,485.0 L631.3,485.3 L633.5,484.9 L635.6,484.9 L637.7,484.8 L639.8,484.8 L641.9,484.4 L644.0,484.6 L646.0,484.2 L648.1,483.3 L650.2,483.6 L652.3,482.6 L654.4,482.1 L656.5,482.7 L658.6,481.9 L660.7,481.5 L662.8,481.3 L664.9,481.6 L666.9,480.5 L669.0,480.2 L671.1,481.1 L673.2,480.9 L675.3,481.1 L677.4,480.9 L679.6,479.7 L681.8,479.1 L684.0,479.6 L686.2,479.2 L688.3,478.3 L690.5,476.9 L692.7,476.5 L694.9,476.7 L697.1,476.2 L699.3,476.0 L701.5,475.3 L703.7,475.6 L705.9,476.4 L708.1,477.2 L710.2,476.5 L712.4,477.3 L714.6,477.2 L716.8,477.8 L719.0,478.3 L721.2,479.2 L723.3,479.3 L725.3,480.7 L727.4,481.7 L729.4,482.0 L731.5,483.0 L733.5,483.8 L735.6,485.1 L737.7,485.2 L739.7,486.9 L741.8,487.4 L743.8,489.0 L745.9,489.6 L747.9,491.2 L750.0,491.3 L752.0,491.7 L754.1,491.8 L756.7,490.5 L759.4,487.5 L762.0,488.4 L763.5,493.6 L765.6,495.7 L767.6,493.4 L769.7,492.9 L771.7,492.2 L773.8,491.6 L775.8,490.5 L777.9,489.3 L779.9,489.1 L782.0,488.3 L784.0,487.0 L786.1,486.4 L788.1,486.0 L790.2,485.0 L790.3,487.5 L791.8,492.7 L793.9,494.5 L796.0,492.8 L798.1,491.6 L800.2,491.9 L802.3,490.7 L804.4,490.2 L806.5,489.4 L808.6,487.7 L810.7,487.8 L812.8,486.6 L814.9,485.5 L817.0,484.6 L819.1,484.7 L819.2,487.7 L820.7,492.8 L822.8,494.7 L824.9,493.9 L827.0,493.4 L829.1,492.3 L831.2,491.9 L833.3,491.8 L835.5,490.6 L837.6,489.3 L839.7,487.6 L841.8,486.7 L843.9,485.7 L846.0,485.2 L848.1,485.4 L848.2,487.3 L849.7,491.8 L851.8,493.6 L853.9,492.7 L856.0,491.4 L858.1,490.6 L860.2,490.9 L862.3,489.6 L864.4,488.4 L866.5,487.9 L868.6,486.9 L870.7,485.6 L872.8,485.6 L874.9,484.2 L877.0,483.2 L877.1,486.1 L878.6,491.5 L880.7,493.6 L882.8,492.8 L884.9,492.2 L887.0,490.9 L889.1,489.4 L891.2,487.9 L893.3,487.6 L895.4,487.5 L897.5,487.0 L899.6,486.5 L901.7,486.4 L903.8,485.3 L905.9,484.7 L906.0,486.8 L907.5,492.2 L909.5,494.4 L911.6,493.4 L913.6,492.3 L915.6,491.3 L917.7,490.2 L919.7,489.5 L921.7,488.6 L923.7,487.8 L925.8,486.6 L927.8,486.1 L929.8,485.0 L931.9,484.2 L933.9,484.3 L936.1,484.7 L938.3,484.5 L940.5,484.0 L942.7,484.5 L944.9,484.9 L947.1,484.8 L949.3,484.5 L951.5,484.7 L953.7,483.9 L955.9,481.1 L958.0,476.2 L960.2,472.3 L962.3,467.8 L964.5,464.2 L966.6,461.5 L968.7,460.7 L970.9,459.9 L973.0,460.6 L975.1,461.7 L977.3,461.4 L979.4,462.7 L981.4,464.1 L983.4,465.5 L985.4,467.1 L987.5,468.4 L989.5,470.2 L991.5,473.5 L993.5,475.2 L995.5,477.3 L997.5,478.6 L999.5,480.3 L1001.5,481.8 L1003.5,483.1 L1005.6,485.7 L1007.6,487.7 L1009.6,489.7 L1011.6,491.0 L1013.7,492.5 L1015.9,493.2 L1018.0,494.5 L1020.2,494.7 L1022.3,495.5 L1024.5,496.8 L1026.6,497.6 L1028.7,499.4 L1030.9,500.1 L1033.0,501.3 L1035.2,502.0 L1037.3,502.8 L1039.3,503.3 L1041.3,502.9 L1043.3,502.4 L1045.3,502.3 L1047.3,502.6 L1049.4,502.2 L1051.4,501.2 L1053.4,501.5 L1055.4,501.1 L1057.4,501.6 L1059.4,501.4 L1061.4,501.3 L1063.4,501.2 L1065.4,500.9 L1067.4,500.4 L1069.4,499.7 L1071.5,499.2 L1073.5,499.5 L1075.5,498.9 L1077.5,498.4 L1079.5,498.5 L1081.5,498.8 L1083.5,498.6 L1085.5,497.8 L1087.5,498.1 L1089.5,498.6 L1091.6,498.1 L1093.6,497.4 L1095.6,497.1 L1097.6,497.1 L1099.6,497.4 L1101.6,496.9 L1103.6,496.6 L1105.6,497.0 L1107.6,496.9 L1109.6,496.6 L1111.7,496.9 L1113.7,497.4 L1115.7,496.8 L1117.7,497.3 L1119.7,497.0 L1121.7,497.3 L1123.7,496.7 L1125.8,496.2 L1127.8,496.2 L1129.8,496.1 L1131.8,496.6 L1133.8,496.0 L1135.8,495.6 L1137.8,495.3 L1139.8,495.0 L1141.8,495.5 L1143.9,496.7 L1145.9,496.1 L1147.9,495.8 L1149.9,495.8 L1151.9,496.0 L1153.9,495.2 L1155.9,494.3 L1158.0,493.6 L1160.0,494.4 L1162.0,494.2 L1164.0,493.9 L1166.0,494.9 L1168.0,495.6 L1170.0,495.3 L1172.0,495.6 L1174.0,494.2 L1176.0,493.8 L1178.0,492.8 L1180.0,492.3 L1182.0,493.1 L1184.0,492.4 L1186.0,492.5 L1188.0,491.6 L1190.0,492.1 L1192.0,493.4 L1194.0,493.1 L1196.0,493.8 L1198.0,493.5 L1200.0,493.9 L1200.0,505.6 L1198.0,505.5 L1196.0,505.8 L1194.0,505.3 L1192.0,505.8 L1190.0,506.3 L1188.0,505.6 L1186.0,505.7 L1184.0,505.3 L1182.0,506.3 L1180.0,505.2 L1178.0,504.6 L1176.0,504.2 L1174.0,504.3 L1172.0,504.9 L1170.0,504.9 L1168.0,504.5 L1166.0,504.6 L1164.0,504.7 L1162.0,504.0 L1160.0,504.8 L1158.0,503.9 L1155.9,503.9 L1153.9,503.5 L1151.9,504.2 L1149.9,504.5 L1147.9,504.3 L1145.9,504.9 L1143.9,505.4 L1141.8,505.3 L1139.8,505.0 L1137.8,506.4 L1135.8,507.0 L1133.8,507.6 L1131.8,507.0 L1129.8,507.3 L1127.8,506.9 L1125.8,506.5 L1123.7,506.8 L1121.7,507.5 L1119.7,507.8 L1117.7,506.9 L1115.7,506.7 L1113.7,507.2 L1111.7,507.4 L1109.6,507.7 L1107.6,509.3 L1105.6,509.4 L1103.6,509.7 L1101.6,508.7 L1099.6,509.2 L1097.6,509.8 L1095.6,509.3 L1093.6,510.1 L1091.6,510.6 L1089.5,511.1 L1087.5,510.8 L1085.5,510.5 L1083.5,510.9 L1081.5,510.9 L1079.5,511.5 L1077.5,511.1 L1075.5,510.9 L1073.5,512.0 L1071.5,512.2 L1069.4,511.9 L1067.4,512.7 L1065.4,513.2 L1063.4,512.8 L1061.4,512.9 L1059.4,513.7 L1057.4,513.8 L1055.4,514.7 L1053.4,514.4 L1051.4,514.6 L1049.4,515.1 L1047.3,514.7 L1045.3,514.6 L1043.3,514.2 L1041.3,514.9 L1039.3,515.5 L1037.3,515.5 L1035.2,514.7 L1033.0,513.7 L1030.9,512.6 L1028.7,512.0 L1026.6,512.0 L1024.5,511.4 L1022.3,509.8 L1020.2,509.5 L1018.0,508.2 L1015.9,507.1 L1013.7,506.1 L1011.6,504.4 L1009.6,503.6 L1007.6,501.3 L1005.6,499.9 L1003.5,497.8 L1001.5,495.9 L999.5,494.0 L997.5,492.5 L995.5,491.0 L993.5,489.8 L991.5,488.4 L989.5,485.6 L987.5,483.6 L985.4,481.9 L983.4,480.3 L981.4,478.3 L979.4,476.9 L977.3,475.9 L975.1,476.2 L973.0,476.0 L970.9,475.3 L968.7,476.1 L966.6,476.9 L964.5,479.6 L962.3,483.0 L960.2,487.1 L958.0,490.8 L955.9,495.4 L953.7,498.7 L951.5,499.6 L949.3,499.3 L947.1,499.5 L944.9,498.2 L942.7,497.4 L940.5,497.4 L938.3,497.5 L936.1,497.5 L933.9,497.9 L931.9,499.4 L929.8,499.7 L927.8,501.0 L925.8,502.0 L923.7,503.1 L921.7,503.7 L919.7,504.9 L917.7,504.9 L915.6,505.1 L913.6,506.5 L911.6,507.4 L909.5,508.4 L907.5,506.2 L906.0,500.6 L905.9,499.2 L903.8,499.7 L901.7,501.1 L899.6,501.9 L897.5,502.4 L895.4,502.9 L893.3,502.9 L891.2,503.3 L889.1,504.7 L887.0,506.3 L884.9,507.6 L882.8,508.2 L880.7,508.6 L878.6,506.7 L877.1,501.1 L877.0,498.4 L874.9,499.6 L872.8,500.4 L870.7,501.0 L868.6,502.3 L866.5,503.3 L864.4,503.7 L862.3,505.0 L860.2,506.3 L858.1,506.0 L856.0,506.8 L853.9,507.0 L851.8,508.6 L849.7,507.2 L848.2,501.4 L848.1,498.2 L846.0,497.8 L843.9,498.4 L841.8,499.1 L839.7,499.8 L837.6,501.7 L835.5,502.9 L833.3,503.4 L831.2,503.4 L829.1,504.9 L827.0,506.6 L824.9,507.9 L822.8,508.3 L820.7,506.8 L819.2,500.8 L819.1,498.4 L817.0,499.3 L814.9,499.9 L812.8,500.8 L810.7,502.3 L808.6,503.1 L806.5,503.3 L804.4,503.7 L802.3,504.6 L800.2,504.9 L798.1,506.1 L796.0,506.9 L793.9,508.6 L791.8,506.2 L790.3,500.2 L790.2,498.4 L788.1,499.2 L786.1,500.5 L784.0,501.2 L782.0,502.0 L779.9,503.0 L777.9,502.8 L775.8,503.9 L773.8,503.7 L771.7,504.3 L769.7,504.3 L767.6,504.9 L765.6,506.3 L763.5,504.1 L762.0,499.4 L759.4,498.4 L756.7,500.8 L754.1,502.1 L752.0,501.7 L750.0,501.1 L747.9,499.8 L745.9,498.0 L743.8,498.1 L741.8,496.7 L739.7,496.4 L737.7,495.1 L735.6,494.3 L733.5,493.0 L731.5,492.2 L729.4,490.1 L727.4,489.4 L725.3,488.6 L723.3,487.8 L721.2,487.3 L719.0,488.0 L716.8,487.1 L714.6,486.5 L712.4,486.3 L710.2,486.7 L708.1,487.3 L705.9,486.5 L703.7,486.6 L701.5,487.1 L699.3,487.3 L697.1,487.5 L694.9,487.8 L692.7,488.8 L690.5,488.2 L688.3,489.5 L686.2,490.0 L684.0,490.6 L681.8,491.7 L679.6,492.4 L677.4,493.3 L675.3,494.1 L673.2,494.5 L671.1,495.2 L669.0,495.1 L666.9,495.3 L664.9,495.6 L662.8,496.5 L660.7,495.8 L658.6,496.6 L656.5,496.2 L654.4,496.1 L652.3,495.1 L650.2,495.3 L648.1,495.5 L646.0,496.0 L644.0,496.1 L641.9,496.0 L639.8,495.7 L637.7,495.6 L635.6,496.5 L633.5,496.4 L631.3,497.1 L629.1,497.3 L626.9,497.7 L624.7,498.5 L622.5,498.3 L620.4,498.1 L618.2,498.7 L616.0,499.3 L613.8,499.5 L611.6,500.1 L609.5,500.1 L607.4,501.3 L605.3,500.4 L603.2,501.1 L601.1,501.1 L599.1,501.1 L597.0,501.2 L594.9,501.0 L592.8,501.7 L590.7,501.7 L588.6,501.8 L586.5,502.6 L584.4,502.9 L582.3,503.3 L580.2,503.6 L578.2,503.4 L576.1,503.4 L574.0,503.8 L571.9,503.9 L569.8,503.8 L567.7,503.6 L565.6,503.2 L563.5,503.8 L561.4,504.3 L559.4,504.8 L557.3,504.9 L555.2,504.1 L553.1,503.5 L551.0,503.9 L548.9,504.6 L546.8,504.7 L544.8,503.7 L542.7,503.9 L540.6,504.4 L538.5,504.5 L536.4,505.2 L534.3,505.2 L532.2,505.7 L530.2,506.4 L528.1,507.1 L526.0,507.2 L523.9,508.1 L521.8,508.2 L519.7,508.5 L517.6,507.7 L515.5,508.5 L513.4,508.5 L511.4,507.8 L509.3,507.7 L507.2,507.0 L505.1,507.1 L503.0,506.9 L500.9,507.3 L498.8,506.9 L496.7,506.4 L494.6,506.4 L492.5,506.7 L490.5,506.7 L488.4,507.0 L486.3,506.8 L484.2,506.9 L482.1,506.4 L480.0,506.5 L477.9,507.5 L475.9,506.9 L473.8,506.2 L471.8,506.2 L469.7,506.8 L467.7,506.1 L465.6,506.6 L463.6,506.9 L461.5,507.4 L459.5,507.9 L457.4,507.3 L455.4,507.4 L453.3,508.5 L451.3,508.7 L449.2,508.7 L447.2,508.1 L445.1,508.7 L443.1,508.5 L441.0,508.7 L439.0,507.7 L437.0,508.2 L435.0,508.3 L433.0,508.2 L431.0,508.1 L429.0,507.3 L427.0,507.7 L425.0,507.4 L423.0,507.8 L421.0,507.8 L419.0,508.1 L417.0,508.1 L415.0,507.8 L413.0,508.7 L410.9,510.4 L408.9,511.0 L406.8,512.3 L404.8,512.8 L402.7,513.0 L400.7,513.7 L398.7,513.8 L396.6,514.4 L394.6,516.2 L392.5,516.7 L390.5,517.3 L388.4,518.1 L386.4,519.6 L384.2,520.6 L382.0,520.9 L379.8,522.4 L377.6,522.9 L375.4,524.3 L373.3,525.3 L371.1,525.5 L368.9,527.7 L366.7,528.6 L364.5,529.0 L362.4,527.8 L360.4,526.3 L358.3,524.6 L356.3,523.2 L354.2,520.7 L352.2,519.0 L350.1,517.5 L348.1,515.9 L346.0,513.8 L343.9,512.8 L341.9,511.2 L339.8,510.8 L337.8,510.2 L335.7,508.8 L333.7,507.4 L331.6,506.9 L329.5,506.2 L327.5,506.0 L325.4,505.1 L323.4,504.3 L321.3,504.0 L319.3,503.2 L317.2,502.7 L315.1,502.8 L313.1,502.9 L311.0,503.3 L309.0,502.5 L306.9,502.0 L304.9,501.8 L302.8,500.9 L300.8,501.1 L298.7,501.5 L296.6,499.8 L294.6,498.7 L292.5,498.0 L290.5,497.5 L288.4,496.6 L286.4,495.5 L284.3,494.1 L282.2,493.4 L280.2,493.1 L278.1,492.8 L276.1,492.2 L274.0,491.1 L272.0,491.0 L269.9,490.4 L267.9,490.5 L265.8,490.1 L263.6,491.3 L261.4,493.2 L259.2,495.3 L257.0,497.3 L254.8,499.7 L252.6,501.4 L250.4,502.3 L248.2,503.9 L246.0,505.4 L243.8,505.8 L241.7,504.5 L239.5,503.4 L236.8,504.2 L234.0,505.7 L232.0,506.8 L230.0,506.5 L228.0,506.3 L226.0,506.3 L224.0,507.0 L222.0,507.1 L220.0,507.3 L218.0,505.9 L216.0,505.8 L214.0,505.6 Z" fill="#a9bccb" fill-opacity="0.45"/>
<path d="M214.0,497.2 L216.0,497.5 L218.0,497.3 L220.0,497.9 L222.0,498.7 L224.0,499.0 L226.0,499.4 L228.0,499.2 L230.0,499.0 L232.0,498.6 L234.0,498.3 L236.0,498.1 L238.0,498.0 L240.0,498.6 L242.0,498.9 L244.0,498.8 L246.0,498.9 L248.0,499.1 L250.0,499.2 L252.0,499.0 L254.0,498.6 L256.0,498.1 L258.0,498.2 L260.0,498.8 L262.0,498.7 L264.0,498.1 L266.0,497.9 L268.0,498.1 L270.0,497.7 L272.0,497.8 L274.0,497.6 L276.0,497.6 L278.0,497.5 L280.0,497.4 L282.0,497.6 L284.0,497.5 L286.0,497.1 L288.0,496.7 L290.0,496.6 L292.0,497.1 L294.0,497.5 L296.0,497.4 L298.0,497.3 L300.0,497.2 L302.0,496.8 L304.0,496.6 L306.0,496.4 L308.0,496.5 L310.0,496.5 L312.0,496.6 L314.0,496.3 L316.0,496.5 L318.0,496.7 L320.0,496.2 L322.0,496.3 L324.0,495.8 L326.0,495.9 L328.0,495.8 L330.0,496.3 L332.0,496.2 L334.0,496.4 L336.0,496.9 L338.0,497.1 L340.0,497.7 L342.0,497.8 L344.0,497.9 L346.0,498.7 L348.0,498.9 L350.0,498.8 L352.0,499.0 L354.0,499.0 L356.0,499.0 L358.0,499.2 L360.0,498.4 L362.0,498.3 L364.0,497.5 L366.0,497.4 L368.0,498.1 L370.0,498.2 L372.0,498.9 L374.0,498.5 L376.0,498.6 L378.0,499.0 L380.0,499.1 L382.0,499.2 L384.0,499.2 L386.0,498.9 L388.0,498.9 L390.0,498.6 L392.0,498.7 L394.0,498.7 L396.0,499.0 L398.0,499.0 L400.0,498.4 L402.0,498.7 L404.0,498.9 L406.0,498.9 L408.0,498.6 L410.0,499.2 L412.0,499.2 L414.0,498.6 L416.0,498.6 L418.0,498.9 L420.0,498.4 L422.0,498.2 L424.0,498.2 L426.0,497.8 L428.0,498.2 L430.0,498.3 L432.0,498.0 L434.0,497.5 L436.0,497.5 L438.0,497.8 L440.0,497.8 L442.0,498.7 L444.0,497.3 L446.0,497.2 L448.0,497.3 L450.0,497.3 L452.0,497.0 L454.0,497.1 L456.0,497.0 L458.0,497.4 L460.0,496.8 L462.0,497.2 L464.0,496.3 L466.0,496.4 L468.0,496.6 L470.0,496.7 L472.0,496.1 L474.0,496.5 L476.0,496.7 L478.0,497.0 L480.0,497.4 L482.0,497.5 L484.0,496.9 L486.0,497.3 L488.0,497.4 L490.0,496.9 L492.0,496.9 L494.0,497.3 L496.0,497.2 L498.0,496.9 L500.0,496.7 L502.0,497.1 L504.0,497.1 L506.0,497.3 L508.0,497.2 L510.0,497.3 L512.0,498.3 L514.0,498.9 L516.0,499.3 L518.0,499.1 L520.0,498.9 L522.0,498.7 L524.0,498.2 L526.0,498.8 L528.0,498.7 L530.0,498.8 L532.0,498.8 L534.0,498.5 L536.0,498.4 L538.0,498.3 L540.0,498.3 L542.0,498.5 L544.0,498.9 L546.0,499.2 L548.0,498.9 L550.0,498.5 L552.0,497.7 L554.0,496.9 L556.0,496.9 L558.0,496.4 L560.0,497.3 L562.0,497.5 L564.0,497.3 L566.0,497.1 L568.0,497.6 L570.0,497.6 L572.0,498.3 L574.0,498.4 L576.0,497.6 L578.0,497.7 L580.0,498.0 L582.0,497.9 L584.0,497.8 L586.0,498.0 L588.0,498.3 L590.0,498.5 L592.0,498.8 L594.0,498.7 L596.0,498.3 L598.0,498.4 L600.0,498.8 L602.0,498.7 L604.0,498.0 L606.0,497.8 L608.0,498.4 L610.0,498.5 L612.0,498.2 L614.0,498.2 L616.0,498.0 L618.0,498.0 L620.0,498.1 L622.0,498.4 L624.0,498.4 L626.0,498.6 L628.0,498.9 L630.0,499.1 L632.0,498.6 L634.0,498.2 L636.0,498.2 L638.0,498.3 L640.0,499.1 L642.0,499.2 L644.0,499.4 L646.0,499.0 L648.0,498.6 L650.0,498.7 L652.0,498.6 L654.0,498.9 L656.0,498.7 L658.0,498.7 L660.0,498.4 L662.0,497.7 L664.0,498.0 L666.0,498.1 L668.0,498.2 L670.0,498.4 L672.0,498.3 L674.0,498.1 L676.0,498.6 L678.0,498.6 L680.0,498.4 L682.0,498.4 L684.0,498.0 L686.0,497.9 L688.0,498.5 L690.0,498.2 L692.0,497.8 L694.0,497.9 L696.0,498.1 L698.0,497.6 L700.0,497.9 L702.0,498.3 L704.0,498.3 L706.0,498.5 L708.0,498.5 L710.0,499.0 L712.0,499.0 L714.0,498.8 L716.0,498.7 L718.0,498.5 L720.0,498.3 L722.0,497.7 L724.0,497.1 L726.0,498.0 L728.0,497.6 L730.0,497.9 L732.0,497.2 L734.0,496.9 L736.0,497.3 L738.0,497.0 L740.0,496.7 L742.0,496.3 L744.0,496.8 L746.0,496.4 L748.0,497.0 L750.0,497.2 L752.0,496.8 L754.0,496.9 L756.0,496.3 L758.0,496.2 L760.0,496.1 L762.0,495.9 L764.0,496.3 L766.0,496.8 L768.0,496.5 L770.0,496.7 L772.0,496.4 L774.0,496.7 L776.0,496.3 L778.0,496.5 L780.0,497.2 L782.0,497.1 L784.0,497.2 L786.0,496.7 L788.0,496.8 L790.0,496.6 L792.0,496.4 L794.0,496.6 L796.0,497.1 L798.0,497.0 L800.0,496.9 L802.0,497.1 L804.0,496.6 L806.0,496.7 L808.0,496.3 L810.0,496.2 L812.0,496.1 L814.0,496.1 L816.0,495.9 L818.0,496.1 L820.0,496.1 L822.0,496.2 L824.0,496.3 L826.0,495.8 L828.0,496.5 L830.0,496.7 L832.0,496.5 L834.0,496.1 L836.0,496.6 L838.0,497.1 L840.0,497.3 L842.0,497.4 L844.0,497.4 L846.0,497.8 L848.0,497.7 L850.0,498.0 L852.0,498.2 L854.0,498.9 L856.0,499.0 L858.0,498.5 L860.0,499.3 L862.0,499.0 L864.0,498.9 L866.0,498.8 L868.0,498.8 L870.0,498.8 L872.0,499.0 L874.0,498.9 L876.0,498.7 L878.0,498.2 L880.0,498.9 L882.0,498.9 L884.0,498.9 L886.0,498.8 L888.0,498.7 L890.0,498.7 L892.0,498.3 L894.0,497.8 L896.0,498.6 L898.0,498.1 L900.0,498.7 L902.0,498.2 L904.0,498.2 L906.0,497.9 L908.0,497.8 L910.0,498.0 L912.0,498.2 L914.0,498.0 L916.0,498.3 L918.0,498.4 L920.0,498.3 L922.0,497.8 L924.0,497.7 L926.0,497.8 L928.0,497.5 L930.0,497.4 L932.0,497.2 L934.0,498.2 L936.0,498.8 L938.0,498.7 L940.0,498.2 L942.0,498.7 L944.0,498.7 L946.0,498.5 L948.0,498.3 L950.0,497.8 L952.0,498.3 L954.0,498.4 L956.0,498.1 L958.0,498.2 L960.0,498.0 L962.2,496.8 L964.4,495.0 L966.6,492.7 L968.6,491.1 L970.7,489.7 L972.7,488.4 L974.7,486.2 L976.8,484.4 L978.8,483.0 L980.9,480.9 L982.9,479.5 L984.9,478.0 L987.0,476.3 L989.0,474.9 L991.0,474.1 L993.0,474.2 L995.0,473.8 L997.0,473.8 L999.1,473.1 L1001.1,472.6 L1003.1,472.3 L1005.1,471.8 L1007.1,470.9 L1009.1,470.5 L1011.1,470.9 L1013.2,470.6 L1015.2,470.5 L1017.2,469.9 L1019.2,469.6 L1021.2,469.3 L1023.4,469.7 L1025.5,470.7 L1027.7,470.9 L1029.8,471.3 L1032.0,471.2 L1034.1,471.3 L1036.2,471.5 L1038.4,472.3 L1040.5,472.9 L1042.7,473.0 L1044.8,473.1 L1047.0,473.5 L1049.0,474.4 L1051.1,475.6 L1053.1,476.3 L1055.2,478.1 L1057.2,479.2 L1059.3,480.0 L1061.3,481.2 L1063.4,482.0 L1065.4,483.1 L1067.5,484.8 L1069.5,485.1 L1071.5,486.0 L1073.5,486.7 L1075.5,487.3 L1077.5,487.9 L1079.5,488.8 L1081.5,488.8 L1083.5,489.1 L1085.5,490.1 L1087.6,490.3 L1089.6,490.6 L1091.6,491.2 L1093.6,491.0 L1095.6,491.7 L1097.6,492.1 L1099.6,492.5 L1101.6,493.2 L1103.6,493.8 L1105.6,494.1 L1107.6,493.8 L1109.6,494.2 L1111.7,494.7 L1113.7,494.8 L1115.7,495.2 L1117.7,494.9 L1119.7,494.2 L1121.7,494.2 L1123.7,493.8 L1125.8,493.8 L1127.8,494.0 L1129.8,494.3 L1131.8,494.3 L1133.8,494.6 L1135.8,495.2 L1137.8,495.2 L1139.8,495.5 L1141.9,495.1 L1143.9,495.2 L1145.9,495.1 L1147.9,495.1 L1149.9,494.9 L1151.9,495.0 L1153.9,494.8 L1155.9,495.1 L1157.9,495.2 L1159.9,495.3 L1161.9,495.1 L1163.9,495.4 L1165.9,495.2 L1167.9,495.0 L1169.9,495.0 L1171.9,495.1 L1173.9,495.0 L1176.0,494.7 L1178.0,494.5 L1180.0,494.3 L1182.0,494.2 L1184.0,493.7 L1186.0,494.0 L1188.0,494.0 L1190.0,493.8 L1192.0,493.4 L1194.0,493.6 L1196.0,494.1 L1198.0,494.4 L1200.0,493.9 L1200.0,502.8 L1198.0,503.2 L1196.0,503.1 L1194.0,502.6 L1192.0,503.0 L1190.0,502.8 L1188.0,502.5 L1186.0,502.7 L1184.0,503.0 L1182.0,503.1 L1180.0,503.0 L1178.0,502.4 L1176.0,502.3 L1173.9,502.3 L1171.9,502.4 L1169.9,501.9 L1167.9,501.5 L1165.9,501.9 L1163.9,501.9 L1161.9,502.2 L1159.9,502.0 L1157.9,501.8 L1155.9,501.5 L1153.9,501.7 L1151.9,501.4 L1149.9,501.3 L1147.9,501.4 L1145.9,501.0 L1143.9,501.0 L1141.9,500.5 L1139.8,499.8 L1137.8,500.5 L1135.8,500.4 L1133.8,500.5 L1131.8,500.9 L1129.8,500.7 L1127.8,501.6 L1125.8,501.3 L1123.7,500.9 L1121.7,500.7 L1119.7,499.7 L1117.7,499.5 L1115.7,499.4 L1113.7,499.1 L1111.7,499.5 L1109.6,498.9 L1107.6,499.6 L1105.6,499.2 L1103.6,498.6 L1101.6,498.7 L1099.6,499.1 L1097.6,498.4 L1095.6,498.2 L1093.6,497.6 L1091.6,497.2 L1089.6,496.5 L1087.6,496.1 L1085.5,495.5 L1083.5,495.0 L1081.5,494.5 L1079.5,493.8 L1077.5,493.6 L1075.5,493.2 L1073.5,493.0 L1071.5,492.7 L1069.5,491.9 L1067.5,490.7 L1065.4,489.8 L1063.4,488.2 L1061.3,486.8 L1059.3,485.6 L1057.2,484.6 L1055.2,483.2 L1053.1,481.9 L1051.1,480.3 L1049.0,478.7 L1047.0,477.7 L1044.8,477.3 L1042.7,477.2 L1040.5,477.1 L1038.4,476.5 L1036.2,475.9 L1034.1,475.5 L1032.0,475.4 L1029.8,475.7 L1027.7,475.3 L1025.5,475.0 L1023.4,474.7 L1021.2,474.8 L1019.2,475.4 L1017.2,475.5 L1015.2,475.7 L1013.2,476.0 L1011.1,476.0 L1009.1,477.1 L1007.1,477.5 L1005.1,478.0 L1003.1,478.2 L1001.1,478.3 L999.1,478.5 L997.0,478.1 L995.0,478.4 L993.0,478.8 L991.0,479.6 L989.0,480.0 L987.0,481.8 L984.9,483.8 L982.9,485.3 L980.9,487.0 L978.8,487.8 L976.8,490.0 L974.7,491.3 L972.7,492.6 L970.7,494.2 L968.6,495.8 L966.6,497.4 L964.4,499.3 L962.2,501.4 L960.0,503.4 L958.0,503.8 L956.0,504.2 L954.0,503.9 L952.0,503.6 L950.0,503.6 L948.0,503.4 L946.0,503.1 L944.0,502.9 L942.0,502.9 L940.0,502.8 L938.0,502.9 L936.0,503.5 L934.0,503.3 L932.0,503.7 L930.0,504.1 L928.0,504.4 L926.0,504.2 L924.0,503.8 L922.0,503.8 L920.0,504.2 L918.0,504.3 L916.0,504.0 L914.0,504.2 L912.0,504.1 L910.0,503.9 L908.0,504.2 L906.0,504.4 L904.0,504.0 L902.0,503.8 L900.0,503.9 L898.0,503.8 L896.0,503.4 L894.0,503.9 L892.0,502.9 L890.0,502.9 L888.0,502.9 L886.0,503.0 L884.0,503.1 L882.0,503.1 L880.0,503.4 L878.0,503.6 L876.0,503.3 L874.0,503.1 L872.0,503.2 L870.0,503.5 L868.0,503.3 L866.0,503.1 L864.0,503.3 L862.0,503.3 L860.0,503.5 L858.0,503.7 L856.0,503.9 L854.0,503.9 L852.0,504.0 L850.0,503.7 L848.0,504.1 L846.0,503.9 L844.0,504.0 L842.0,504.7 L840.0,504.8 L838.0,505.3 L836.0,505.4 L834.0,505.6 L832.0,505.2 L830.0,505.4 L828.0,505.8 L826.0,505.6 L824.0,506.1 L822.0,505.9 L820.0,505.9 L818.0,505.6 L816.0,505.7 L814.0,505.8 L812.0,505.9 L810.0,505.7 L808.0,505.8 L806.0,505.8 L804.0,506.0 L802.0,505.8 L800.0,505.7 L798.0,505.2 L796.0,505.6 L794.0,505.9 L792.0,506.2 L790.0,506.0 L788.0,506.0 L786.0,505.8 L784.0,505.3 L782.0,505.1 L780.0,505.0 L778.0,505.0 L776.0,505.7 L774.0,504.7 L772.0,505.5 L770.0,505.6 L768.0,505.4 L766.0,505.8 L764.0,506.1 L762.0,505.7 L760.0,505.9 L758.0,506.0 L756.0,506.1 L754.0,505.7 L752.0,505.5 L750.0,505.3 L748.0,505.0 L746.0,505.2 L744.0,504.8 L742.0,504.7 L740.0,505.1 L738.0,504.9 L736.0,505.0 L734.0,505.0 L732.0,504.6 L730.0,504.8 L728.0,505.5 L726.0,505.3 L724.0,504.9 L722.0,504.2 L720.0,503.8 L718.0,503.2 L716.0,503.3 L714.0,503.4 L712.0,503.2 L710.0,503.2 L708.0,503.3 L706.0,502.9 L704.0,503.7 L702.0,503.7 L700.0,503.8 L698.0,503.8 L696.0,504.0 L694.0,504.3 L692.0,504.4 L690.0,503.8 L688.0,503.9 L686.0,504.4 L684.0,504.0 L682.0,504.5 L680.0,504.6 L678.0,504.1 L676.0,504.1 L674.0,504.6 L672.0,504.6 L670.0,504.5 L668.0,504.1 L666.0,503.6 L664.0,503.6 L662.0,504.2 L660.0,504.0 L658.0,503.8 L656.0,503.6 L654.0,503.1 L652.0,503.2 L650.0,503.3 L648.0,503.3 L646.0,503.2 L644.0,503.7 L642.0,504.0 L640.0,503.6 L638.0,503.7 L636.0,503.9 L634.0,503.6 L632.0,503.7 L630.0,503.3 L628.0,503.1 L626.0,502.8 L624.0,502.6 L622.0,502.6 L620.0,503.3 L618.0,503.6 L616.0,504.2 L614.0,504.1 L612.0,504.5 L610.0,503.7 L608.0,503.9 L606.0,503.8 L604.0,503.3 L602.0,503.3 L600.0,503.0 L598.0,502.7 L596.0,503.3 L594.0,502.9 L592.0,503.0 L590.0,503.4 L588.0,503.5 L586.0,503.7 L584.0,503.4 L582.0,503.5 L580.0,503.3 L578.0,503.3 L576.0,503.9 L574.0,503.7 L572.0,503.7 L570.0,503.7 L568.0,503.8 L566.0,504.3 L564.0,504.7 L562.0,504.4 L560.0,504.8 L558.0,504.9 L556.0,505.0 L554.0,504.7 L552.0,504.7 L550.0,504.3 L548.0,504.2 L546.0,503.4 L544.0,503.5 L542.0,503.4 L540.0,503.6 L538.0,504.0 L536.0,504.1 L534.0,504.1 L532.0,503.8 L530.0,503.0 L528.0,502.9 L526.0,503.0 L524.0,503.9 L522.0,503.4 L520.0,503.5 L518.0,503.3 L516.0,504.1 L514.0,504.4 L512.0,504.3 L510.0,504.7 L508.0,504.9 L506.0,505.4 L504.0,505.3 L502.0,504.8 L500.0,505.1 L498.0,505.5 L496.0,504.7 L494.0,503.9 L492.0,504.4 L490.0,504.9 L488.0,504.9 L486.0,504.7 L484.0,504.9 L482.0,504.5 L480.0,504.8 L478.0,504.8 L476.0,504.9 L474.0,504.6 L472.0,504.7 L470.0,504.8 L468.0,505.1 L466.0,505.5 L464.0,505.6 L462.0,505.4 L460.0,505.1 L458.0,504.9 L456.0,505.6 L454.0,505.7 L452.0,506.2 L450.0,505.3 L448.0,505.2 L446.0,504.7 L444.0,504.4 L442.0,504.2 L440.0,504.0 L438.0,503.9 L436.0,504.4 L434.0,504.8 L432.0,504.2 L430.0,504.4 L428.0,504.5 L426.0,503.9 L424.0,503.8 L422.0,503.8 L420.0,504.0 L418.0,504.4 L416.0,504.0 L414.0,503.7 L412.0,503.4 L410.0,503.6 L408.0,503.3 L406.0,503.1 L404.0,503.1 L402.0,503.0 L400.0,503.6 L398.0,503.7 L396.0,503.3 L394.0,503.5 L392.0,503.8 L390.0,503.5 L388.0,503.4 L386.0,503.5 L384.0,503.6 L382.0,503.4 L380.0,503.4 L378.0,503.2 L376.0,502.8 L374.0,503.0 L372.0,503.6 L370.0,503.7 L368.0,503.6 L366.0,503.4 L364.0,503.6 L362.0,503.4 L360.0,503.7 L358.0,503.8 L356.0,503.2 L354.0,503.2 L352.0,503.2 L350.0,503.0 L348.0,503.1 L346.0,503.3 L344.0,504.6 L342.0,504.7 L340.0,504.2 L338.0,504.7 L336.0,505.4 L334.0,505.7 L332.0,505.4 L330.0,505.1 L328.0,505.5 L326.0,505.6 L324.0,505.3 L322.0,505.1 L320.0,504.9 L318.0,505.1 L316.0,505.4 L314.0,505.5 L312.0,505.0 L310.0,504.3 L308.0,504.8 L306.0,504.6 L304.0,504.5 L302.0,504.2 L300.0,504.6 L298.0,503.9 L296.0,503.8 L294.0,504.3 L292.0,503.9 L290.0,503.6 L288.0,504.4 L286.0,504.5 L284.0,503.8 L282.0,503.9 L280.0,504.5 L278.0,504.1 L276.0,504.5 L274.0,504.7 L272.0,503.9 L270.0,504.0 L268.0,503.6 L266.0,503.7 L264.0,503.5 L262.0,502.9 L260.0,503.0 L258.0,503.4 L256.0,503.9 L254.0,503.6 L252.0,503.6 L250.0,503.4 L248.0,503.3 L246.0,503.1 L244.0,503.0 L242.0,503.1 L240.0,503.3 L238.0,503.1 L236.0,503.1 L234.0,503.2 L232.0,503.2 L230.0,503.2 L228.0,503.4 L226.0,503.6 L224.0,503.2 L222.0,503.4 L220.0,503.9 L218.0,504.5 L216.0,504.4 L214.0,504.9 Z" fill="#b8bec6" fill-opacity="0.35"/>
<path d="M214.0,501.1 L216.0,500.9 L218.0,500.9 L220.0,500.9 L222.0,501.1 L224.0,501.1 L226.0,501.5 L228.0,501.3 L230.0,501.1 L232.0,500.9 L234.0,500.8 L236.0,500.6 L238.0,500.6 L240.0,500.9 L242.0,501.0 L244.0,500.9 L246.0,501.0 L248.0,501.2 L250.0,501.3 L252.0,501.3 L254.0,501.1 L256.0,501.0 L258.0,500.8 L260.0,500.9 L262.0,500.8 L264.0,500.8 L266.0,500.8 L268.0,500.9 L270.0,500.9 L272.0,500.8 L274.0,501.2 L276.0,501.0 L278.0,500.8 L280.0,500.9 L282.0,500.7 L284.0,500.6 L286.0,500.8 L288.0,500.5 L290.0,500.1 L292.0,500.5 L294.0,500.9 L296.0,500.6 L298.0,500.6 L300.0,500.9 L302.0,500.5 L304.0,500.5 L306.0,500.5 L308.0,500.7 L310.0,500.4 L312.0,500.8 L314.0,500.9 L316.0,501.0 L318.0,500.9 L320.0,500.5 L322.0,500.7 L324.0,500.5 L326.0,500.7 L328.0,500.7 L330.0,500.7 L332.0,500.8 L334.0,501.0 L336.0,501.2 L338.0,500.9 L340.0,500.9 L342.0,501.3 L344.0,501.3 L346.0,501.0 L348.0,501.0 L350.0,500.9 L352.0,501.1 L354.0,501.1 L356.0,501.1 L358.0,501.5 L360.0,501.0 L362.0,500.8 L364.0,500.5 L366.0,500.4 L368.0,500.8 L370.0,500.9 L372.0,501.3 L374.0,500.8 L376.0,500.7 L378.0,501.1 L380.0,501.3 L382.0,501.3 L384.0,501.4 L386.0,501.2 L388.0,501.1 L390.0,501.1 L392.0,501.2 L394.0,501.1 L396.0,501.1 L398.0,501.4 L400.0,501.0 L402.0,500.8 L404.0,501.0 L406.0,501.0 L408.0,500.9 L410.0,501.4 L412.0,501.3 L414.0,501.1 L416.0,501.3 L418.0,501.7 L420.0,501.2 L422.0,501.0 L424.0,501.0 L426.0,500.9 L428.0,501.4 L430.0,501.3 L432.0,501.1 L434.0,501.2 L436.0,500.9 L438.0,500.8 L440.0,500.9 L442.0,501.4 L444.0,500.8 L446.0,501.0 L448.0,501.3 L450.0,501.3 L452.0,501.6 L454.0,501.4 L456.0,501.3 L458.0,501.1 L460.0,500.9 L462.0,501.3 L464.0,500.9 L466.0,500.9 L468.0,500.9 L470.0,500.8 L472.0,500.4 L474.0,500.6 L476.0,500.8 L478.0,500.9 L480.0,501.1 L482.0,501.0 L484.0,500.9 L486.0,501.0 L488.0,501.1 L490.0,500.9 L492.0,500.6 L494.0,500.6 L496.0,501.0 L498.0,501.2 L500.0,500.9 L502.0,501.0 L504.0,501.2 L506.0,501.4 L508.0,501.1 L510.0,501.0 L512.0,501.3 L514.0,501.7 L516.0,501.7 L518.0,501.2 L520.0,501.2 L522.0,501.1 L524.0,501.0 L526.0,500.9 L528.0,500.8 L530.0,500.9 L532.0,501.3 L534.0,501.3 L536.0,501.3 L538.0,501.2 L540.0,501.0 L542.0,500.9 L544.0,501.2 L546.0,501.3 L548.0,501.6 L550.0,501.4 L552.0,501.2 L554.0,500.8 L556.0,501.0 L558.0,500.6 L560.0,501.1 L562.0,500.9 L564.0,501.0 L566.0,500.7 L568.0,500.7 L570.0,500.6 L572.0,501.0 L574.0,501.1 L576.0,500.8 L578.0,500.5 L580.0,500.7 L582.0,500.7 L584.0,500.6 L586.0,500.9 L588.0,500.9 L590.0,501.0 L592.0,500.9 L594.0,500.8 L596.0,500.8 L598.0,500.6 L600.0,500.9 L602.0,501.0 L604.0,500.7 L606.0,500.8 L608.0,501.1 L610.0,501.1 L612.0,501.3 L614.0,501.1 L616.0,501.1 L618.0,500.8 L620.0,500.7 L622.0,500.5 L624.0,500.5 L626.0,500.7 L628.0,501.0 L630.0,501.2 L632.0,501.1 L634.0,500.9 L636.0,501.0 L638.0,501.0 L640.0,501.3 L642.0,501.6 L644.0,501.6 L646.0,501.1 L648.0,501.0 L650.0,501.0 L652.0,500.9 L654.0,501.0 L656.0,501.2 L658.0,501.3 L660.0,501.2 L662.0,500.9 L664.0,500.8 L666.0,500.9 L668.0,501.2 L670.0,501.4 L672.0,501.4 L674.0,501.3 L676.0,501.3 L678.0,501.4 L680.0,501.5 L682.0,501.5 L684.0,501.0 L686.0,501.2 L688.0,501.2 L690.0,501.0 L692.0,501.1 L694.0,501.1 L696.0,501.1 L698.0,500.7 L700.0,500.8 L702.0,501.0 L704.0,501.0 L706.0,500.7 L708.0,500.9 L710.0,501.1 L712.0,501.1 L714.0,501.1 L716.0,501.0 L718.0,500.9 L720.0,501.0 L722.0,500.9 L724.0,501.0 L726.0,501.7 L728.0,501.5 L730.0,501.3 L732.0,500.9 L734.0,500.9 L736.0,501.1 L738.0,500.9 L740.0,500.9 L742.0,500.5 L744.0,500.8 L746.0,500.8 L748.0,501.0 L750.0,501.3 L752.0,501.1 L754.0,501.3 L756.0,501.2 L758.0,501.1 L760.0,501.0 L762.0,500.8 L764.0,501.2 L766.0,501.3 L768.0,501.0 L770.0,501.1 L772.0,500.9 L774.0,500.7 L776.0,501.0 L778.0,500.8 L780.0,501.1 L782.0,501.1 L784.0,501.2 L786.0,501.2 L788.0,501.4 L790.0,501.3 L792.0,501.3 L794.0,501.2 L796.0,501.4 L798.0,501.1 L800.0,501.3 L802.0,501.5 L804.0,501.3 L806.0,501.3 L808.0,501.0 L810.0,501.0 L812.0,501.0 L814.0,501.0 L816.0,500.8 L818.0,500.9 L820.0,501.0 L822.0,501.0 L824.0,501.2 L826.0,500.7 L828.0,501.1 L830.0,501.0 L832.0,500.9 L834.0,500.8 L836.0,501.0 L838.0,501.2 L840.0,501.0 L842.0,501.0 L844.0,500.7 L846.0,500.9 L848.0,500.9 L850.0,500.9 L852.0,501.1 L854.0,501.4 L856.0,501.5 L858.0,501.1 L860.0,501.4 L862.0,501.2 L864.0,501.1 L866.0,500.9 L868.0,501.1 L870.0,501.1 L872.0,501.1 L874.0,501.0 L876.0,501.0 L878.0,500.9 L880.0,501.1 L882.0,501.0 L884.0,501.0 L886.0,500.9 L888.0,500.8 L890.0,500.8 L892.0,500.6 L894.0,500.8 L896.0,501.0 L898.0,501.0 L900.0,501.3 L902.0,501.0 L904.0,501.1 L906.0,501.2 L908.0,501.0 L910.0,500.9 L912.0,501.1 L914.0,501.1 L916.0,501.1 L918.0,501.3 L920.0,501.3 L922.0,500.8 L924.0,500.7 L926.0,501.0 L928.0,501.0 L930.0,500.8 L932.0,500.5 L934.0,500.7 L936.0,501.1 L938.0,500.8 L940.0,500.5 L942.0,500.8 L944.0,500.8 L946.0,500.8 L948.0,500.8 L950.0,500.7 L952.0,500.9 L954.0,501.1 L956.0,501.2 L958.0,501.0 L960.0,500.7 L962.2,499.1 L964.4,497.2 L966.6,495.0 L968.6,493.5 L970.7,492.0 L972.7,490.5 L974.7,488.8 L976.8,487.2 L978.8,485.4 L980.9,483.9 L982.9,482.4 L984.9,480.9 L987.0,479.1 L989.0,477.5 L991.0,476.9 L993.0,476.5 L995.0,476.1 L997.0,475.9 L999.1,475.8 L1001.1,475.5 L1003.1,475.3 L1005.1,474.9 L1007.1,474.2 L1009.1,473.8 L1011.1,473.4 L1013.2,473.3 L1015.2,473.1 L1017.2,472.7 L1019.2,472.5 L1021.2,472.1 L1023.4,472.2 L1025.5,472.8 L1027.7,473.1 L1029.8,473.5 L1032.0,473.3 L1034.1,473.4 L1036.2,473.7 L1038.4,474.4 L1040.5,475.0 L1042.7,475.1 L1044.8,475.2 L1047.0,475.6 L1049.0,476.5 L1051.1,477.9 L1053.1,479.1 L1055.2,480.7 L1057.2,481.9 L1059.3,482.8 L1061.3,484.0 L1063.4,485.1 L1065.4,486.4 L1067.5,487.7 L1069.5,488.5 L1071.5,489.3 L1073.5,489.9 L1075.5,490.2 L1077.5,490.7 L1079.5,491.3 L1081.5,491.7 L1083.5,492.0 L1085.5,492.8 L1087.6,493.2 L1089.6,493.6 L1091.6,494.2 L1093.6,494.3 L1095.6,495.0 L1097.6,495.2 L1099.6,495.8 L1101.6,496.0 L1103.6,496.2 L1105.6,496.6 L1107.6,496.7 L1109.6,496.6 L1111.7,497.1 L1113.7,497.0 L1115.7,497.3 L1117.7,497.2 L1119.7,497.0 L1121.7,497.5 L1123.7,497.4 L1125.8,497.6 L1127.8,497.8 L1129.8,497.5 L1131.8,497.6 L1133.8,497.5 L1135.8,497.8 L1137.8,497.8 L1139.8,497.6 L1141.9,497.8 L1143.9,498.1 L1145.9,498.1 L1147.9,498.2 L1149.9,498.1 L1151.9,498.2 L1153.9,498.3 L1155.9,498.3 L1157.9,498.5 L1159.9,498.6 L1161.9,498.7 L1163.9,498.7 L1165.9,498.6 L1167.9,498.2 L1169.9,498.5 L1171.9,498.8 L1173.9,498.7 L1176.0,498.5 L1178.0,498.4 L1180.0,498.7 L1182.0,498.6 L1184.0,498.3 L1186.0,498.4 L1188.0,498.2 L1190.0,498.3 L1192.0,498.2 L1194.0,498.1 L1196.0,498.6 L1198.0,498.8 L1200.0,498.3" fill="none" stroke="#98a0aa" stroke-width="1.3" stroke-linejoin="round"/>
<path d="M214.0,502.1 L216.0,502.5 L218.0,503.0 L220.0,502.7 L222.0,502.2 L224.0,502.4 L226.0,502.8 L228.0,503.3 L230.0,502.7 L232.0,502.3 L234.0,503.0 L236.0,503.6 L238.0,504.5 L240.0,505.1 L242.0,505.2 L244.0,505.3 L246.0,506.7 L248.0,507.1 L250.0,508.5 L252.1,510.5 L254.1,513.1 L256.1,515.8 L258.2,518.1 L260.2,520.6 L262.2,523.2 L264.3,526.0 L266.3,528.7 L268.3,531.0 L270.4,532.6 L272.4,535.1 L274.4,535.6 L276.4,536.4 L278.5,536.7 L280.5,537.7 L282.5,538.3 L284.5,539.3 L286.6,541.4 L288.6,541.6 L290.6,542.3 L292.6,542.2 L294.7,542.8 L296.7,543.8 L298.7,544.3 L300.8,545.1 L302.8,545.7 L304.9,545.8 L307.0,546.8 L309.1,547.1 L311.1,548.5 L313.2,548.7 L315.3,549.5 L317.4,550.0 L319.4,550.9 L321.5,551.1 L323.6,552.1 L325.6,552.5 L327.7,553.5 L329.8,554.1 L331.9,554.5 L333.9,554.6 L336.0,555.4 L338.1,555.4 L340.1,555.6 L342.2,554.8 L344.3,554.6 L346.4,554.3 L348.4,554.0 L350.5,553.6 L352.6,553.2 L354.7,552.6 L356.7,552.0 L358.8,551.7 L360.9,551.8 L363.0,552.1 L365.0,552.0 L367.1,551.8 L369.2,551.5 L371.3,551.2 L373.3,550.6 L375.4,550.3 L377.4,550.2 L379.4,548.9 L381.4,547.7 L383.4,547.8 L385.4,546.8 L387.4,546.3 L389.4,545.6 L391.4,544.1 L393.4,544.4 L395.4,544.0 L397.4,542.7 L399.6,541.4 L401.8,539.8 L404.0,537.8 L406.2,536.4 L408.4,535.2 L410.6,534.3 L412.8,533.0 L415.0,530.5 L417.1,526.9 L419.3,522.5 L421.5,520.9 L423.7,520.5 L425.9,519.3 L428.1,517.7 L430.2,516.8 L432.4,516.4 L434.6,515.9 L436.8,515.8 L439.0,514.3 L441.2,513.7 L443.3,513.6 L445.4,513.2 L447.5,512.0 L449.5,512.5 L451.6,513.3 L453.7,513.1 L455.8,512.2 L457.9,511.7 L460.0,511.6 L462.1,512.3 L464.1,511.9 L466.2,511.4 L468.3,511.6 L470.4,510.9 L472.5,511.2 L474.6,510.3 L476.7,509.7 L478.7,509.8 L480.8,510.0 L482.9,509.7 L485.0,509.4 L487.0,508.5 L489.1,508.4 L491.1,508.4 L493.1,508.5 L495.1,509.0 L497.2,508.9 L499.2,509.4 L501.2,509.4 L503.2,509.2 L505.3,509.3 L507.3,509.5 L509.3,509.9 L511.3,509.5 L513.4,509.5 L515.4,509.0 L517.4,509.9 L519.5,510.4 L521.5,510.1 L523.5,509.8 L525.5,509.3 L527.6,509.6 L529.6,509.9 L531.6,510.8 L533.6,510.6 L535.7,510.1 L537.7,509.2 L539.7,510.1 L541.7,510.3 L543.8,509.7 L545.8,509.9 L547.9,509.1 L550.0,510.5 L552.1,510.2 L554.1,509.7 L556.2,508.9 L558.3,507.5 L560.4,507.3 L562.5,506.5 L564.6,506.7 L566.7,505.6 L568.7,505.3 L570.8,505.8 L572.9,506.1 L575.0,505.1 L577.1,504.1 L579.2,504.4 L581.3,504.4 L583.3,503.5 L585.4,502.9 L587.5,502.4 L589.6,501.9 L591.7,501.6 L593.7,502.2 L595.8,502.3 L597.8,502.8 L599.9,502.1 L601.9,501.7 L604.0,500.9 L606.0,500.8 L608.1,500.1 L610.2,499.4 L612.2,500.0 L614.3,500.5 L616.3,500.5 L618.4,500.6 L620.4,500.1 L622.5,499.4 L624.6,499.2 L626.6,498.8 L628.7,498.2 L630.7,497.5 L632.8,497.1 L634.8,497.4 L636.9,497.5 L639.0,497.2 L641.0,497.8 L643.1,497.5 L645.1,497.4 L647.2,497.5 L649.2,496.7 L651.3,495.7 L653.3,496.1 L655.4,495.7 L657.5,496.4 L659.6,496.4 L661.7,496.8 L663.8,496.9 L665.9,495.8 L667.9,496.3 L670.0,496.1 L672.1,496.0 L674.2,496.0 L676.3,496.6 L678.4,497.0 L680.5,497.3 L682.6,496.4 L684.7,496.3 L686.8,495.6 L688.8,496.1 L690.9,496.7 L693.0,496.5 L695.1,496.8 L697.2,497.0 L699.3,497.5 L701.4,497.1 L703.5,497.0 L705.6,497.0 L707.7,498.0 L709.8,498.5 L711.8,498.3 L713.9,498.4 L716.0,498.4 L718.1,498.6 L720.2,498.5 L722.3,498.5 L724.4,498.2 L726.5,498.3 L728.6,499.3 L730.7,499.6 L732.7,499.6 L734.8,499.5 L736.9,499.7 L739.0,499.9 L741.1,499.7 L743.2,500.0 L745.2,500.1 L747.3,499.9 L749.3,499.7 L751.4,499.5 L753.4,499.4 L755.5,500.2 L757.5,499.4 L759.6,499.7 L761.6,499.8 L763.6,499.9 L765.7,500.3 L767.7,500.9 L769.8,500.9 L771.8,500.8 L773.9,500.6 L775.9,500.7 L778.0,501.2 L780.0,501.0 L782.0,500.5 L784.0,500.2 L786.0,500.1 L788.0,499.9 L790.1,500.8 L792.1,501.0 L794.1,500.9 L796.1,501.5 L798.1,501.0 L800.1,501.3 L802.1,501.5 L804.1,500.7 L806.1,500.2 L808.2,500.1 L810.2,500.8 L812.2,501.4 L814.2,500.7 L816.2,501.2 L818.2,501.0 L820.2,500.8 L822.2,500.6 L824.2,500.6 L826.3,500.0 L828.3,500.0 L830.3,499.9 L832.3,500.5 L834.3,501.5 L836.3,502.3 L838.3,501.6 L840.3,500.7 L842.3,500.6 L844.4,500.3 L846.4,501.4 L848.4,501.4 L850.4,500.9 L852.4,501.3 L854.4,501.3 L856.4,500.5 L858.4,500.4 L860.4,500.5 L862.4,500.7 L864.5,500.8 L866.5,500.7 L868.5,500.8 L870.5,500.6 L872.5,500.3 L874.5,501.2 L876.5,501.2 L878.5,501.2 L880.5,500.4 L882.6,500.5 L884.6,501.0 L886.6,500.4 L888.6,501.0 L890.6,500.8 L892.6,501.0 L894.6,500.8 L896.6,500.9 L898.6,501.4 L900.7,501.0 L902.7,501.5 L904.7,500.9 L906.7,500.5 L908.7,501.0 L910.7,500.7 L912.7,501.0 L914.7,501.8 L916.7,502.5 L918.7,501.8 L920.8,502.4 L922.8,503.4 L924.8,503.9 L926.8,503.7 L928.8,503.5 L930.8,503.7 L932.8,503.5 L934.8,503.9 L936.8,504.3 L938.8,504.6 L940.8,505.5 L942.8,505.5 L944.9,505.2 L946.9,506.1 L948.9,505.9 L950.9,506.1 L952.9,506.5 L954.9,506.7 L956.9,506.7 L958.9,507.0 L960.9,508.2 L962.9,507.8 L964.9,507.9 L966.9,508.4 L968.9,508.7 L970.9,508.9 L973.0,509.1 L975.0,508.2 L977.0,508.1 L979.0,508.5 L981.0,509.0 L983.0,509.6 L985.0,509.7 L987.0,509.6 L989.0,509.5 L991.1,509.2 L993.1,509.0 L995.2,509.0 L997.2,508.4 L999.3,507.8 L1001.3,507.2 L1003.4,507.6 L1005.4,507.8 L1007.5,507.6 L1009.5,507.4 L1011.6,507.0 L1013.7,506.2 L1015.8,505.7 L1017.9,504.5 L1020.0,503.9 L1022.1,503.1 L1024.1,503.0 L1026.2,502.2 L1028.3,501.6 L1030.4,501.3 L1032.5,501.2 L1034.6,500.1 L1036.7,499.2 L1038.8,499.1 L1040.9,498.0 L1043.0,497.8 L1045.0,497.0 L1047.1,496.5 L1049.2,495.3 L1051.3,495.3 L1053.4,494.8 L1055.4,494.3 L1057.4,495.3 L1059.4,495.3 L1061.4,496.4 L1063.4,495.7 L1065.5,495.0 L1067.5,494.7 L1069.5,495.1 L1071.5,494.6 L1073.5,494.5 L1075.5,494.4 L1077.5,493.7 L1079.5,493.7 L1081.5,493.4 L1083.5,492.9 L1085.6,493.4 L1087.6,493.6 L1089.6,493.4 L1091.6,492.8 L1093.6,492.0 L1095.6,492.5 L1097.6,492.5 L1099.6,491.9 L1101.6,492.1 L1103.6,491.6 L1105.6,491.8 L1107.7,492.0 L1109.7,492.2 L1111.7,492.2 L1113.7,492.1 L1115.7,491.5 L1117.7,491.4 L1119.7,491.2 L1121.7,491.2 L1123.7,491.3 L1125.8,491.5 L1127.8,491.9 L1129.8,490.4 L1131.8,490.7 L1133.8,490.5 L1135.8,491.4 L1137.8,491.3 L1139.8,490.2 L1141.8,490.3 L1143.9,489.9 L1145.9,490.2 L1147.9,489.6 L1149.9,489.5 L1151.9,489.4 L1153.9,489.3 L1155.9,489.0 L1158.0,488.2 L1160.0,488.6 L1162.0,489.0 L1164.0,488.8 L1166.0,488.3 L1168.0,488.5 L1170.0,488.8 L1172.0,488.7 L1174.0,488.7 L1176.0,489.3 L1178.0,488.6 L1180.0,488.5 L1182.0,487.9 L1184.0,488.0 L1186.0,488.0 L1188.0,488.0 L1190.0,488.1 L1192.0,489.1 L1194.0,489.0 L1196.0,488.9 L1198.0,489.9 L1200.0,489.5" fill="none" stroke="#e2b43a" stroke-width="1.5" stroke-linejoin="round"/>
<path d="M214.0,500.3 L216.0,500.6 L218.0,500.3 L220.0,500.9 L222.0,500.3 L224.0,500.1 L226.0,499.6 L228.0,499.8 L230.0,499.6 L232.0,499.7 L234.0,499.0 L236.8,497.1 L239.5,496.1 L241.7,496.8 L243.8,498.1 L246.0,498.3 L248.2,497.0 L250.4,495.6 L252.6,494.7 L254.8,492.5 L257.0,490.3 L259.2,488.3 L261.4,486.3 L263.6,484.4 L265.8,483.4 L267.9,484.2 L269.9,484.9 L272.0,485.4 L274.0,485.6 L276.1,486.7 L278.1,487.5 L280.2,487.9 L282.2,488.4 L284.3,489.4 L286.4,490.7 L288.4,491.6 L290.5,492.3 L292.5,492.8 L294.6,493.7 L296.6,494.3 L298.7,495.7 L300.8,495.4 L302.8,495.6 L304.9,496.4 L306.9,496.5 L309.0,497.3 L311.0,497.4 L313.1,497.6 L315.1,497.7 L317.2,497.6 L319.3,497.8 L321.3,499.1 L323.4,499.5 L325.4,499.9 L327.5,500.4 L329.5,500.6 L331.6,501.4 L333.7,502.2 L335.7,503.4 L337.8,505.1 L339.8,506.3 L341.9,507.2 L343.9,508.7 L346.0,510.1 L348.1,511.9 L350.1,513.1 L352.2,514.3 L354.2,515.8 L356.3,518.0 L358.3,519.3 L360.4,520.8 L362.4,522.1 L364.5,523.1 L366.7,522.9 L368.9,522.3 L371.1,520.4 L373.3,519.9 L375.4,518.8 L377.6,517.6 L379.8,517.4 L382.0,516.0 L384.2,515.5 L386.4,514.6 L388.4,513.1 L390.5,512.5 L392.5,511.9 L394.6,511.0 L396.6,509.4 L398.7,508.8 L400.7,508.3 L402.7,507.3 L404.8,507.5 L406.8,506.6 L408.9,505.7 L410.9,505.0 L413.0,504.0 L415.0,503.4 L417.0,503.4 L419.0,503.7 L421.0,503.5 L423.0,503.5 L425.0,503.1 L427.0,503.5 L429.0,503.3 L431.0,503.6 L433.0,503.3 L435.0,503.3 L437.0,503.5 L439.0,503.2 L441.0,504.2 L443.1,503.9 L445.1,503.6 L447.2,503.2 L449.2,503.7 L451.3,503.9 L453.3,503.6 L455.4,502.7 L457.4,502.5 L459.5,502.7 L461.5,502.4 L463.6,501.9 L465.6,501.6 L467.7,501.5 L469.7,501.7 L471.8,501.5 L473.8,501.6 L475.9,502.5 L477.9,502.7 L480.0,501.8 L482.1,501.9 L484.2,501.8 L486.3,501.7 L488.4,502.1 L490.5,501.9 L492.5,501.8 L494.6,501.7 L496.7,501.8 L498.8,502.3 L500.9,502.5 L503.0,501.9 L505.1,501.9 L507.2,501.7 L509.3,502.3 L511.4,502.4 L513.4,502.7 L515.5,502.6 L517.6,501.9 L519.7,502.3 L521.8,502.5 L523.9,502.7 L526.0,502.0 L528.1,502.0 L530.2,501.6 L532.2,501.3 L534.3,501.4 L536.4,501.4 L538.5,500.8 L540.6,500.1 L542.7,499.4 L544.8,499.5 L546.8,500.1 L548.9,499.9 L551.0,499.0 L553.1,498.8 L555.2,499.1 L557.3,499.6 L559.4,499.7 L561.4,499.3 L563.5,499.0 L565.6,498.3 L567.7,497.9 L569.8,497.7 L571.9,497.3 L574.0,497.2 L576.1,496.9 L578.2,496.9 L580.2,497.1 L582.3,496.9 L584.4,496.6 L586.5,496.1 L588.6,495.2 L590.7,495.1 L592.8,495.1 L594.9,494.5 L597.0,494.8 L599.1,494.4 L601.1,494.2 L603.2,493.8 L605.3,493.1 L607.4,493.8 L609.5,492.9 L611.6,493.0 L613.8,492.5 L616.0,492.4 L618.2,491.9 L620.4,491.6 L622.5,491.8 L624.7,492.2 L626.9,491.4 L629.1,491.1 L631.3,491.2 L633.5,490.6 L635.6,490.7 L637.7,490.2 L639.8,490.3 L641.9,490.2 L644.0,490.4 L646.0,490.1 L648.1,489.4 L650.2,489.5 L652.3,488.9 L654.4,489.1 L656.5,489.5 L658.6,489.3 L660.7,488.7 L662.8,488.9 L664.9,488.6 L666.9,487.9 L669.0,487.7 L671.1,488.1 L673.2,487.7 L675.3,487.6 L677.4,487.1 L679.6,486.0 L681.8,485.4 L684.0,485.1 L686.2,484.6 L688.3,483.9 L690.5,482.5 L692.7,482.6 L694.9,482.2 L697.1,481.9 L699.3,481.7 L701.5,481.2 L703.7,481.1 L705.9,481.4 L708.1,482.2 L710.2,481.6 L712.4,481.8 L714.6,481.9 L716.8,482.4 L719.0,483.2 L721.2,483.3 L723.3,483.5 L725.3,484.6 L727.4,485.6 L729.4,486.1 L731.5,487.6 L733.5,488.4 L735.6,489.7 L737.7,490.1 L739.7,491.6 L741.8,492.0 L743.8,493.5 L745.9,493.8 L747.9,495.5 L750.0,496.2 L752.0,496.7 L754.1,496.9 L756.7,495.7 L759.4,493.0 L762.0,493.9 L763.5,498.9 L765.6,501.0 L767.6,499.1 L769.7,498.6 L771.7,498.3 L773.8,497.7 L775.8,497.2 L777.9,496.0 L779.9,496.1 L782.0,495.2 L784.0,494.1 L786.1,493.4 L788.1,492.6 L790.2,491.7 L790.3,493.8 L791.8,499.4 L793.9,501.5 L796.0,499.9 L798.1,498.8 L800.2,498.4 L802.3,497.7 L804.4,497.0 L806.5,496.3 L808.6,495.4 L810.7,495.1 L812.8,493.7 L814.9,492.7 L817.0,491.9 L819.1,491.5 L819.2,494.2 L820.7,499.8 L822.8,501.5 L824.9,500.9 L827.0,500.0 L829.1,498.6 L831.2,497.7 L833.3,497.6 L835.5,496.8 L837.6,495.5 L839.7,493.7 L841.8,492.9 L843.9,492.0 L846.0,491.5 L848.1,491.8 L848.2,494.4 L849.7,499.5 L851.8,501.1 L853.9,499.9 L856.0,499.1 L858.1,498.3 L860.2,498.6 L862.3,497.3 L864.4,496.1 L866.5,495.6 L868.6,494.6 L870.7,493.3 L872.8,493.0 L874.9,491.9 L877.0,490.8 L877.1,493.6 L878.6,499.1 L880.7,501.1 L882.8,500.5 L884.9,499.9 L887.0,498.6 L889.1,497.0 L891.2,495.6 L893.3,495.3 L895.4,495.2 L897.5,494.7 L899.6,494.2 L901.7,493.7 L903.8,492.5 L905.9,492.0 L906.0,493.7 L907.5,499.2 L909.5,501.4 L911.6,500.4 L913.6,499.4 L915.6,498.2 L917.7,497.6 L919.7,497.2 L921.7,496.1 L923.7,495.5 L925.8,494.3 L927.8,493.6 L929.8,492.4 L931.9,491.8 L933.9,491.1 L936.1,491.1 L938.3,491.0 L940.5,490.7 L942.7,490.9 L944.9,491.5 L947.1,492.1 L949.3,491.9 L951.5,492.1 L953.7,491.3 L955.9,488.2 L958.0,483.5 L960.2,479.7 L962.3,475.4 L964.5,471.9 L966.6,469.2 L968.7,468.4 L970.9,467.6 L973.0,468.3 L975.1,468.9 L977.3,468.7 L979.4,469.8 L981.4,471.2 L983.4,472.9 L985.4,474.5 L987.5,476.0 L989.5,477.9 L991.5,480.9 L993.5,482.5 L995.5,484.2 L997.5,485.6 L999.5,487.2 L1001.5,488.9 L1003.5,490.5 L1005.6,492.8 L1007.6,494.5 L1009.6,496.6 L1011.6,497.7 L1013.7,499.3 L1015.9,500.2 L1018.0,501.3 L1020.2,502.1 L1022.3,502.7 L1024.5,504.1 L1026.6,504.8 L1028.7,505.7 L1030.9,506.3 L1033.0,507.5 L1035.2,508.3 L1037.3,509.2 L1039.3,509.4 L1041.3,508.9 L1043.3,508.3 L1045.3,508.5 L1047.3,508.7 L1049.4,508.6 L1051.4,507.9 L1053.4,508.0 L1055.4,507.9 L1057.4,507.7 L1059.4,507.5 L1061.4,507.1 L1063.4,507.0 L1065.4,507.0 L1067.4,506.5 L1069.4,505.8 L1071.5,505.7 L1073.5,505.7 L1075.5,504.9 L1077.5,504.8 L1079.5,505.0 L1081.5,504.9 L1083.5,504.8 L1085.5,504.1 L1087.5,504.4 L1089.5,504.8 L1091.6,504.3 L1093.6,503.7 L1095.6,503.2 L1097.6,503.4 L1099.6,503.3 L1101.6,502.8 L1103.6,503.2 L1105.6,503.2 L1107.6,503.1 L1109.6,502.2 L1111.7,502.1 L1113.7,502.3 L1115.7,501.7 L1117.7,502.1 L1119.7,502.4 L1121.7,502.4 L1123.7,501.8 L1125.8,501.3 L1127.8,501.6 L1129.8,501.7 L1131.8,501.8 L1133.8,501.8 L1135.8,501.3 L1137.8,500.8 L1139.8,500.0 L1141.8,500.4 L1143.9,501.1 L1145.9,500.5 L1147.9,500.1 L1149.9,500.2 L1151.9,500.1 L1153.9,499.4 L1155.9,499.1 L1158.0,498.8 L1160.0,499.6 L1162.0,499.1 L1164.0,499.3 L1166.0,499.8 L1168.0,500.1 L1170.0,500.1 L1172.0,500.2 L1174.0,499.3 L1176.0,499.0 L1178.0,498.7 L1180.0,498.7 L1182.0,499.7 L1184.0,498.8 L1186.0,499.1 L1188.0,498.6 L1190.0,499.2 L1192.0,499.6 L1194.0,499.2 L1196.0,499.8 L1198.0,499.5 L1200.0,499.8" fill="none" stroke="#5b7c92" stroke-width="1.5" stroke-linejoin="round"/>
<path d="M214.0,622.2 L216.0,622.1 L218.1,622.0 L220.1,621.1 L222.2,621.0 L224.2,621.0 L226.3,620.4 L228.3,621.0 L230.4,619.9 L232.4,619.7 L234.5,619.8 L236.5,620.0 L238.6,618.8 L240.6,619.2 L242.7,618.2 L244.7,619.3 L246.8,618.8 L248.8,618.5 L250.9,618.2 L252.9,618.0 L255.0,617.7 L257.0,617.6 L259.1,618.2 L261.2,618.9 L263.3,619.4 L265.4,619.7 L267.5,619.5 L269.5,619.4 L271.6,619.5 L273.7,620.7 L275.8,621.2 L277.9,620.4 L280.0,621.7 L282.1,622.1 L284.2,622.9 L286.3,622.9 L288.4,623.2 L290.4,622.3 L292.5,622.6 L294.6,622.8 L296.7,624.0 L298.8,624.3 L300.9,624.8 L302.9,625.4 L304.9,625.3 L307.0,625.7 L309.0,626.2 L311.0,628.0 L313.0,628.6 L315.1,628.8 L317.1,629.0 L319.1,630.3 L321.1,630.7 L323.2,631.1 L325.2,631.4 L327.2,630.9 L329.2,631.8 L331.2,632.9 L333.3,632.2 L335.3,632.9 L337.3,633.4 L339.3,633.0 L341.4,633.2 L343.4,633.7 L345.4,633.6 L347.4,632.8 L349.5,633.1 L351.5,632.2 L353.5,632.4 L355.6,634.1 L357.7,634.0 L359.8,635.2 L361.9,635.5 L364.0,636.3 L366.0,636.9 L368.1,636.8 L370.2,637.8 L372.3,637.8 L374.4,638.3 L376.5,639.5 L378.6,640.4 L380.7,641.0 L382.8,641.7 L384.9,642.6 L386.9,643.9 L389.0,644.7 L391.1,644.9 L393.2,645.9 L395.3,646.6 L397.4,647.4 L399.5,646.2 L401.6,646.3 L403.7,646.3 L405.7,647.7 L407.8,646.9 L409.9,646.4 L412.0,645.8 L414.1,646.0 L416.2,645.6 L418.3,646.6 L420.3,646.7 L422.4,646.7 L424.5,647.3 L426.6,647.2 L428.7,648.7 L430.8,649.6 L432.9,649.9 L434.9,649.5 L437.0,649.5 L439.1,650.4 L441.2,649.4 L443.3,650.0 L445.3,649.0 L447.4,648.6 L449.4,647.7 L451.5,647.3 L453.5,647.0 L455.6,647.0 L457.6,646.5 L459.7,646.7 L461.8,646.7 L463.8,647.3 L465.9,647.0 L467.9,645.5 L470.0,645.2 L472.0,645.2 L474.1,644.9 L476.3,643.6 L478.4,642.3 L480.6,641.5 L482.7,641.0 L484.9,640.1 L487.1,638.8 L489.2,638.6 L491.4,637.1 L493.5,636.8 L495.7,635.6 L497.8,635.1 L500.0,634.6 L502.0,633.0 L504.0,631.3 L506.0,630.5 L508.1,629.7 L510.1,628.3 L512.1,626.6 L514.1,625.6 L516.1,624.5 L518.1,622.2 L520.1,621.6 L522.2,621.3 L524.2,619.4 L526.2,618.9 L528.2,617.5 L530.4,614.3 L532.6,611.6 L534.8,609.3 L537.0,607.5 L539.2,605.1 L541.4,602.9 L543.6,600.5 L545.8,597.8 L548.0,595.8 L550.2,593.6 L552.4,591.6 L554.5,589.4 L556.7,588.3 L558.9,585.7 L561.1,584.4 L563.3,581.8 L565.3,581.4 L567.3,582.0 L569.3,581.6 L571.4,581.3 L573.4,581.6 L575.4,581.7 L577.4,581.8 L579.4,582.1 L581.5,582.3 L583.5,581.7 L585.5,582.2 L587.5,580.8 L589.6,578.5 L591.8,575.4 L594.0,575.8 L596.2,576.5 L598.4,578.0 L600.6,579.1 L602.8,580.2 L605.0,581.1 L607.2,580.9 L609.4,583.5 L611.6,584.6 L613.8,587.0 L616.0,589.2 L618.2,591.9 L620.4,593.9 L622.5,597.2 L624.7,600.8 L626.9,603.3 L629.1,605.2 L631.3,607.9 L633.5,609.7 L635.6,613.0 L637.6,614.9 L639.7,617.0 L641.7,618.2 L643.8,618.9 L645.8,619.7 L647.9,622.2 L650.0,622.8 L652.0,624.5 L654.1,625.9 L656.1,627.8 L658.2,629.5 L660.2,631.2 L662.3,632.4 L664.3,634.4 L666.4,636.2 L668.5,636.7 L670.5,637.7 L672.6,638.0 L674.6,640.1 L676.7,640.2 L678.7,641.8 L680.8,642.9 L682.8,643.4 L684.9,643.4 L687.0,645.3 L689.0,646.7 L691.1,647.9 L693.1,649.2 L695.2,649.6 L697.2,649.9 L699.3,651.6 L701.4,652.0 L703.4,651.3 L705.5,651.2 L707.5,651.6 L709.6,651.4 L711.6,651.5 L713.7,651.5 L715.8,651.6 L717.8,652.0 L719.9,651.4 L721.9,651.7 L724.0,651.6 L726.0,652.2 L728.1,653.0 L730.1,651.6 L732.2,652.5 L734.4,651.2 L736.6,651.0 L738.8,651.5 L741.0,651.2 L743.2,650.1 L745.3,649.5 L747.5,648.2 L749.7,647.6 L751.9,646.4 L754.1,643.7 L758.0,638.6 L760.0,635.6 L762.0,637.7 L763.5,645.6 L765.6,649.1 L767.6,647.7 L769.7,645.4 L771.7,644.1 L773.8,642.8 L775.8,641.4 L777.9,639.8 L779.9,637.7 L782.0,636.8 L784.0,635.2 L786.1,634.1 L788.1,633.0 L790.2,631.6 L790.3,635.8 L791.8,645.3 L793.9,647.9 L796.0,646.1 L798.1,644.5 L800.2,643.3 L802.3,641.6 L804.4,641.2 L806.5,639.1 L808.6,638.7 L810.7,636.8 L812.8,635.6 L814.9,635.5 L817.0,633.6 L819.1,631.6 L819.2,634.3 L820.7,643.5 L822.8,646.7 L824.9,645.5 L827.0,644.2 L829.1,642.0 L831.2,640.1 L833.3,638.7 L835.5,637.5 L837.6,636.3 L839.7,635.2 L841.8,633.7 L843.9,632.7 L846.0,630.7 L848.1,630.2 L848.2,634.0 L849.7,643.7 L851.8,646.7 L853.9,646.0 L856.0,644.4 L858.1,642.8 L860.2,641.8 L862.3,640.3 L864.4,638.9 L866.5,637.4 L868.6,635.3 L870.7,633.3 L872.8,631.6 L874.9,629.3 L877.0,628.9 L877.1,633.2 L878.6,642.8 L880.7,646.9 L882.8,646.0 L884.9,643.9 L887.0,642.7 L889.1,641.5 L891.2,639.3 L893.3,638.6 L895.4,637.8 L897.5,635.8 L899.6,635.2 L901.7,633.8 L903.8,632.0 L905.9,630.9 L906.0,634.9 L907.5,643.7 L909.5,646.3 L911.6,645.1 L913.6,643.8 L915.6,642.3 L917.7,641.1 L919.7,639.9 L921.7,638.0 L923.7,637.2 L925.8,635.7 L927.8,635.4 L929.8,633.7 L931.9,632.3 L933.9,630.2 L936.0,626.9 L938.1,622.5 L940.2,618.8 L942.3,615.1 L944.5,610.5 L946.6,607.9 L948.7,604.0 L950.8,600.6 L952.9,597.2 L955.0,594.4 L957.2,593.2 L959.5,592.2 L961.8,590.9 L964.0,589.5 L966.2,588.4 L968.5,587.9 L970.5,588.6 L972.5,589.3 L974.5,589.5 L976.5,589.5 L978.5,591.8 L980.6,593.2 L982.6,594.2 L984.6,595.4 L986.6,596.3 L988.6,598.9 L990.9,603.7 L993.1,610.4 L995.4,615.3 L997.6,616.8 L999.9,617.7 L1002.1,619.1 L1004.3,620.4 L1006.6,621.6 L1008.8,623.5 L1010.9,625.3 L1013.0,628.5 L1015.1,632.0 L1017.2,634.7 L1019.3,638.7 L1021.4,642.2 L1023.5,645.6 L1025.6,648.5 L1027.8,650.4 L1030.1,651.2 L1032.3,651.9 L1034.6,652.3 L1036.8,652.2 L1039.1,653.5 L1041.2,654.1 L1043.4,652.2 L1045.5,651.7 L1047.6,649.9 L1049.8,648.7 L1051.9,648.0 L1054.1,646.9 L1056.2,645.5 L1058.3,644.7 L1060.5,643.1 L1062.6,641.0 L1064.6,640.6 L1066.6,640.8 L1068.6,639.5 L1070.7,639.4 L1072.7,638.3 L1074.7,637.3 L1076.7,637.7 L1078.7,637.7 L1080.7,637.5 L1082.8,637.3 L1084.8,636.9 L1086.8,636.9 L1088.8,636.8 L1090.8,636.7 L1092.8,636.1 L1094.9,635.5 L1096.9,634.9 L1098.9,634.2 L1100.9,632.5 L1102.9,632.5 L1104.9,631.1 L1107.0,630.5 L1109.0,630.2 L1111.0,629.7 L1113.0,628.4 L1115.0,628.7 L1117.0,628.8 L1119.1,628.9 L1121.1,629.1 L1123.1,629.6 L1125.1,630.5 L1127.1,630.0 L1129.2,630.0 L1131.2,630.6 L1133.2,630.3 L1135.2,631.2 L1137.2,630.9 L1139.3,630.6 L1141.3,631.0 L1143.3,631.7 L1145.3,631.0 L1147.3,631.0 L1149.4,631.3 L1151.4,631.8 L1153.4,632.0 L1155.4,631.3 L1157.4,631.8 L1159.5,632.1 L1161.5,632.5 L1163.5,632.4 L1165.6,632.2 L1167.7,631.3 L1169.8,631.6 L1171.9,632.4 L1174.0,632.6 L1176.1,632.5 L1178.2,632.6 L1180.2,633.0 L1182.3,632.9 L1184.4,633.1 L1186.5,633.1 L1188.6,633.6 L1190.7,633.1 L1192.8,632.5 L1194.9,633.2 L1197.0,633.3 L1197.0,648.7 L1194.9,648.3 L1192.8,648.2 L1190.7,648.0 L1188.6,647.9 L1186.5,647.6 L1184.4,648.3 L1182.3,648.8 L1180.2,649.1 L1178.2,648.2 L1176.1,648.2 L1174.0,648.1 L1171.9,648.6 L1169.8,648.8 L1167.7,649.1 L1165.6,649.2 L1163.5,648.8 L1161.5,648.8 L1159.5,649.7 L1157.4,648.8 L1155.4,647.9 L1153.4,648.4 L1151.4,648.2 L1149.4,647.5 L1147.3,648.2 L1145.3,648.6 L1143.3,649.0 L1141.3,649.3 L1139.3,649.0 L1137.2,648.0 L1135.2,648.4 L1133.2,648.2 L1131.2,649.0 L1129.2,649.0 L1127.1,648.6 L1125.1,648.4 L1123.1,649.0 L1121.1,649.1 L1119.1,648.8 L1117.0,649.0 L1115.0,648.3 L1113.0,648.8 L1111.0,649.3 L1109.0,649.5 L1107.0,649.9 L1104.9,650.5 L1102.9,651.0 L1100.9,651.4 L1098.9,652.5 L1096.9,652.9 L1094.9,653.6 L1092.8,653.8 L1090.8,654.7 L1088.8,655.4 L1086.8,656.0 L1084.8,656.8 L1082.8,658.4 L1080.7,659.1 L1078.7,660.2 L1076.7,660.5 L1074.7,660.7 L1072.7,660.9 L1070.7,662.7 L1068.6,662.5 L1066.6,663.1 L1064.6,662.9 L1062.6,662.7 L1060.5,664.1 L1058.3,665.1 L1056.2,665.7 L1054.1,667.6 L1051.9,668.8 L1049.8,670.0 L1047.6,671.1 L1045.5,672.0 L1043.4,673.2 L1041.2,675.1 L1039.1,675.6 L1036.8,674.8 L1034.6,673.8 L1032.3,673.4 L1030.1,673.1 L1027.8,672.3 L1025.6,669.7 L1023.5,666.6 L1021.4,662.8 L1019.3,658.9 L1017.2,655.2 L1015.1,652.5 L1013.0,648.4 L1010.9,645.4 L1008.8,642.8 L1006.6,641.0 L1004.3,639.5 L1002.1,637.5 L999.9,635.1 L997.6,633.9 L995.4,631.6 L993.1,626.5 L990.9,619.8 L988.6,615.1 L986.6,613.0 L984.6,612.6 L982.6,612.0 L980.6,610.2 L978.5,609.1 L976.5,607.2 L974.5,607.0 L972.5,607.5 L970.5,606.1 L968.5,605.3 L966.2,604.8 L964.0,606.2 L961.8,608.0 L959.5,608.9 L957.2,609.6 L955.0,611.1 L952.9,614.8 L950.8,617.8 L948.7,621.0 L946.6,624.5 L944.5,628.6 L942.3,633.0 L940.2,637.0 L938.1,640.8 L936.0,645.0 L933.9,648.4 L931.9,650.7 L929.8,651.6 L927.8,653.1 L925.8,654.0 L923.7,655.2 L921.7,656.1 L919.7,658.1 L917.7,659.5 L915.6,661.2 L913.6,662.7 L911.6,664.4 L909.5,665.2 L907.5,662.1 L906.0,653.3 L905.9,649.5 L903.8,650.6 L901.7,652.5 L899.6,654.2 L897.5,655.1 L895.4,656.0 L893.3,657.6 L891.2,658.0 L889.1,659.7 L887.0,661.4 L884.9,663.6 L882.8,666.2 L880.7,667.3 L878.6,662.9 L877.1,653.5 L877.0,649.5 L874.9,650.5 L872.8,652.0 L870.7,653.5 L868.6,654.7 L866.5,655.7 L864.4,657.5 L862.3,659.0 L860.2,660.5 L858.1,661.3 L856.0,662.7 L853.9,664.7 L851.8,665.3 L849.7,662.1 L848.2,652.5 L848.1,649.1 L846.0,650.4 L843.9,652.2 L841.8,654.0 L839.7,655.4 L837.6,656.5 L835.5,657.9 L833.3,659.6 L831.2,659.8 L829.1,661.1 L827.0,662.4 L824.9,663.6 L822.8,664.6 L820.7,660.6 L819.2,651.9 L819.1,649.0 L817.0,649.6 L814.9,651.4 L812.8,652.3 L810.7,653.6 L808.6,655.2 L806.5,656.4 L804.4,658.3 L802.3,658.7 L800.2,659.9 L798.1,661.1 L796.0,662.6 L793.9,663.7 L791.8,660.2 L790.3,650.5 L790.2,646.4 L788.1,647.9 L786.1,649.5 L784.0,651.1 L782.0,651.8 L779.9,653.2 L777.9,655.6 L775.8,656.9 L773.8,658.3 L771.7,659.7 L769.7,661.3 L767.6,663.2 L765.6,664.9 L763.5,661.5 L762.0,652.5 L760.0,650.7 L758.0,655.0 L754.1,661.2 L751.9,663.9 L749.7,664.4 L747.5,664.8 L745.3,665.0 L743.2,665.8 L741.0,666.0 L738.8,666.4 L736.6,666.4 L734.4,667.3 L732.2,668.6 L730.1,668.3 L728.1,669.3 L726.0,668.4 L724.0,667.9 L721.9,668.6 L719.9,667.9 L717.8,667.8 L715.8,667.9 L713.7,668.4 L711.6,668.3 L709.6,667.4 L707.5,667.5 L705.5,667.2 L703.4,667.2 L701.4,667.9 L699.3,666.5 L697.2,665.0 L695.2,664.1 L693.1,663.9 L691.1,662.7 L689.0,661.5 L687.0,661.3 L684.9,659.3 L682.8,658.9 L680.8,657.5 L678.7,656.5 L676.7,655.4 L674.6,654.6 L672.6,653.2 L670.5,652.3 L668.5,651.3 L666.4,651.3 L664.3,649.9 L662.3,648.3 L660.2,646.9 L658.2,645.6 L656.1,644.8 L654.1,644.0 L652.0,643.6 L650.0,641.8 L647.9,640.4 L645.8,638.3 L643.8,637.1 L641.7,635.1 L639.7,634.1 L637.6,632.8 L635.6,632.0 L633.5,629.6 L631.3,628.5 L629.1,625.6 L626.9,624.4 L624.7,621.8 L622.5,620.0 L620.4,617.5 L618.2,615.0 L616.0,613.2 L613.8,611.0 L611.6,608.8 L609.4,607.9 L607.2,605.5 L605.0,604.4 L602.8,603.0 L600.6,600.8 L598.4,600.2 L596.2,598.7 L594.0,597.1 L591.8,596.3 L589.6,599.3 L587.5,601.5 L585.5,602.4 L583.5,601.7 L581.5,602.4 L579.4,602.1 L577.4,602.3 L575.4,602.3 L573.4,603.2 L571.4,602.3 L569.3,602.4 L567.3,602.7 L565.3,602.8 L563.3,602.7 L561.1,605.1 L558.9,605.8 L556.7,608.7 L554.5,609.9 L552.4,611.8 L550.2,613.3 L548.0,616.1 L545.8,618.7 L543.6,620.4 L541.4,622.4 L539.2,623.9 L537.0,625.6 L534.8,628.2 L532.6,630.5 L530.4,632.8 L528.2,635.0 L526.2,637.0 L524.2,637.5 L522.2,639.2 L520.1,640.5 L518.1,641.5 L516.1,643.0 L514.1,643.8 L512.1,645.3 L510.1,645.5 L508.1,647.0 L506.0,648.5 L504.0,649.8 L502.0,651.4 L500.0,652.9 L497.8,653.1 L495.7,653.5 L493.5,654.6 L491.4,655.3 L489.2,656.2 L487.1,656.1 L484.9,656.0 L482.7,656.3 L480.6,657.5 L478.4,657.9 L476.3,659.0 L474.1,659.6 L472.0,660.6 L470.0,660.3 L467.9,660.3 L465.9,661.6 L463.8,662.0 L461.8,661.9 L459.7,662.5 L457.6,662.7 L455.6,664.4 L453.5,665.2 L451.5,665.6 L449.4,666.1 L447.4,667.7 L445.3,667.5 L443.3,668.9 L441.2,669.2 L439.1,670.1 L437.0,669.7 L434.9,669.8 L432.9,670.2 L430.8,669.5 L428.7,669.1 L426.6,669.1 L424.5,669.1 L422.4,669.1 L420.3,669.9 L418.3,669.4 L416.2,670.4 L414.1,671.1 L412.0,671.0 L409.9,671.5 L407.8,671.5 L405.7,672.0 L403.7,671.2 L401.6,670.6 L399.5,670.3 L397.4,670.7 L395.3,670.4 L393.2,669.3 L391.1,669.0 L389.0,668.5 L386.9,668.5 L384.9,667.4 L382.8,666.7 L380.7,666.2 L378.6,665.1 L376.5,664.7 L374.4,663.5 L372.3,663.0 L370.2,662.1 L368.1,661.1 L366.0,661.0 L364.0,659.8 L361.9,659.2 L359.8,659.5 L357.7,658.2 L355.6,658.2 L353.5,657.1 L351.5,656.2 L349.5,656.3 L347.4,655.9 L345.4,656.2 L343.4,656.0 L341.4,656.4 L339.3,655.4 L337.3,655.4 L335.3,655.3 L333.3,655.1 L331.2,656.1 L329.2,655.9 L327.2,656.1 L325.2,655.0 L323.2,654.1 L321.1,652.4 L319.1,652.2 L317.1,651.2 L315.1,650.6 L313.0,649.8 L311.0,648.6 L309.0,647.6 L307.0,647.0 L304.9,645.4 L302.9,645.6 L300.9,645.6 L298.8,645.8 L296.7,645.3 L294.6,644.1 L292.5,644.4 L290.4,643.9 L288.4,644.5 L286.3,643.7 L284.2,642.9 L282.1,642.5 L280.0,642.0 L277.9,640.6 L275.8,640.7 L273.7,639.9 L271.6,638.8 L269.5,638.3 L267.5,638.5 L265.4,638.6 L263.3,638.0 L261.2,637.7 L259.1,637.1 L257.0,636.5 L255.0,637.5 L252.9,637.0 L250.9,637.6 L248.8,638.1 L246.8,638.1 L244.7,638.8 L242.7,638.6 L240.6,639.2 L238.6,639.0 L236.5,638.9 L234.5,639.2 L232.4,639.0 L230.4,639.6 L228.3,639.9 L226.3,640.7 L224.2,640.4 L222.2,640.3 L220.1,639.7 L218.1,640.0 L216.0,640.9 L214.0,640.6 Z" fill="#c3d0ae" fill-opacity="0.38"/>
<path d="M214.0,621.5 L216.0,622.0 L218.1,623.2 L220.1,622.6 L222.1,623.6 L224.2,623.4 L226.2,624.1 L228.2,623.4 L230.3,622.5 L232.3,622.6 L234.3,624.1 L236.3,623.8 L238.4,623.8 L240.4,624.1 L242.4,624.6 L244.5,624.8 L246.5,624.9 L248.5,624.6 L250.6,624.7 L252.6,626.2 L254.6,626.9 L256.6,627.0 L258.6,627.5 L260.7,627.5 L262.7,628.6 L264.7,629.6 L266.7,629.0 L268.7,629.8 L270.8,629.0 L272.8,628.6 L274.8,628.7 L276.8,629.0 L278.9,629.4 L280.9,629.6 L282.9,630.2 L285.0,630.0 L287.1,630.6 L289.1,630.5 L291.2,630.4 L293.2,630.8 L295.2,630.6 L297.3,631.4 L299.4,631.8 L301.4,631.0 L303.5,631.7 L305.5,631.6 L307.6,631.7 L309.6,631.6 L311.7,631.3 L313.7,631.6 L315.8,631.8 L317.8,632.2 L319.9,632.7 L321.9,632.8 L324.0,632.6 L326.0,633.4 L328.1,631.8 L330.1,631.8 L332.2,632.5 L334.2,631.1 L336.3,631.3 L338.3,631.3 L340.4,631.2 L342.6,630.1 L344.8,628.8 L346.9,627.6 L349.1,626.3 L351.3,625.3 L353.5,624.6 L355.6,623.9 L357.7,623.9 L359.8,623.6 L361.9,622.9 L364.0,622.3 L366.0,622.0 L368.1,622.0 L370.2,622.2 L372.3,621.9 L374.4,622.5 L376.5,622.9 L378.6,623.5 L380.7,622.4 L382.8,621.7 L384.9,622.1 L386.9,622.2 L389.0,622.3 L391.1,622.2 L393.2,622.2 L395.3,622.6 L397.4,622.5 L399.6,622.0 L401.8,622.4 L404.0,622.9 L406.2,623.3 L408.4,622.4 L410.5,623.0 L412.7,622.2 L414.9,622.0 L417.1,621.8 L419.3,622.1 L421.3,621.5 L423.3,621.3 L425.4,620.8 L427.4,621.4 L429.4,621.0 L431.4,621.2 L433.4,620.6 L435.4,620.5 L437.5,620.1 L439.5,620.0 L441.5,619.8 L443.5,620.7 L445.5,620.9 L447.5,620.4 L449.6,620.4 L451.6,620.9 L453.6,620.9 L455.6,621.0 L457.6,621.1 L459.6,621.3 L461.7,621.5 L463.7,621.3 L465.7,621.5 L467.7,621.4 L469.7,621.2 L471.8,620.1 L473.8,620.4 L475.8,621.2 L477.8,621.6 L479.8,622.1 L481.8,621.2 L483.9,621.2 L485.9,620.4 L487.9,619.7 L489.9,619.0 L491.9,619.3 L493.9,619.7 L496.0,618.9 L498.0,619.4 L500.0,619.8 L502.1,619.8 L504.2,618.9 L506.2,619.1 L508.3,618.6 L510.4,617.9 L512.5,617.5 L514.6,618.6 L516.7,617.6 L518.7,617.1 L520.8,616.7 L522.9,616.5 L525.0,616.6 L527.1,616.5 L529.1,615.8 L531.2,615.7 L533.3,615.7 L535.4,615.7 L537.5,614.8 L539.6,614.8 L541.6,614.3 L543.7,614.4 L545.8,613.8 L547.9,613.1 L549.9,612.5 L552.0,611.2 L554.0,610.7 L556.1,611.5 L558.1,610.4 L560.2,609.4 L562.2,608.0 L564.3,608.1 L566.4,607.0 L568.4,606.1 L570.5,605.1 L572.5,604.8 L574.6,603.6 L576.6,603.3 L578.7,601.8 L580.8,601.1 L582.8,599.4 L584.9,598.8 L586.9,597.9 L589.0,597.4 L591.0,597.7 L593.1,596.5 L595.2,597.0 L597.2,596.6 L599.3,595.9 L601.3,594.8 L603.4,593.9 L605.4,592.8 L607.5,592.9 L609.5,592.4 L611.6,591.8 L613.8,591.1 L616.0,591.1 L618.2,590.1 L620.4,589.4 L622.5,588.9 L624.7,588.4 L626.9,588.5 L629.1,588.3 L631.3,588.0 L633.5,587.5 L635.7,586.7 L637.9,587.5 L640.1,587.3 L642.3,587.5 L644.5,588.5 L646.6,588.7 L648.8,589.0 L651.0,589.9 L653.2,589.2 L655.4,589.6 L657.5,591.5 L659.6,592.1 L661.7,592.4 L663.8,593.4 L665.9,594.6 L667.9,595.1 L670.0,596.3 L672.1,596.6 L674.2,598.2 L676.3,599.6 L678.4,601.0 L680.5,601.2 L682.6,602.1 L684.7,603.8 L686.8,605.2 L688.8,607.4 L690.9,608.0 L693.0,609.1 L695.1,610.6 L697.2,612.1 L699.3,612.8 L701.5,613.3 L703.7,613.3 L705.9,614.0 L708.1,615.4 L710.2,615.2 L712.4,616.0 L714.6,615.8 L716.8,615.7 L719.0,616.6 L721.2,617.6 L723.3,618.7 L725.4,618.7 L727.5,618.0 L729.6,618.4 L731.7,618.8 L733.7,618.6 L735.8,619.2 L737.9,619.4 L740.0,620.6 L742.1,620.5 L744.2,621.7 L746.3,622.8 L748.4,623.3 L750.5,624.1 L752.6,624.3 L754.6,626.0 L756.7,625.8 L758.8,626.7 L760.9,628.0 L763.0,627.9 L765.1,628.1 L767.2,627.8 L769.4,628.0 L771.5,628.7 L773.6,628.7 L775.7,628.1 L777.9,628.8 L780.0,628.2 L782.1,627.1 L784.3,626.0 L786.4,624.7 L788.6,624.6 L790.7,624.1 L792.9,623.1 L795.0,622.2 L797.1,622.6 L799.3,623.5 L801.4,623.6 L803.6,624.4 L805.7,625.7 L807.9,625.7 L810.0,625.9 L812.1,625.4 L814.3,624.7 L816.4,624.3 L818.6,622.8 L820.7,622.7 L822.9,622.1 L825.0,621.3 L827.1,621.7 L829.3,622.3 L831.4,622.9 L833.6,624.1 L835.7,624.8 L837.9,625.3 L840.0,625.8 L842.1,626.2 L844.3,625.2 L846.4,624.9 L848.6,624.1 L850.7,623.6 L852.9,622.7 L855.0,622.6 L857.1,622.5 L859.3,622.9 L861.4,623.0 L863.6,623.9 L865.7,624.8 L867.9,625.6 L870.0,626.7 L872.1,626.1 L874.3,624.7 L876.4,623.8 L878.6,622.8 L880.7,622.4 L882.9,621.6 L885.0,621.5 L887.1,621.8 L889.3,622.7 L891.4,624.0 L893.6,624.2 L895.7,625.1 L897.9,625.6 L900.0,625.8 L902.2,625.9 L904.4,624.2 L906.6,623.9 L908.8,622.5 L911.0,622.4 L913.0,621.1 L915.1,621.6 L917.1,621.2 L919.1,621.4 L921.2,621.3 L923.2,621.5 L925.2,621.6 L927.3,621.3 L929.3,620.6 L931.4,620.1 L933.4,619.9 L935.4,620.7 L937.5,620.7 L939.5,620.8 L941.5,621.7 L943.6,621.3 L945.6,620.7 L947.6,620.9 L949.7,621.4 L951.7,622.0 L953.7,625.1 L955.7,628.2 L957.7,631.6 L959.7,635.9 L961.7,638.0 L963.8,639.8 L965.9,639.7 L968.0,640.2 L970.2,641.2 L972.3,641.4 L974.4,642.3 L976.5,643.5 L978.6,644.1 L980.7,645.2 L982.8,647.1 L984.9,648.7 L987.0,650.4 L989.1,652.0 L991.2,654.4 L993.3,656.0 L995.4,657.3 L997.6,658.9 L999.9,658.8 L1002.1,658.6 L1004.3,659.0 L1006.6,660.2 L1008.8,660.0 L1011.0,658.2 L1013.3,655.6 L1015.5,653.8 L1017.8,650.7 L1020.0,648.2 L1022.3,644.5 L1024.4,642.6 L1026.4,640.0 L1028.5,637.4 L1030.6,634.9 L1032.6,630.6 L1034.7,628.2 L1036.8,625.2 L1038.9,622.6 L1040.9,619.7 L1043.0,617.0 L1045.1,614.1 L1047.1,611.3 L1049.2,607.7 L1051.4,604.8 L1053.7,601.8 L1055.9,599.9 L1058.1,597.3 L1060.4,593.9 L1062.6,592.2 L1064.7,591.4 L1066.8,590.6 L1068.9,590.7 L1071.0,589.2 L1073.1,587.9 L1075.2,587.5 L1077.3,587.5 L1079.4,586.9 L1081.5,586.1 L1083.6,586.1 L1085.7,586.2 L1087.8,584.6 L1089.9,583.7 L1092.0,583.3 L1094.1,583.4 L1096.2,582.5 L1098.2,582.8 L1100.2,581.9 L1102.3,582.3 L1104.3,582.1 L1106.3,582.2 L1108.3,581.7 L1110.3,581.8 L1112.4,580.8 L1114.4,580.5 L1116.4,580.0 L1118.4,581.0 L1120.4,580.0 L1122.5,579.1 L1124.5,578.8 L1126.5,579.2 L1128.5,578.2 L1130.5,578.7 L1132.6,578.4 L1134.6,579.4 L1136.6,578.4 L1138.6,577.9 L1140.6,577.8 L1142.7,577.2 L1144.7,576.6 L1146.7,577.1 L1148.7,576.9 L1150.7,577.4 L1152.7,577.5 L1154.8,577.8 L1156.8,578.4 L1158.8,579.2 L1160.8,578.7 L1162.8,578.8 L1164.8,577.8 L1166.9,578.5 L1168.9,578.8 L1170.9,578.5 L1172.9,579.1 L1174.9,578.3 L1176.9,578.9 L1179.0,578.5 L1181.0,578.5 L1183.0,578.6 L1185.0,578.2 L1187.0,578.7 L1189.0,579.1 L1191.1,578.8 L1193.1,578.7 L1195.1,578.8 L1197.1,578.6 L1197.1,597.4 L1195.1,597.7 L1193.1,598.0 L1191.1,597.7 L1189.0,597.3 L1187.0,597.7 L1185.0,597.2 L1183.0,597.0 L1181.0,597.0 L1179.0,597.0 L1176.9,596.9 L1174.9,596.2 L1172.9,597.1 L1170.9,596.5 L1168.9,597.3 L1166.9,596.7 L1164.8,595.8 L1162.8,597.1 L1160.8,596.2 L1158.8,597.1 L1156.8,597.7 L1154.8,597.4 L1152.7,597.2 L1150.7,596.9 L1148.7,596.5 L1146.7,596.6 L1144.7,596.6 L1142.7,596.8 L1140.6,597.2 L1138.6,597.7 L1136.6,598.5 L1134.6,599.0 L1132.6,598.7 L1130.5,599.2 L1128.5,598.8 L1126.5,599.5 L1124.5,598.1 L1122.5,598.1 L1120.4,597.9 L1118.4,598.2 L1116.4,597.8 L1114.4,598.8 L1112.4,598.8 L1110.3,599.6 L1108.3,600.3 L1106.3,600.3 L1104.3,600.5 L1102.3,600.5 L1100.2,600.0 L1098.2,599.9 L1096.2,600.0 L1094.1,600.7 L1092.0,601.7 L1089.9,602.6 L1087.8,604.1 L1085.7,605.4 L1083.6,605.5 L1081.5,606.4 L1079.4,607.3 L1077.3,606.7 L1075.2,607.7 L1073.1,607.8 L1071.0,608.5 L1068.9,610.1 L1066.8,610.2 L1064.7,610.8 L1062.6,612.4 L1060.4,613.9 L1058.1,616.4 L1055.9,618.8 L1053.7,620.2 L1051.4,623.5 L1049.2,626.4 L1047.1,630.0 L1045.1,633.1 L1043.0,635.3 L1040.9,638.1 L1038.9,640.9 L1036.8,642.6 L1034.7,645.4 L1032.6,648.3 L1030.6,651.7 L1028.5,654.9 L1026.4,657.6 L1024.4,659.8 L1022.3,662.9 L1020.0,666.6 L1017.8,669.3 L1015.5,672.9 L1013.3,676.0 L1011.0,679.2 L1008.8,681.2 L1006.6,682.4 L1004.3,681.1 L1002.1,681.7 L999.9,680.6 L997.6,682.1 L995.4,680.7 L993.3,679.8 L991.2,677.9 L989.1,675.8 L987.0,674.2 L984.9,672.0 L982.8,669.8 L980.7,668.1 L978.6,666.8 L976.5,665.9 L974.4,664.5 L972.3,663.7 L970.2,662.2 L968.0,660.2 L965.9,658.6 L963.8,658.4 L961.7,656.6 L959.7,653.9 L957.7,650.0 L955.7,646.5 L953.7,643.1 L951.7,640.0 L949.7,639.6 L947.6,639.1 L945.6,639.0 L943.6,640.0 L941.5,640.4 L939.5,640.4 L937.5,640.1 L935.4,640.2 L933.4,641.2 L931.4,641.3 L929.3,641.5 L927.3,641.3 L925.2,641.4 L923.2,640.9 L921.2,640.7 L919.1,641.3 L917.1,641.5 L915.1,642.5 L913.0,642.2 L911.0,643.6 L908.8,642.8 L906.6,644.0 L904.4,644.5 L902.2,644.9 L900.0,646.0 L897.9,645.9 L895.7,645.5 L893.6,645.4 L891.4,645.3 L889.3,644.4 L887.1,643.4 L885.0,642.5 L882.9,642.4 L880.7,643.1 L878.6,644.5 L876.4,644.5 L874.3,646.4 L872.1,647.4 L870.0,648.0 L867.9,646.9 L865.7,646.1 L863.6,645.9 L861.4,645.4 L859.3,644.5 L857.1,644.0 L855.0,643.8 L852.9,643.5 L850.7,644.8 L848.6,645.6 L846.4,646.7 L844.3,646.2 L842.1,646.1 L840.0,646.9 L837.9,646.8 L835.7,646.0 L833.6,645.9 L831.4,645.9 L829.3,645.9 L827.1,644.6 L825.0,643.8 L822.9,643.8 L820.7,644.1 L818.6,644.2 L816.4,644.9 L814.3,645.1 L812.1,646.2 L810.0,646.4 L807.9,646.0 L805.7,645.2 L803.6,644.4 L801.4,644.0 L799.3,643.3 L797.1,642.7 L795.0,642.5 L792.9,643.6 L790.7,645.1 L788.6,645.8 L786.4,646.4 L784.3,647.8 L782.1,648.4 L780.0,648.9 L777.9,648.5 L775.7,648.1 L773.6,648.2 L771.5,648.5 L769.4,648.3 L767.2,648.0 L765.1,648.1 L763.0,647.5 L760.9,647.0 L758.8,646.7 L756.7,645.8 L754.6,646.7 L752.6,645.7 L750.5,645.8 L748.4,644.9 L746.3,644.3 L744.2,643.7 L742.1,642.9 L740.0,641.8 L737.9,641.3 L735.8,640.7 L733.7,639.5 L731.7,639.4 L729.6,639.3 L727.5,638.1 L725.4,637.8 L723.3,637.4 L721.2,636.9 L719.0,636.2 L716.8,635.3 L714.6,635.5 L712.4,634.8 L710.2,634.6 L708.1,633.8 L705.9,634.3 L703.7,633.5 L701.5,632.8 L699.3,632.5 L697.2,631.2 L695.1,629.5 L693.0,628.9 L690.9,628.7 L688.8,627.7 L686.8,627.0 L684.7,626.4 L682.6,624.9 L680.5,624.3 L678.4,624.0 L676.3,622.1 L674.2,621.0 L672.1,620.2 L670.0,619.8 L667.9,618.4 L665.9,616.7 L663.8,615.9 L661.7,615.0 L659.6,614.3 L657.5,613.1 L655.4,612.6 L653.2,611.9 L651.0,611.5 L648.8,611.1 L646.6,611.0 L644.5,611.4 L642.3,611.3 L640.1,610.9 L637.9,611.3 L635.7,610.5 L633.5,611.0 L631.3,610.6 L629.1,612.1 L626.9,611.8 L624.7,611.9 L622.5,612.7 L620.4,613.2 L618.2,613.1 L616.0,613.0 L613.8,613.1 L611.6,612.8 L609.5,615.0 L607.5,615.8 L605.4,616.6 L603.4,617.7 L601.3,618.3 L599.3,619.0 L597.2,620.4 L595.2,620.7 L593.1,620.3 L591.0,621.0 L589.0,620.8 L586.9,621.3 L584.9,622.3 L582.8,623.2 L580.8,623.8 L578.7,624.4 L576.6,626.0 L574.6,626.1 L572.5,627.4 L570.5,627.2 L568.4,627.9 L566.4,628.1 L564.3,630.2 L562.2,630.6 L560.2,631.0 L558.1,631.9 L556.1,633.8 L554.0,633.8 L552.0,634.1 L549.9,635.7 L547.9,635.8 L545.8,636.6 L543.7,637.2 L541.6,638.1 L539.6,638.6 L537.5,638.6 L535.4,639.2 L533.3,639.3 L531.2,639.5 L529.1,639.6 L527.1,640.3 L525.0,640.4 L522.9,639.2 L520.8,639.3 L518.7,640.9 L516.7,641.3 L514.6,641.6 L512.5,640.8 L510.4,641.5 L508.3,642.4 L506.2,642.2 L504.2,642.6 L502.1,643.6 L500.0,643.6 L498.0,643.2 L496.0,642.7 L493.9,643.5 L491.9,643.1 L489.9,642.8 L487.9,642.5 L485.9,642.6 L483.9,642.9 L481.8,642.8 L479.8,642.9 L477.8,641.5 L475.8,641.0 L473.8,639.6 L471.8,638.9 L469.7,640.3 L467.7,640.5 L465.7,640.5 L463.7,641.3 L461.7,640.9 L459.6,640.8 L457.6,641.7 L455.6,641.1 L453.6,640.8 L451.6,641.0 L449.6,640.3 L447.5,641.1 L445.5,641.0 L443.5,640.5 L441.5,639.6 L439.5,639.7 L437.5,639.3 L435.4,639.0 L433.4,638.9 L431.4,639.0 L429.4,638.9 L427.4,639.1 L425.4,639.0 L423.3,639.7 L421.3,640.0 L419.3,640.0 L417.1,639.7 L414.9,639.8 L412.7,640.7 L410.5,641.1 L408.4,641.5 L406.2,641.9 L404.0,642.5 L401.8,641.6 L399.6,641.1 L397.4,642.2 L395.3,642.3 L393.2,641.6 L391.1,641.8 L389.0,642.2 L386.9,641.6 L384.9,641.7 L382.8,642.2 L380.7,642.2 L378.6,643.5 L376.5,642.9 L374.4,642.8 L372.3,642.4 L370.2,642.9 L368.1,643.0 L366.0,643.1 L364.0,643.0 L361.9,642.6 L359.8,642.6 L357.7,643.0 L355.6,643.2 L353.5,643.7 L351.3,644.3 L349.1,645.4 L346.9,645.7 L344.8,646.8 L342.6,647.7 L340.4,648.1 L338.3,647.7 L336.3,647.3 L334.2,647.9 L332.2,648.0 L330.1,647.8 L328.1,648.5 L326.0,649.2 L324.0,649.2 L321.9,648.7 L319.9,648.1 L317.8,648.6 L315.8,649.1 L313.7,650.1 L311.7,650.7 L309.6,650.7 L307.6,650.8 L305.5,650.4 L303.5,650.9 L301.4,650.0 L299.4,650.3 L297.3,650.2 L295.2,649.4 L293.2,648.9 L291.2,648.2 L289.1,648.4 L287.1,648.7 L285.0,648.9 L282.9,648.8 L280.9,647.7 L278.9,647.1 L276.8,646.9 L274.8,646.2 L272.8,645.7 L270.8,645.4 L268.7,646.3 L266.7,645.3 L264.7,645.3 L262.7,644.6 L260.7,644.5 L258.6,644.4 L256.6,643.7 L254.6,642.4 L252.6,641.9 L250.6,641.5 L248.5,641.4 L246.5,641.2 L244.5,640.6 L242.4,639.9 L240.4,640.4 L238.4,640.5 L236.3,640.4 L234.3,640.5 L232.3,639.2 L230.3,639.6 L228.2,640.1 L226.2,640.6 L224.2,639.6 L222.1,639.8 L220.1,639.1 L218.1,638.8 L216.0,638.3 L214.0,638.4 Z" fill="#ecc8ae" fill-opacity="0.4"/>
<path d="M214.0,623.9 L216.0,623.6 L218.0,624.1 L220.0,623.8 L222.0,623.9 L224.0,623.6 L226.0,623.0 L228.0,623.9 L230.0,624.1 L232.0,624.1 L234.0,622.9 L236.2,621.9 L238.4,619.9 L240.6,619.6 L242.8,620.4 L245.0,621.1 L247.1,618.9 L249.2,617.2 L251.3,614.1 L253.4,610.4 L255.5,607.9 L257.6,605.1 L259.7,602.9 L261.8,601.8 L263.9,599.7 L266.0,596.9 L268.1,595.3 L270.2,594.0 L272.2,593.1 L274.2,591.6 L276.3,590.7 L278.3,591.5 L280.3,591.8 L282.3,591.0 L284.4,590.0 L286.4,589.7 L288.4,590.3 L290.4,589.6 L292.5,588.7 L294.5,588.5 L296.5,589.2 L298.7,590.9 L300.9,592.9 L303.1,594.1 L305.3,595.1 L307.5,595.9 L309.7,596.5 L311.8,597.3 L314.0,597.9 L316.2,599.7 L318.4,600.5 L320.6,601.9 L322.8,603.9 L325.0,603.9 L327.2,605.1 L329.4,607.5 L331.6,608.9 L333.8,610.5 L336.0,612.3 L338.2,613.6 L340.4,614.8 L342.6,615.8 L344.8,616.9 L347.0,618.1 L349.1,619.2 L351.3,620.7 L353.5,621.4 L355.7,623.3 L357.9,623.7 L360.1,624.1 L362.3,624.3 L364.5,623.8 L366.6,623.2 L368.8,623.6 L371.0,624.3 L373.2,623.8 L375.4,623.9 L377.5,623.9 L379.6,623.8 L381.7,623.8 L383.8,623.6 L385.9,623.2 L387.9,623.0 L390.0,623.0 L392.1,623.4 L394.2,622.4 L396.3,622.8 L398.4,623.2 L400.5,622.8 L402.6,622.6 L404.7,622.1 L406.8,622.1 L408.8,621.0 L410.9,620.3 L413.0,619.6 L415.1,619.4 L417.2,620.1 L419.3,619.9 L421.5,621.0 L423.7,621.4 L425.9,621.8 L428.1,621.4 L430.2,620.9 L432.4,621.6 L434.6,621.9 L436.8,622.8 L439.0,623.1 L441.2,623.3 L443.3,623.7 L445.4,624.0 L447.5,624.2 L449.6,624.0 L451.7,624.2 L453.7,624.1 L455.8,623.1 L457.9,623.2 L460.0,623.8 L462.1,624.4 L464.2,624.7 L466.3,624.6 L468.4,625.7 L470.5,625.5 L472.6,625.2 L474.6,625.0 L476.7,625.3 L478.8,625.0 L480.9,625.3 L483.0,626.7 L485.1,626.6 L487.1,626.4 L489.2,626.8 L491.2,626.6 L493.3,626.3 L495.3,626.6 L497.4,625.5 L499.4,625.4 L501.4,625.0 L503.5,624.6 L505.5,624.1 L507.6,624.0 L509.6,624.9 L511.6,624.5 L513.7,623.9 L515.7,624.3 L517.8,623.3 L519.8,623.2 L521.9,622.4 L523.9,623.0 L526.0,622.4 L528.1,622.2 L530.2,621.7 L532.2,621.4 L534.3,621.1 L536.4,621.0 L538.5,620.4 L540.6,620.6 L542.7,620.5 L544.8,620.2 L546.8,620.3 L548.9,620.4 L551.0,619.4 L553.1,618.8 L555.2,618.5 L557.3,618.5 L559.4,617.9 L561.4,618.6 L563.5,618.2 L565.6,617.7 L567.7,617.6 L569.9,617.1 L572.1,617.3 L574.3,617.1 L576.5,617.4 L578.7,617.0 L580.9,617.4 L583.1,617.1 L585.3,616.9 L587.5,616.6 L589.6,614.6 L591.8,613.6 L594.0,614.2 L596.2,614.7 L598.4,615.8 L600.6,617.7 L602.8,618.6 L605.0,619.6 L607.2,619.7 L609.4,620.2 L611.6,621.6 L613.7,621.4 L615.7,621.7 L617.8,622.6 L619.8,622.0 L621.9,622.8 L623.9,622.9 L626.0,624.2 L628.0,624.5 L630.1,625.0 L632.2,625.9 L634.2,626.0 L636.3,626.4 L638.3,626.4 L640.4,626.0 L642.4,627.2 L644.5,627.8 L646.6,628.0 L648.6,629.0 L650.7,629.4 L652.7,629.9 L654.8,631.1 L656.8,632.4 L658.9,632.4 L661.0,633.3 L663.0,634.2 L665.1,633.8 L667.1,634.4 L669.2,634.7 L671.2,634.9 L673.3,635.4 L675.3,636.5 L677.4,636.2 L679.5,635.9 L681.5,635.7 L683.6,636.0 L685.6,636.3 L687.7,636.4 L689.7,636.4 L691.8,636.2 L693.8,636.0 L695.9,635.3 L698.0,635.8 L700.0,635.8 L702.1,636.0 L704.1,635.7 L706.2,636.2 L708.2,635.9 L710.3,635.1 L712.5,634.3 L714.7,634.2 L716.9,633.6 L719.1,633.9 L721.2,632.4 L723.4,632.0 L725.6,631.9 L727.8,631.6 L730.0,632.9 L732.2,634.4 L734.4,637.3 L736.5,637.4 L738.5,636.8 L740.6,636.9 L742.6,635.5 L744.7,634.9 L746.8,633.9 L748.8,633.5 L750.9,634.1 L752.9,633.7 L755.0,633.9 L757.3,633.8 L759.7,633.5 L762.0,635.7 L763.5,640.1 L765.6,642.3 L767.6,641.6 L769.7,640.9 L771.7,640.3 L773.8,639.1 L775.8,638.3 L777.9,637.2 L779.9,636.9 L782.0,636.8 L784.0,636.6 L786.1,634.8 L788.1,634.2 L790.2,633.5 L790.3,636.1 L791.8,640.6 L793.9,643.1 L796.0,642.4 L798.1,642.2 L800.2,640.3 L802.3,639.2 L804.4,638.5 L806.5,638.0 L808.6,637.2 L810.7,636.6 L812.8,636.3 L814.9,635.3 L817.0,634.6 L819.1,633.8 L819.2,635.7 L820.7,641.0 L822.8,643.7 L824.9,642.8 L827.0,641.5 L829.1,641.4 L831.2,640.1 L833.3,640.2 L835.5,639.9 L837.6,638.4 L839.7,637.7 L841.8,637.1 L843.9,636.4 L846.0,635.6 L848.1,634.6 L848.2,636.9 L849.7,641.1 L851.8,643.3 L853.9,643.0 L856.0,642.1 L858.1,642.6 L860.2,640.7 L862.3,639.9 L864.4,639.0 L866.5,638.1 L868.6,637.8 L870.7,637.1 L872.8,636.3 L874.9,635.0 L877.0,634.3 L877.1,636.5 L878.6,641.8 L880.7,644.2 L882.8,642.8 L884.9,642.8 L887.0,641.5 L889.1,641.2 L891.2,640.7 L893.3,639.3 L895.4,638.6 L897.5,638.1 L899.6,637.4 L901.7,636.1 L903.8,635.8 L905.9,635.0 L906.0,637.1 L907.5,642.6 L909.5,644.2 L911.6,644.1 L913.6,642.4 L915.6,642.5 L917.7,641.7 L919.7,641.5 L921.7,640.5 L923.7,639.8 L925.8,639.0 L927.8,638.0 L929.8,636.5 L931.9,635.5 L933.9,634.2 L936.1,632.4 L938.3,630.3 L940.6,628.0 L942.8,625.8 L945.0,623.7 L947.1,621.3 L949.1,619.4 L951.2,617.9 L953.2,615.3 L955.3,613.7 L957.4,613.3 L959.4,611.2 L961.5,609.6 L963.6,607.2 L965.6,605.8 L967.7,603.9 L969.7,601.8 L971.8,600.2 L973.9,600.0 L976.1,599.5 L978.2,600.4 L980.4,600.8 L982.5,601.3 L984.7,602.1 L986.8,602.4 L989.0,603.3 L991.1,603.7 L993.3,603.6 L995.4,604.3 L997.5,605.1 L999.6,606.3 L1001.7,607.5 L1003.8,608.7 L1005.9,609.2 L1008.0,610.0 L1010.1,611.2 L1012.2,612.3 L1014.3,614.4 L1016.4,615.4 L1018.5,617.3 L1020.6,618.8 L1022.7,620.0 L1024.8,621.5 L1026.9,623.0 L1029.0,624.7 L1031.1,625.4 L1033.2,625.6 L1035.3,626.0 L1037.4,626.6 L1039.5,627.0 L1041.6,627.8 L1043.7,627.5 L1045.8,627.4 L1047.9,627.1 L1050.0,626.6 L1052.1,627.1 L1054.2,627.9 L1056.3,628.3 L1058.4,628.0 L1060.5,627.8 L1062.6,628.2 L1064.6,628.7 L1066.7,629.5 L1068.7,629.2 L1070.8,629.4 L1072.8,629.8 L1074.8,629.6 L1076.9,628.7 L1078.9,628.9 L1081.0,628.9 L1083.0,629.2 L1085.0,627.9 L1087.1,628.1 L1089.1,628.8 L1091.2,628.2 L1093.2,628.7 L1095.2,629.3 L1097.3,628.8 L1099.3,629.2 L1101.3,628.5 L1103.4,628.2 L1105.4,628.8 L1107.5,629.2 L1109.5,629.6 L1111.5,630.1 L1113.6,630.4 L1115.6,630.9 L1117.7,630.8 L1119.7,631.1 L1121.7,631.5 L1123.8,632.4 L1125.8,631.6 L1127.9,631.8 L1129.9,632.8 L1131.9,632.8 L1134.0,631.9 L1136.0,632.4 L1138.0,632.5 L1140.1,632.3 L1142.1,631.9 L1144.2,632.6 L1146.2,632.2 L1148.2,632.3 L1150.3,632.3 L1152.3,632.7 L1154.3,633.6 L1156.4,633.2 L1158.4,633.1 L1160.4,632.6 L1162.5,632.9 L1164.5,632.8 L1166.6,633.2 L1168.6,633.1 L1170.6,633.9 L1172.7,633.9 L1174.7,634.2 L1176.7,634.3 L1178.8,634.1 L1180.8,634.1 L1182.8,634.5 L1184.9,634.6 L1186.9,634.7 L1189.0,634.6 L1191.0,634.7 L1193.0,634.7 L1195.1,635.2 L1197.1,634.6 L1197.1,646.7 L1195.1,646.3 L1193.0,646.8 L1191.0,646.7 L1189.0,646.0 L1186.9,646.0 L1184.9,645.5 L1182.8,645.3 L1180.8,645.0 L1178.8,645.4 L1176.7,645.6 L1174.7,646.0 L1172.7,646.1 L1170.6,646.2 L1168.6,645.9 L1166.6,646.6 L1164.5,646.2 L1162.5,647.0 L1160.4,647.5 L1158.4,647.0 L1156.4,646.4 L1154.3,646.8 L1152.3,646.3 L1150.3,646.5 L1148.2,646.9 L1146.2,647.0 L1144.2,647.5 L1142.1,647.4 L1140.1,646.2 L1138.0,646.4 L1136.0,646.5 L1134.0,646.4 L1131.9,646.8 L1129.9,646.7 L1127.9,645.9 L1125.8,645.1 L1123.8,645.5 L1121.7,645.6 L1119.7,644.7 L1117.7,644.9 L1115.6,644.9 L1113.6,644.9 L1111.5,644.9 L1109.5,644.2 L1107.5,644.1 L1105.4,642.7 L1103.4,643.2 L1101.3,643.7 L1099.3,644.5 L1097.3,643.8 L1095.2,643.9 L1093.2,644.1 L1091.2,643.5 L1089.1,643.3 L1087.1,642.6 L1085.0,642.4 L1083.0,642.3 L1081.0,642.6 L1078.9,641.8 L1076.9,641.6 L1074.8,641.2 L1072.8,641.3 L1070.8,640.4 L1068.7,640.7 L1066.7,640.5 L1064.6,639.8 L1062.6,639.7 L1060.5,639.4 L1058.4,639.7 L1056.3,639.0 L1054.2,638.4 L1052.1,638.0 L1050.0,637.4 L1047.9,637.0 L1045.8,636.4 L1043.7,635.3 L1041.6,635.6 L1039.5,634.8 L1037.4,634.4 L1035.3,633.8 L1033.2,633.4 L1031.1,633.2 L1029.0,632.6 L1026.9,630.8 L1024.8,629.3 L1022.7,627.8 L1020.6,626.6 L1018.5,625.1 L1016.4,623.2 L1014.3,622.2 L1012.2,621.0 L1010.1,620.1 L1008.0,618.1 L1005.9,617.0 L1003.8,616.7 L1001.7,616.5 L999.6,614.5 L997.5,613.7 L995.4,612.5 L993.3,612.1 L991.1,612.8 L989.0,612.8 L986.8,611.7 L984.7,611.6 L982.5,611.6 L980.4,611.2 L978.2,611.3 L976.1,610.8 L973.9,611.6 L971.8,612.3 L969.7,614.0 L967.7,615.7 L965.6,616.5 L963.6,617.9 L961.5,620.2 L959.4,622.3 L957.4,624.5 L955.3,625.1 L953.2,627.1 L951.2,629.3 L949.1,631.0 L947.1,632.1 L945.0,633.5 L942.8,635.4 L940.6,636.7 L938.3,638.8 L936.1,640.3 L933.9,642.0 L931.9,643.4 L929.8,644.3 L927.8,645.8 L925.8,646.8 L923.7,648.0 L921.7,649.0 L919.7,649.3 L917.7,649.5 L915.6,650.4 L913.6,650.8 L911.6,651.9 L909.5,652.4 L907.5,650.5 L906.0,645.5 L905.9,642.8 L903.8,643.8 L901.7,644.5 L899.6,645.8 L897.5,647.2 L895.4,647.8 L893.3,648.7 L891.2,648.5 L889.1,649.0 L887.0,649.3 L884.9,650.7 L882.8,651.4 L880.7,652.0 L878.6,650.3 L877.1,645.0 L877.0,643.2 L874.9,643.2 L872.8,644.1 L870.7,644.9 L868.6,645.6 L866.5,646.0 L864.4,647.6 L862.3,649.5 L860.2,650.2 L858.1,652.0 L856.0,652.7 L853.9,654.0 L851.8,654.5 L849.7,652.5 L848.2,647.3 L848.1,645.1 L846.0,645.6 L843.9,646.7 L841.8,647.4 L839.7,647.8 L837.6,647.8 L835.5,649.1 L833.3,650.2 L831.2,650.3 L829.1,652.2 L827.0,651.6 L824.9,653.4 L822.8,654.1 L820.7,651.7 L819.2,647.1 L819.1,644.9 L817.0,645.4 L814.9,645.1 L812.8,646.9 L810.7,648.1 L808.6,648.9 L806.5,649.4 L804.4,649.5 L802.3,650.1 L800.2,651.3 L798.1,651.9 L796.0,653.5 L793.9,654.6 L791.8,652.8 L790.3,648.4 L790.2,645.9 L788.1,646.6 L786.1,647.3 L784.0,648.6 L782.0,648.8 L779.9,650.7 L777.9,650.8 L775.8,651.5 L773.8,653.0 L771.7,653.7 L769.7,654.2 L767.6,654.5 L765.6,655.2 L763.5,653.9 L762.0,649.5 L759.7,647.5 L757.3,648.4 L755.0,648.5 L752.9,648.9 L750.9,649.3 L748.8,649.3 L746.8,649.8 L744.7,650.8 L742.6,651.6 L740.6,652.8 L738.5,653.3 L736.5,652.9 L734.4,652.9 L732.2,650.3 L730.0,648.3 L727.8,647.8 L725.6,648.9 L723.4,648.4 L721.2,649.4 L719.1,650.5 L716.9,649.6 L714.7,650.9 L712.5,651.2 L710.3,651.8 L708.2,652.9 L706.2,652.5 L704.1,652.5 L702.1,653.1 L700.0,652.4 L698.0,651.9 L695.9,652.6 L693.8,652.4 L691.8,652.8 L689.7,654.0 L687.7,653.9 L685.6,654.0 L683.6,653.9 L681.5,653.9 L679.5,653.8 L677.4,654.4 L675.3,653.5 L673.3,652.1 L671.2,651.3 L669.2,651.6 L667.1,651.0 L665.1,650.0 L663.0,649.0 L661.0,647.7 L658.9,647.6 L656.8,647.6 L654.8,646.7 L652.7,646.2 L650.7,645.0 L648.6,644.3 L646.6,643.1 L644.5,643.6 L642.4,642.7 L640.4,641.9 L638.3,641.7 L636.3,642.2 L634.2,641.7 L632.2,641.1 L630.1,640.3 L628.0,639.2 L626.0,638.8 L623.9,637.1 L621.9,636.6 L619.8,636.8 L617.8,636.2 L615.7,635.9 L613.7,635.2 L611.6,634.9 L609.4,632.8 L607.2,631.6 L605.0,630.1 L602.8,629.0 L600.6,627.9 L598.4,626.7 L596.2,624.6 L594.0,623.2 L591.8,622.2 L589.6,623.5 L587.5,624.8 L585.3,625.0 L583.1,625.3 L580.9,625.2 L578.7,624.8 L576.5,625.9 L574.3,625.7 L572.1,625.4 L569.9,625.6 L567.7,626.3 L565.6,626.1 L563.5,626.0 L561.4,626.4 L559.4,625.7 L557.3,626.6 L555.2,626.3 L553.1,626.6 L551.0,627.2 L548.9,628.2 L546.8,628.1 L544.8,628.0 L542.7,628.6 L540.6,629.2 L538.5,629.6 L536.4,629.9 L534.3,630.2 L532.2,630.0 L530.2,629.7 L528.1,630.4 L526.0,630.3 L523.9,631.0 L521.9,630.2 L519.8,631.0 L517.8,631.1 L515.7,632.2 L513.7,632.1 L511.6,632.3 L509.6,632.7 L507.6,632.2 L505.5,632.9 L503.5,634.0 L501.4,633.9 L499.4,633.5 L497.4,633.7 L495.3,634.4 L493.3,634.1 L491.2,634.4 L489.2,634.6 L487.1,634.2 L485.1,634.6 L483.0,635.0 L480.9,633.8 L478.8,632.8 L476.7,633.2 L474.6,633.4 L472.6,633.0 L470.5,633.3 L468.4,633.5 L466.3,632.8 L464.2,633.1 L462.1,633.5 L460.0,632.9 L457.9,632.8 L455.8,632.9 L453.7,632.7 L451.7,632.3 L449.6,632.7 L447.5,632.0 L445.4,631.8 L443.3,631.5 L441.2,631.3 L439.0,630.9 L436.8,630.6 L434.6,630.1 L432.4,629.4 L430.2,629.1 L428.1,629.2 L425.9,629.6 L423.7,629.2 L421.5,628.8 L419.3,628.4 L417.2,627.9 L415.1,627.6 L413.0,629.1 L410.9,629.5 L408.8,630.2 L406.8,629.9 L404.7,629.9 L402.6,630.6 L400.5,630.8 L398.4,631.0 L396.3,630.6 L394.2,630.2 L392.1,631.8 L390.0,631.8 L387.9,632.5 L385.9,632.6 L383.8,633.5 L381.7,633.8 L379.6,633.6 L377.5,634.4 L375.4,633.8 L373.2,634.0 L371.0,634.9 L368.8,633.7 L366.6,633.0 L364.5,633.0 L362.3,632.8 L360.1,633.0 L357.9,633.2 L355.7,633.0 L353.5,630.2 L351.3,629.2 L349.1,628.7 L347.0,626.8 L344.8,625.6 L342.6,624.2 L340.4,622.6 L338.2,621.4 L336.0,620.1 L333.8,618.3 L331.6,617.2 L329.4,615.9 L327.2,614.1 L325.0,612.1 L322.8,611.7 L320.6,609.7 L318.4,608.5 L316.2,607.5 L314.0,606.1 L311.8,605.1 L309.7,604.5 L307.5,603.7 L305.3,603.0 L303.1,602.1 L300.9,601.1 L298.7,600.3 L296.5,598.4 L294.5,597.2 L292.5,598.9 L290.4,599.9 L288.4,600.0 L286.4,599.1 L284.4,599.7 L282.3,601.0 L280.3,601.8 L278.3,601.1 L276.3,601.1 L274.2,601.3 L272.2,602.4 L270.2,604.2 L268.1,605.8 L266.0,607.4 L263.9,611.0 L261.8,613.1 L259.7,615.8 L257.6,617.3 L255.5,620.7 L253.4,623.4 L251.3,626.2 L249.2,628.4 L247.1,631.1 L245.0,631.9 L242.8,631.3 L240.6,630.2 L238.4,630.5 L236.2,633.2 L234.0,633.8 L232.0,634.6 L230.0,635.2 L228.0,635.3 L226.0,635.3 L224.0,635.6 L222.0,636.5 L220.0,636.0 L218.0,635.7 L216.0,636.2 L214.0,636.3 Z" fill="#eaa9a6" fill-opacity="0.42"/>
<path d="M214.0,631.4 L216.0,631.5 L218.1,631.0 L220.1,630.4 L222.2,630.6 L224.2,630.7 L226.3,630.5 L228.3,630.5 L230.4,629.7 L232.4,629.4 L234.5,629.5 L236.5,629.5 L238.6,628.9 L240.6,629.2 L242.7,628.4 L244.7,629.1 L246.8,628.5 L248.8,628.3 L250.9,627.9 L252.9,627.5 L255.0,627.6 L257.0,627.1 L259.1,627.6 L261.2,628.3 L263.3,628.7 L265.4,629.2 L267.5,629.0 L269.5,628.9 L271.6,629.1 L273.7,630.3 L275.8,630.9 L277.9,630.5 L280.0,631.8 L282.1,632.3 L284.2,632.9 L286.3,633.3 L288.4,633.8 L290.4,633.1 L292.5,633.5 L294.6,633.5 L296.7,634.7 L298.8,635.0 L300.9,635.2 L302.9,635.5 L304.9,635.3 L307.0,636.4 L309.0,636.9 L311.0,638.3 L313.0,639.2 L315.1,639.7 L317.1,640.1 L319.1,641.2 L321.1,641.5 L323.2,642.6 L325.2,643.2 L327.2,643.5 L329.2,643.8 L331.2,644.5 L333.3,643.6 L335.3,644.1 L337.3,644.4 L339.3,644.2 L341.4,644.8 L343.4,644.9 L345.4,644.9 L347.4,644.4 L349.5,644.7 L351.5,644.2 L353.5,644.8 L355.6,646.1 L357.7,646.1 L359.8,647.4 L361.9,647.3 L364.0,648.0 L366.0,649.0 L368.1,649.0 L370.2,649.9 L372.3,650.4 L374.4,650.9 L376.5,652.1 L378.6,652.7 L380.7,653.6 L382.8,654.2 L384.9,655.0 L386.9,656.2 L389.0,656.6 L391.1,657.0 L393.2,657.6 L395.3,658.5 L397.4,659.1 L399.5,658.2 L401.6,658.4 L403.7,658.8 L405.7,659.8 L407.8,659.2 L409.9,658.9 L412.0,658.4 L414.1,658.6 L416.2,658.0 L418.3,658.0 L420.3,658.3 L422.4,657.9 L424.5,658.2 L426.6,658.2 L428.7,658.9 L430.8,659.5 L432.9,660.1 L434.9,659.6 L437.0,659.6 L439.1,660.2 L441.2,659.3 L443.3,659.4 L445.3,658.3 L447.4,658.2 L449.4,656.9 L451.5,656.4 L453.5,656.1 L455.6,655.7 L457.6,654.6 L459.7,654.6 L461.8,654.3 L463.8,654.6 L465.9,654.3 L467.9,652.9 L470.0,652.7 L472.0,652.9 L474.1,652.3 L476.3,651.3 L478.4,650.1 L480.6,649.5 L482.7,648.6 L484.9,648.1 L487.1,647.4 L489.2,647.4 L491.4,646.2 L493.5,645.7 L495.7,644.5 L497.8,644.1 L500.0,643.7 L502.0,642.2 L504.0,640.5 L506.0,639.5 L508.1,638.3 L510.1,636.9 L512.1,635.9 L514.1,634.7 L516.1,633.7 L518.1,631.8 L520.1,631.0 L522.2,630.2 L524.2,628.4 L526.2,628.0 L528.2,626.3 L530.4,623.6 L532.6,621.0 L534.8,618.8 L537.0,616.6 L539.2,614.5 L541.4,612.6 L543.6,610.4 L545.8,608.3 L548.0,606.0 L550.2,603.5 L552.4,601.7 L554.5,599.7 L556.7,598.5 L558.9,595.7 L561.1,594.7 L563.3,592.2 L565.3,592.1 L567.3,592.3 L569.3,592.0 L571.4,591.8 L573.4,592.4 L575.4,592.0 L577.4,592.0 L579.4,592.1 L581.5,592.3 L583.5,591.7 L585.5,592.3 L587.5,591.2 L589.6,588.9 L591.8,585.8 L594.0,586.5 L596.2,587.6 L598.4,589.1 L600.6,590.0 L602.8,591.6 L605.0,592.7 L607.2,593.2 L609.4,595.7 L611.6,596.7 L613.8,599.0 L616.0,601.2 L618.2,603.4 L620.4,605.7 L622.5,608.6 L624.7,611.3 L626.9,613.9 L629.1,615.4 L631.3,618.2 L633.5,619.7 L635.6,622.5 L637.6,623.8 L639.7,625.5 L641.7,626.7 L643.8,628.0 L645.8,629.0 L647.9,631.3 L650.0,632.3 L652.0,634.0 L654.1,634.9 L656.1,636.3 L658.2,637.6 L660.2,639.1 L662.3,640.4 L664.3,642.2 L666.4,643.7 L668.5,644.0 L670.5,645.0 L672.6,645.6 L674.6,647.3 L676.7,647.8 L678.7,649.1 L680.8,650.2 L682.8,651.1 L684.9,651.3 L687.0,653.3 L689.0,654.1 L691.1,655.3 L693.1,656.6 L695.2,656.9 L697.2,657.5 L699.3,659.0 L701.4,659.9 L703.4,659.3 L705.5,659.2 L707.5,659.6 L709.6,659.4 L711.6,659.9 L713.7,659.9 L715.8,659.7 L717.8,659.9 L719.9,659.6 L721.9,660.2 L724.0,659.7 L726.0,660.3 L728.1,661.1 L730.1,660.0 L732.2,660.5 L734.4,659.2 L736.6,658.7 L738.8,658.9 L741.0,658.6 L743.2,658.0 L745.3,657.2 L747.5,656.5 L749.7,656.0 L751.9,655.2 L754.1,652.5 L758.0,646.8 L760.0,643.2 L762.0,645.1 L763.5,653.6 L765.6,657.0 L767.6,655.4 L769.7,653.4 L771.7,651.9 L773.8,650.6 L775.8,649.1 L777.9,647.7 L779.9,645.4 L782.0,644.3 L784.0,643.1 L786.1,641.8 L788.1,640.5 L790.2,639.0 L790.3,643.2 L791.8,652.8 L793.9,655.8 L796.0,654.4 L798.1,652.8 L800.2,651.6 L802.3,650.2 L804.4,649.8 L806.5,647.7 L808.6,646.9 L810.7,645.2 L812.8,643.9 L814.9,643.5 L817.0,641.6 L819.1,640.3 L819.2,643.1 L820.7,652.0 L822.8,655.7 L824.9,654.5 L827.0,653.3 L829.1,651.5 L831.2,650.0 L833.3,649.1 L835.5,647.7 L837.6,646.4 L839.7,645.3 L841.8,643.9 L843.9,642.5 L846.0,640.6 L848.1,639.7 L848.2,643.2 L849.7,652.9 L851.8,656.0 L853.9,655.3 L856.0,653.5 L858.1,652.0 L860.2,651.2 L862.3,649.6 L864.4,648.2 L866.5,646.5 L868.6,645.0 L870.7,643.4 L872.8,641.8 L874.9,639.9 L877.0,639.2 L877.1,643.3 L878.6,652.8 L880.7,657.1 L882.8,656.1 L884.9,653.7 L887.0,652.1 L889.1,650.6 L891.2,648.6 L893.3,648.1 L895.4,646.9 L897.5,645.5 L899.6,644.7 L901.7,643.1 L903.8,641.3 L905.9,640.2 L906.0,644.1 L907.5,652.9 L909.5,655.8 L911.6,654.7 L913.6,653.3 L915.6,651.8 L917.7,650.3 L919.7,649.0 L921.7,647.0 L923.7,646.2 L925.8,644.9 L927.8,644.3 L929.8,642.7 L931.9,641.5 L933.9,639.3 L936.0,636.0 L938.1,631.7 L940.2,627.9 L942.3,624.1 L944.5,619.5 L946.6,616.2 L948.7,612.5 L950.8,609.2 L952.9,606.0 L955.0,602.7 L957.2,601.4 L959.5,600.6 L961.8,599.4 L964.0,597.9 L966.2,596.6 L968.5,596.6 L970.5,597.4 L972.5,598.4 L974.5,598.3 L976.5,598.4 L978.5,600.5 L980.6,601.7 L982.6,603.1 L984.6,604.0 L986.6,604.6 L988.6,607.0 L990.9,611.7 L993.1,618.4 L995.4,623.4 L997.6,625.3 L999.9,626.4 L1002.1,628.3 L1004.3,630.0 L1006.6,631.3 L1008.8,633.1 L1010.9,635.4 L1013.0,638.5 L1015.1,642.3 L1017.2,644.9 L1019.3,648.8 L1021.4,652.5 L1023.5,656.1 L1025.6,659.1 L1027.8,661.4 L1030.1,662.2 L1032.3,662.6 L1034.6,663.0 L1036.8,663.5 L1039.1,664.6 L1041.2,664.6 L1043.4,662.7 L1045.5,661.8 L1047.6,660.5 L1049.8,659.4 L1051.9,658.4 L1054.1,657.3 L1056.2,655.6 L1058.3,654.9 L1060.5,653.6 L1062.6,651.8 L1064.6,651.8 L1066.6,651.9 L1068.6,651.0 L1070.7,651.0 L1072.7,649.6 L1074.7,649.0 L1076.7,649.1 L1078.7,648.9 L1080.7,648.3 L1082.8,647.9 L1084.8,646.9 L1086.8,646.5 L1088.8,646.1 L1090.8,645.7 L1092.8,645.0 L1094.9,644.5 L1096.9,643.9 L1098.9,643.4 L1100.9,641.9 L1102.9,641.8 L1104.9,640.8 L1107.0,640.2 L1109.0,639.9 L1111.0,639.5 L1113.0,638.6 L1115.0,638.5 L1117.0,638.9 L1119.1,638.9 L1121.1,639.1 L1123.1,639.3 L1125.1,639.5 L1127.1,639.3 L1129.2,639.5 L1131.2,639.8 L1133.2,639.3 L1135.2,639.8 L1137.2,639.4 L1139.3,639.8 L1141.3,640.1 L1143.3,640.4 L1145.3,639.8 L1147.3,639.6 L1149.4,639.4 L1151.4,640.0 L1153.4,640.2 L1155.4,639.6 L1157.4,640.3 L1159.5,640.9 L1161.5,640.6 L1163.5,640.6 L1165.6,640.7 L1167.7,640.2 L1169.8,640.2 L1171.9,640.5 L1174.0,640.3 L1176.1,640.3 L1178.2,640.4 L1180.2,641.0 L1182.3,640.8 L1184.4,640.7 L1186.5,640.3 L1188.6,640.8 L1190.7,640.5 L1192.8,640.3 L1194.9,640.7 L1197.0,641.0" fill="none" stroke="#9bac7e" stroke-width="1.4" stroke-linejoin="round"/>
<path d="M214.0,630.0 L216.0,630.2 L218.1,631.0 L220.1,630.9 L222.1,631.7 L224.2,631.5 L226.2,632.4 L228.2,631.8 L230.3,631.1 L232.3,630.9 L234.3,632.3 L236.3,632.1 L238.4,632.2 L240.4,632.2 L242.4,632.3 L244.5,632.7 L246.5,633.0 L248.5,633.0 L250.6,633.1 L252.6,634.0 L254.6,634.7 L256.6,635.3 L258.6,636.0 L260.7,636.0 L262.7,636.6 L264.7,637.5 L266.7,637.2 L268.7,638.0 L270.8,637.2 L272.8,637.1 L274.8,637.4 L276.8,637.9 L278.9,638.3 L280.9,638.7 L282.9,639.5 L285.0,639.5 L287.1,639.6 L289.1,639.4 L291.2,639.3 L293.2,639.8 L295.2,640.0 L297.3,640.8 L299.4,641.1 L301.4,640.5 L303.5,641.3 L305.5,641.0 L307.6,641.3 L309.6,641.1 L311.7,641.0 L313.7,640.9 L315.8,640.5 L317.8,640.4 L319.9,640.4 L321.9,640.7 L324.0,640.9 L326.0,641.3 L328.1,640.1 L330.1,639.8 L332.2,640.2 L334.2,639.5 L336.3,639.3 L338.3,639.5 L340.4,639.7 L342.6,638.9 L344.8,637.8 L346.9,636.6 L349.1,635.9 L351.3,634.8 L353.5,634.2 L355.6,633.5 L357.7,633.4 L359.8,633.1 L361.9,632.7 L364.0,632.6 L366.0,632.5 L368.1,632.5 L370.2,632.5 L372.3,632.1 L374.4,632.6 L376.5,632.9 L378.6,633.5 L380.7,632.3 L382.8,632.0 L384.9,631.9 L386.9,631.9 L389.0,632.2 L391.1,632.0 L393.2,631.9 L395.3,632.5 L397.4,632.3 L399.6,631.6 L401.8,632.0 L404.0,632.7 L406.2,632.6 L408.4,631.9 L410.5,632.1 L412.7,631.5 L414.9,630.9 L417.1,630.7 L419.3,631.0 L421.3,630.8 L423.3,630.5 L425.4,629.9 L427.4,630.2 L429.4,629.9 L431.4,630.1 L433.4,629.7 L435.4,629.7 L437.5,629.7 L439.5,629.8 L441.5,629.7 L443.5,630.6 L445.5,631.0 L447.5,630.7 L449.6,630.3 L451.6,631.0 L453.6,630.8 L455.6,631.1 L457.6,631.4 L459.6,631.0 L461.7,631.2 L463.7,631.3 L465.7,631.0 L467.7,630.9 L469.7,630.7 L471.8,629.5 L473.8,630.0 L475.8,631.1 L477.8,631.5 L479.8,632.5 L481.8,632.0 L483.9,632.1 L485.9,631.5 L487.9,631.1 L489.9,630.9 L491.9,631.2 L493.9,631.6 L496.0,630.8 L498.0,631.3 L500.0,631.7 L502.1,631.7 L504.2,630.7 L506.2,630.6 L508.3,630.5 L510.4,629.7 L512.5,629.2 L514.6,630.1 L516.7,629.4 L518.7,629.0 L520.8,628.0 L522.9,627.9 L525.0,628.5 L527.1,628.4 L529.1,627.7 L531.2,627.6 L533.3,627.5 L535.4,627.5 L537.5,626.7 L539.6,626.7 L541.6,626.2 L543.7,625.8 L545.8,625.2 L547.9,624.5 L549.9,624.1 L552.0,622.6 L554.0,622.2 L556.1,622.7 L558.1,621.2 L560.2,620.2 L562.2,619.3 L564.3,619.2 L566.4,617.5 L568.4,617.0 L570.5,616.1 L572.5,616.1 L574.6,614.9 L576.6,614.7 L578.7,613.1 L580.8,612.5 L582.8,611.3 L584.9,610.6 L586.9,609.6 L589.0,609.1 L591.0,609.4 L593.1,608.4 L595.2,608.8 L597.2,608.5 L599.3,607.5 L601.3,606.5 L603.4,605.8 L605.4,604.7 L607.5,604.4 L609.5,603.7 L611.6,602.3 L613.8,602.1 L616.0,602.0 L618.2,601.6 L620.4,601.3 L622.5,600.8 L624.7,600.1 L626.9,600.2 L629.1,600.2 L631.3,599.3 L633.5,599.2 L635.7,598.6 L637.9,599.4 L640.1,599.1 L642.3,599.4 L644.5,600.0 L646.6,599.9 L648.8,600.1 L651.0,600.7 L653.2,600.5 L655.4,601.1 L657.5,602.3 L659.6,603.2 L661.7,603.7 L663.8,604.6 L665.9,605.6 L667.9,606.7 L670.0,608.1 L672.1,608.4 L674.2,609.6 L676.3,610.8 L678.4,612.5 L680.5,612.7 L682.6,613.5 L684.7,615.1 L686.8,616.1 L688.8,617.5 L690.9,618.4 L693.0,619.0 L695.1,620.1 L697.2,621.6 L699.3,622.6 L701.5,623.1 L703.7,623.4 L705.9,624.1 L708.1,624.6 L710.2,624.9 L712.4,625.4 L714.6,625.7 L716.8,625.5 L719.0,626.4 L721.2,627.3 L723.3,628.1 L725.4,628.2 L727.5,628.1 L729.6,628.9 L731.7,629.1 L733.7,629.0 L735.8,630.0 L737.9,630.4 L740.0,631.2 L742.1,631.7 L744.2,632.7 L746.3,633.5 L748.4,634.1 L750.5,634.9 L752.6,635.0 L754.6,636.4 L756.7,635.8 L758.8,636.7 L760.9,637.5 L763.0,637.7 L765.1,638.1 L767.2,637.9 L769.4,638.1 L771.5,638.6 L773.6,638.4 L775.7,638.1 L777.9,638.7 L780.0,638.6 L782.1,637.8 L784.3,636.9 L786.4,635.5 L788.6,635.2 L790.7,634.6 L792.9,633.4 L795.0,632.4 L797.1,632.7 L799.3,633.4 L801.4,633.8 L803.6,634.4 L805.7,635.5 L807.9,635.9 L810.0,636.2 L812.1,635.8 L814.3,634.9 L816.4,634.6 L818.6,633.5 L820.7,633.4 L822.9,633.0 L825.0,632.5 L827.1,633.1 L829.3,634.1 L831.4,634.4 L833.6,635.0 L835.7,635.4 L837.9,636.1 L840.0,636.4 L842.1,636.2 L844.3,635.7 L846.4,635.8 L848.6,634.8 L850.7,634.2 L852.9,633.1 L855.0,633.2 L857.1,633.3 L859.3,633.7 L861.4,634.2 L863.6,634.9 L865.7,635.5 L867.9,636.3 L870.0,637.3 L872.1,636.7 L874.3,635.5 L876.4,634.1 L878.6,633.7 L880.7,632.8 L882.9,632.0 L885.0,632.0 L887.1,632.6 L889.3,633.6 L891.4,634.7 L893.6,634.8 L895.7,635.3 L897.9,635.8 L900.0,635.9 L902.2,635.4 L904.4,634.4 L906.6,634.0 L908.8,632.6 L911.0,633.0 L913.0,631.6 L915.1,632.1 L917.1,631.4 L919.1,631.3 L921.2,631.0 L923.2,631.2 L925.2,631.5 L927.3,631.3 L929.3,631.0 L931.4,630.7 L933.4,630.6 L935.4,630.4 L937.5,630.4 L939.5,630.6 L941.5,631.0 L943.6,630.6 L945.6,629.8 L947.6,630.0 L949.7,630.5 L951.7,631.0 L953.7,634.1 L955.7,637.4 L957.7,640.8 L959.7,644.9 L961.7,647.3 L963.8,649.1 L965.9,649.2 L968.0,650.2 L970.2,651.7 L972.3,652.6 L974.4,653.4 L976.5,654.7 L978.6,655.4 L980.7,656.6 L982.8,658.5 L984.9,660.4 L987.0,662.3 L989.1,663.9 L991.2,666.2 L993.3,667.9 L995.4,669.0 L997.6,670.5 L999.9,669.7 L1002.1,670.1 L1004.3,670.1 L1006.6,671.3 L1008.8,670.6 L1011.0,668.7 L1013.3,665.8 L1015.5,663.4 L1017.8,660.0 L1020.0,657.4 L1022.3,653.7 L1024.4,651.2 L1026.4,648.8 L1028.5,646.1 L1030.6,643.3 L1032.6,639.5 L1034.7,636.8 L1036.8,633.9 L1038.9,631.7 L1040.9,628.9 L1043.0,626.1 L1045.1,623.6 L1047.1,620.6 L1049.2,617.0 L1051.4,614.2 L1053.7,611.0 L1055.9,609.4 L1058.1,606.8 L1060.4,603.9 L1062.6,602.3 L1064.7,601.1 L1066.8,600.4 L1068.9,600.4 L1071.0,598.8 L1073.1,597.9 L1075.2,597.6 L1077.3,597.1 L1079.4,597.1 L1081.5,596.2 L1083.6,595.8 L1085.7,595.8 L1087.8,594.3 L1089.9,593.2 L1092.0,592.5 L1094.1,592.0 L1096.2,591.3 L1098.2,591.3 L1100.2,591.0 L1102.3,591.4 L1104.3,591.3 L1106.3,591.3 L1108.3,591.0 L1110.3,590.7 L1112.4,589.8 L1114.4,589.7 L1116.4,588.9 L1118.4,589.6 L1120.4,589.0 L1122.5,588.6 L1124.5,588.4 L1126.5,589.3 L1128.5,588.5 L1130.5,589.0 L1132.6,588.6 L1134.6,589.2 L1136.6,588.4 L1138.6,587.8 L1140.6,587.5 L1142.7,587.0 L1144.7,586.6 L1146.7,586.9 L1148.7,586.7 L1150.7,587.2 L1152.7,587.3 L1154.8,587.6 L1156.8,588.1 L1158.8,588.2 L1160.8,587.5 L1162.8,588.0 L1164.8,586.8 L1166.9,587.6 L1168.9,588.1 L1170.9,587.5 L1172.9,588.1 L1174.9,587.3 L1176.9,587.9 L1179.0,587.8 L1181.0,587.8 L1183.0,587.8 L1185.0,587.7 L1187.0,588.2 L1189.0,588.2 L1191.1,588.3 L1193.1,588.3 L1195.1,588.3 L1197.1,588.0" fill="none" stroke="#d69560" stroke-width="1.4" stroke-linejoin="round"/>
<path d="M214.0,630.1 L216.0,629.9 L218.0,629.9 L220.0,629.9 L222.0,630.2 L224.0,629.6 L226.0,629.2 L228.0,629.6 L230.0,629.6 L232.0,629.4 L234.0,628.3 L236.2,627.5 L238.4,625.2 L240.6,624.9 L242.8,625.8 L245.0,626.5 L247.1,625.0 L249.2,622.8 L251.3,620.2 L253.4,616.9 L255.5,614.3 L257.6,611.2 L259.7,609.4 L261.8,607.4 L263.9,605.3 L266.0,602.1 L268.1,600.6 L270.2,599.1 L272.2,597.7 L274.2,596.4 L276.3,595.9 L278.3,596.3 L280.3,596.8 L282.3,596.0 L284.4,594.8 L286.4,594.4 L288.4,595.2 L290.4,594.7 L292.5,593.8 L294.5,592.9 L296.5,593.8 L298.7,595.6 L300.9,597.0 L303.1,598.1 L305.3,599.0 L307.5,599.8 L309.7,600.5 L311.8,601.2 L314.0,602.0 L316.2,603.6 L318.4,604.5 L320.6,605.8 L322.8,607.8 L325.0,608.0 L327.2,609.6 L329.4,611.7 L331.6,613.1 L333.8,614.4 L336.0,616.2 L338.2,617.5 L340.4,618.7 L342.6,620.0 L344.8,621.3 L347.0,622.5 L349.1,624.0 L351.3,625.0 L353.5,625.8 L355.7,628.2 L357.9,628.5 L360.1,628.5 L362.3,628.6 L364.5,628.4 L366.6,628.1 L368.8,628.6 L371.0,629.6 L373.2,628.9 L375.4,628.9 L377.5,629.1 L379.6,628.7 L381.7,628.8 L383.8,628.6 L385.9,627.9 L387.9,627.7 L390.0,627.4 L392.1,627.6 L394.2,626.3 L396.3,626.7 L398.4,627.1 L400.5,626.8 L402.6,626.6 L404.7,626.0 L406.8,626.0 L408.8,625.6 L410.9,624.9 L413.0,624.3 L415.1,623.5 L417.2,624.0 L419.3,624.2 L421.5,624.9 L423.7,625.3 L425.9,625.7 L428.1,625.3 L430.2,625.0 L432.4,625.5 L434.6,626.0 L436.8,626.7 L439.0,627.0 L441.2,627.3 L443.3,627.6 L445.4,627.9 L447.5,628.1 L449.6,628.3 L451.7,628.2 L453.7,628.4 L455.8,628.0 L457.9,628.0 L460.0,628.4 L462.1,629.0 L464.2,628.9 L466.3,628.7 L468.4,629.6 L470.5,629.4 L472.6,629.1 L474.6,629.2 L476.7,629.3 L478.8,628.9 L480.9,629.5 L483.0,630.8 L485.1,630.6 L487.1,630.3 L489.2,630.7 L491.2,630.5 L493.3,630.2 L495.3,630.5 L497.4,629.6 L499.4,629.4 L501.4,629.4 L503.5,629.3 L505.5,628.5 L507.6,628.1 L509.6,628.8 L511.6,628.4 L513.7,628.0 L515.7,628.3 L517.8,627.2 L519.8,627.1 L521.9,626.3 L523.9,627.0 L526.0,626.3 L528.1,626.3 L530.2,625.7 L532.2,625.7 L534.3,625.7 L536.4,625.4 L538.5,625.0 L540.6,624.9 L542.7,624.5 L544.8,624.1 L546.8,624.2 L548.9,624.3 L551.0,623.3 L553.1,622.7 L555.2,622.4 L557.3,622.5 L559.4,621.8 L561.4,622.5 L563.5,622.1 L565.6,621.9 L567.7,622.0 L569.9,621.3 L572.1,621.4 L574.3,621.4 L576.5,621.7 L578.7,620.9 L580.9,621.3 L583.1,621.2 L585.3,621.0 L587.5,620.7 L589.6,619.1 L591.8,617.9 L594.0,618.7 L596.2,619.6 L598.4,621.3 L600.6,622.8 L602.8,623.8 L605.0,624.9 L607.2,625.6 L609.4,626.5 L611.6,628.2 L613.7,628.3 L615.7,628.8 L617.8,629.4 L619.8,629.4 L621.9,629.7 L623.9,630.0 L626.0,631.5 L628.0,631.9 L630.1,632.6 L632.2,633.5 L634.2,633.8 L636.3,634.3 L638.3,634.0 L640.4,633.9 L642.4,634.9 L644.5,635.7 L646.6,635.6 L648.6,636.6 L650.7,637.2 L652.7,638.0 L654.8,638.9 L656.8,640.0 L658.9,640.0 L661.0,640.5 L663.0,641.6 L665.1,641.9 L667.1,642.7 L669.2,643.2 L671.2,643.1 L673.3,643.8 L675.3,645.0 L677.4,645.3 L679.5,644.8 L681.5,644.8 L683.6,645.0 L685.6,645.2 L687.7,645.2 L689.7,645.2 L691.8,644.5 L693.8,644.2 L695.9,643.9 L698.0,643.8 L700.0,644.1 L702.1,644.5 L704.1,644.1 L706.2,644.3 L708.2,644.4 L710.3,643.4 L712.5,642.8 L714.7,642.5 L716.9,641.6 L719.1,642.2 L721.2,640.9 L723.4,640.2 L725.6,640.4 L727.8,639.7 L730.0,640.6 L732.2,642.4 L734.4,645.1 L736.5,645.1 L738.5,645.0 L740.6,644.8 L742.6,643.6 L744.7,642.9 L746.8,641.9 L748.8,641.4 L750.9,641.7 L752.9,641.3 L755.0,641.2 L757.3,641.1 L759.7,640.5 L762.0,642.6 L763.5,647.0 L765.6,648.7 L767.6,648.1 L769.7,647.5 L771.7,647.0 L773.8,646.0 L775.8,644.9 L777.9,644.0 L779.9,643.8 L782.0,642.8 L784.0,642.6 L786.1,641.0 L788.1,640.4 L790.2,639.7 L790.3,642.2 L791.8,646.7 L793.9,648.9 L796.0,648.0 L798.1,647.0 L800.2,645.8 L802.3,644.6 L804.4,644.0 L806.5,643.7 L808.6,643.1 L810.7,642.4 L812.8,641.6 L814.9,640.2 L817.0,640.0 L819.1,639.4 L819.2,641.4 L820.7,646.4 L822.8,648.9 L824.9,648.1 L827.0,646.6 L829.1,646.8 L831.2,645.2 L833.3,645.2 L835.5,644.5 L837.6,643.1 L839.7,642.8 L841.8,642.3 L843.9,641.5 L846.0,640.6 L848.1,639.8 L848.2,642.1 L849.7,646.8 L851.8,648.9 L853.9,648.5 L856.0,647.4 L858.1,647.3 L860.2,645.5 L862.3,644.7 L864.4,643.3 L866.5,642.0 L868.6,641.7 L870.7,641.0 L872.8,640.2 L874.9,639.1 L877.0,638.7 L877.1,640.7 L878.6,646.1 L880.7,648.1 L882.8,647.1 L884.9,646.8 L887.0,645.4 L889.1,645.1 L891.2,644.6 L893.3,644.0 L895.4,643.2 L897.5,642.7 L899.6,641.6 L901.7,640.3 L903.8,639.8 L905.9,638.9 L906.0,641.3 L907.5,646.5 L909.5,648.3 L911.6,648.0 L913.6,646.6 L915.6,646.5 L917.7,645.6 L919.7,645.4 L921.7,644.8 L923.7,643.9 L925.8,642.9 L927.8,641.9 L929.8,640.4 L931.9,639.4 L933.9,638.1 L936.1,636.3 L938.3,634.5 L940.6,632.3 L942.8,630.6 L945.0,628.6 L947.1,626.7 L949.1,625.2 L951.2,623.6 L953.2,621.2 L955.3,619.4 L957.4,618.9 L959.4,616.8 L961.5,614.9 L963.6,612.5 L965.6,611.1 L967.7,609.8 L969.7,607.9 L971.8,606.2 L973.9,605.8 L976.1,605.2 L978.2,605.9 L980.4,606.0 L982.5,606.5 L984.7,606.8 L986.8,607.1 L989.0,608.0 L991.1,608.2 L993.3,607.8 L995.4,608.4 L997.5,609.4 L999.6,610.4 L1001.7,612.0 L1003.8,612.7 L1005.9,613.1 L1008.0,614.1 L1010.1,615.7 L1012.2,616.6 L1014.3,618.3 L1016.4,619.3 L1018.5,621.2 L1020.6,622.7 L1022.7,623.9 L1024.8,625.4 L1026.9,626.9 L1029.0,628.7 L1031.1,629.3 L1033.2,629.5 L1035.3,629.9 L1037.4,630.5 L1039.5,630.9 L1041.6,631.7 L1043.7,631.4 L1045.8,631.9 L1047.9,632.1 L1050.0,632.0 L1052.1,632.6 L1054.2,633.1 L1056.3,633.6 L1058.4,633.9 L1060.5,633.6 L1062.6,634.0 L1064.6,634.3 L1066.7,635.0 L1068.7,634.9 L1070.8,634.9 L1072.8,635.5 L1074.8,635.4 L1076.9,635.1 L1078.9,635.4 L1081.0,635.7 L1083.0,635.8 L1085.0,635.1 L1087.1,635.3 L1089.1,636.0 L1091.2,635.8 L1093.2,636.4 L1095.2,636.6 L1097.3,636.3 L1099.3,636.9 L1101.3,636.1 L1103.4,635.7 L1105.4,635.7 L1107.5,636.7 L1109.5,636.9 L1111.5,637.5 L1113.6,637.7 L1115.6,637.9 L1117.7,637.8 L1119.7,637.9 L1121.7,638.6 L1123.8,638.9 L1125.8,638.4 L1127.9,638.9 L1129.9,639.8 L1131.9,639.8 L1134.0,639.2 L1136.0,639.5 L1138.0,639.5 L1140.1,639.3 L1142.1,639.7 L1144.2,640.0 L1146.2,639.6 L1148.2,639.6 L1150.3,639.4 L1152.3,639.5 L1154.3,640.2 L1156.4,639.8 L1158.4,640.0 L1160.4,640.0 L1162.5,640.0 L1164.5,639.5 L1166.6,639.9 L1168.6,639.5 L1170.6,640.0 L1172.7,640.0 L1174.7,640.1 L1176.7,640.0 L1178.8,639.7 L1180.8,639.6 L1182.8,639.9 L1184.9,640.1 L1186.9,640.3 L1189.0,640.3 L1191.0,640.7 L1193.0,640.7 L1195.1,640.8 L1197.1,640.6" fill="none" stroke="#d6625b" stroke-width="1.5" stroke-linejoin="round"/>
</g>
<rect x="234.3" y="450" width="103.4" height="225.1" fill="none" stroke="#111" stroke-width="2.3" stroke-dasharray="6.5,4"/>
<text x="286.00" y="512.20" font-family='"Liberation Sans", sans-serif' font-size="17.5" fill="#111" text-anchor="middle" font-weight="normal" font-style="normal" stroke="#111" stroke-width="0.3">Moving</text>
<text x="286.00" y="534.00" font-family='"Liberation Sans", sans-serif' font-size="17.5" fill="#111" text-anchor="middle" font-weight="normal" font-style="normal" stroke="#111" stroke-width="0.3">(coarse)</text>
<text x="286.50" y="562.40" font-family='"Liberation Sans", sans-serif' font-size="17.5" fill="#111" text-anchor="middle" font-weight="normal" font-style="normal" textLength="99" lengthAdjust="spacingAndGlyphs" stroke="#111" stroke-width="0.3">Observation</text>
<text x="276.00" y="582.80" font-family='"Liberation Sans", sans-serif' font-size="17.5" fill="#111" text-anchor="middle" font-weight="normal" font-style="normal" textLength="61" lengthAdjust="spacingAndGlyphs" stroke="#111" stroke-width="0.3">Window</text>
<text x="317.00" y="582.80" font-family='"Liberation Serif", serif' font-size="20" fill="#111" text-anchor="middle" font-weight="normal" font-style="normal" ><tspan font-style="italic">p</tspan><tspan font-size="13" dy="2.5">1</tspan></text>
<path d="M365.09999999999997,457.1 L389.09999999999997,495.9 L373.4,495.9 C373.09999999999997,510 355.09999999999997,524 342.0,525.7 C353.09999999999997,518 357.09999999999997,508 356.79999999999995,495.9 L341.09999999999997,495.9 Z" fill="none" stroke="#111" stroke-width="1.5" stroke-linejoin="miter"/>
<rect x="423.2" y="450" width="103.7" height="225.1" fill="none" stroke="#111" stroke-width="2.3" stroke-dasharray="6.5,4"/>
<text x="475.05" y="512.20" font-family='"Liberation Sans", sans-serif' font-size="17.5" fill="#111" text-anchor="middle" font-weight="normal" font-style="normal" stroke="#111" stroke-width="0.3">Picke</text>
<text x="475.05" y="534.00" font-family='"Liberation Sans", sans-serif' font-size="17.5" fill="#111" text-anchor="middle" font-weight="normal" font-style="normal" stroke="#111" stroke-width="0.3">(delicated)</text>
<text x="475.55" y="562.40" font-family='"Liberation Sans", sans-serif' font-size="17.5" fill="#111" text-anchor="middle" font-weight="normal" font-style="normal" textLength="99" lengthAdjust="spacingAndGlyphs" stroke="#111" stroke-width="0.3">Observation</text>
<text x="465.05" y="582.80" font-family='"Liberation Sans", sans-serif' font-size="17.5" fill="#111" text-anchor="middle" font-weight="normal" font-style="normal" textLength="61" lengthAdjust="spacingAndGlyphs" stroke="#111" stroke-width="0.3">Window</text>
<text x="506.05" y="582.80" font-family='"Liberation Serif", serif' font-size="20" fill="#111" text-anchor="middle" font-weight="normal" font-style="normal" ><tspan font-style="italic">p</tspan><tspan font-size="13" dy="2.5">2</tspan></text>
<path d="M554.3,457.1 L578.3,495.9 L562.5999999999999,495.9 C562.3,510 544.3,524 531.1999999999999,525.7 C542.3,518 546.3,508 546.0,495.9 L530.3,495.9 Z" fill="none" stroke="#111" stroke-width="1.5" stroke-linejoin="miter"/>
<rect x="610.3" y="450" width="103.3" height="225.1" fill="none" stroke="#111" stroke-width="2.3" stroke-dasharray="6.5,4"/>
<text x="661.95" y="512.20" font-family='"Liberation Sans", sans-serif' font-size="17.5" fill="#111" text-anchor="middle" font-weight="normal" font-style="normal" stroke="#111" stroke-width="0.3">Moving</text>
<text x="661.95" y="534.00" font-family='"Liberation Sans", sans-serif' font-size="17.5" fill="#111" text-anchor="middle" font-weight="normal" font-style="normal" stroke="#111" stroke-width="0.3">(coarse)</text>
<text x="662.45" y="562.40" font-family='"Liberation Sans", sans-serif' font-size="17.5" fill="#111" text-anchor="middle" font-weight="normal" font-style="normal" textLength="99" lengthAdjust="spacingAndGlyphs" stroke="#111" stroke-width="0.3">Observation</text>
<text x="651.95" y="582.80" font-family='"Liberation Sans", sans-serif' font-size="17.5" fill="#111" text-anchor="middle" font-weight="normal" font-style="normal" textLength="61" lengthAdjust="spacingAndGlyphs" stroke="#111" stroke-width="0.3">Window</text>
<text x="692.95" y="582.80" font-family='"Liberation Serif", serif' font-size="20" fill="#111" text-anchor="middle" font-weight="normal" font-style="normal" ><tspan font-style="italic">p</tspan><tspan font-size="13" dy="2.5">3</tspan></text>
<path d="M741.0,457.1 L765.0,495.9 L749.3,495.9 C749.0,510 731.0,524 717.9,525.7 C729.0,518 733.0,508 732.7,495.9 L717.0,495.9 Z" fill="none" stroke="#111" stroke-width="1.5" stroke-linejoin="miter"/>
<rect x="807.9" y="450" width="103.7" height="225.1" fill="none" stroke="#111" stroke-width="2.3" stroke-dasharray="6.5,4"/>
<text x="859.75" y="512.20" font-family='"Liberation Sans", sans-serif' font-size="17.5" fill="#111" text-anchor="middle" font-weight="normal" font-style="normal" stroke="#111" stroke-width="0.3">Place</text>
<text x="859.75" y="534.00" font-family='"Liberation Sans", sans-serif' font-size="17.5" fill="#111" text-anchor="middle" font-weight="normal" font-style="normal" stroke="#111" stroke-width="0.3">(delicated)</text>
<text x="860.25" y="562.40" font-family='"Liberation Sans", sans-serif' font-size="17.5" fill="#111" text-anchor="middle" font-weight="normal" font-style="normal" textLength="99" lengthAdjust="spacingAndGlyphs" stroke="#111" stroke-width="0.3">Observation</text>
<text x="849.75" y="582.80" font-family='"Liberation Sans", sans-serif' font-size="17.5" fill="#111" text-anchor="middle" font-weight="normal" font-style="normal" textLength="61" lengthAdjust="spacingAndGlyphs" stroke="#111" stroke-width="0.3">Window</text>
<text x="890.75" y="582.80" font-family='"Liberation Serif", serif' font-size="20" fill="#111" text-anchor="middle" font-weight="normal" font-style="normal" ><tspan font-style="italic">p</tspan><tspan font-size="13" dy="2.5">4</tspan></text>
<path d="M939.0,457.1 L963.0,495.9 L947.3,495.9 C947.0,510 929.0,524 915.9,525.7 C927.0,518 931.0,508 930.7,495.9 L915.0,495.9 Z" fill="none" stroke="#111" stroke-width="1.5" stroke-linejoin="miter"/>
<rect x="1013.3" y="450" width="103.8" height="225.1" fill="none" stroke="#111" stroke-width="2.3" stroke-dasharray="6.5,4"/>
<text x="1065.20" y="512.20" font-family='"Liberation Sans", sans-serif' font-size="17.5" fill="#111" text-anchor="middle" font-weight="normal" font-style="normal" stroke="#111" stroke-width="0.3">Moving</text>
<text x="1065.20" y="534.00" font-family='"Liberation Sans", sans-serif' font-size="17.5" fill="#111" text-anchor="middle" font-weight="normal" font-style="normal" stroke="#111" stroke-width="0.3">(coarse)</text>
<text x="1065.70" y="562.40" font-family='"Liberation Sans", sans-serif' font-size="17.5" fill="#111" text-anchor="middle" font-weight="normal" font-style="normal" textLength="99" lengthAdjust="spacingAndGlyphs" stroke="#111" stroke-width="0.3">Observation</text>
<text x="1055.20" y="582.80" font-family='"Liberation Sans", sans-serif' font-size="17.5" fill="#111" text-anchor="middle" font-weight="normal" font-style="normal" textLength="61" lengthAdjust="spacingAndGlyphs" stroke="#111" stroke-width="0.3">Window</text>
<text x="1096.20" y="582.80" font-family='"Liberation Serif", serif' font-size="20" fill="#111" text-anchor="middle" font-weight="normal" font-style="normal" ><tspan font-style="italic">p</tspan><tspan font-size="13" dy="2.5">5</tspan></text>
<path d="M1144.5,457.1 L1168.5,495.9 L1152.8,495.9 C1152.5,510 1134.5,524 1121.3999999999999,525.7 C1132.5,518 1136.5,508 1136.2,495.9 L1120.5,495.9 Z" fill="none" stroke="#111" stroke-width="1.5" stroke-linejoin="miter"/>
<rect x="1170.40" y="479.00" width="70.10" height="67.30" rx="2" fill="#fff" stroke="#dcdcdc" stroke-width="1" fill-opacity="0.85"/>
<line x1="1175.20" y1="490.00" x2="1204.80" y2="490.00" stroke="#7d8a96" stroke-width="1.6" />
<rect x="1175.20" y="506.40" width="29.60" height="11.00" rx="0" fill="#d3d7dc" stroke="none" stroke-width="1" />
<line x1="1175.20" y1="532.70" x2="1204.80" y2="532.70" stroke="#5f8197" stroke-width="1.6" />
<text x="1216.40" y="495.50" font-family='"Liberation Sans", sans-serif' font-size="14" fill="#222" text-anchor="start" font-weight="normal" font-style="normal" >Δ<tspan font-family='"Liberation Serif", serif' font-style="italic">ϕ</tspan></text>
<text x="1216.40" y="516.00" font-family='"Liberation Sans", sans-serif' font-size="14" fill="#222" text-anchor="start" font-weight="normal" font-style="normal" >Δ<tspan font-family='"Liberation Serif", serif' font-style="italic">θ</tspan></text>
<text x="1216.40" y="537.00" font-family='"Liberation Sans", sans-serif' font-size="14" fill="#222" text-anchor="start" font-weight="normal" font-style="normal" >Δ<tspan font-family='"Liberation Serif", serif' font-style="italic">ψ</tspan></text>
<rect x="1171.20" y="596.00" width="69.10" height="66.60" rx="2" fill="#fff" stroke="#dcdcdc" stroke-width="1" fill-opacity="0.85"/>
<line x1="1175.50" y1="606.60" x2="1205.00" y2="606.60" stroke="#d5615a" stroke-width="1.6" />
<rect x="1175.50" y="621.50" width="29.50" height="11.50" rx="0" fill="#f0c8c6" stroke="none" stroke-width="1" />
<line x1="1175.50" y1="648.60" x2="1205.00" y2="648.60" stroke="#d4915a" stroke-width="1.6" />
<text x="1216.40" y="611.00" font-family='"Liberation Sans", sans-serif' font-size="14" fill="#222" text-anchor="start" font-weight="normal" font-style="normal" >Δ<tspan font-style="italic">x</tspan></text>
<text x="1216.40" y="632.00" font-family='"Liberation Sans", sans-serif' font-size="14" fill="#222" text-anchor="start" font-weight="normal" font-style="normal" >Δ<tspan font-style="italic">y</tspan></text>
<text x="1216.40" y="653.00" font-family='"Liberation Sans", sans-serif' font-size="14" fill="#222" text-anchor="start" font-weight="normal" font-style="normal" >Δ<tspan font-style="italic">z</tspan></text>
</svg>
</body></html>
